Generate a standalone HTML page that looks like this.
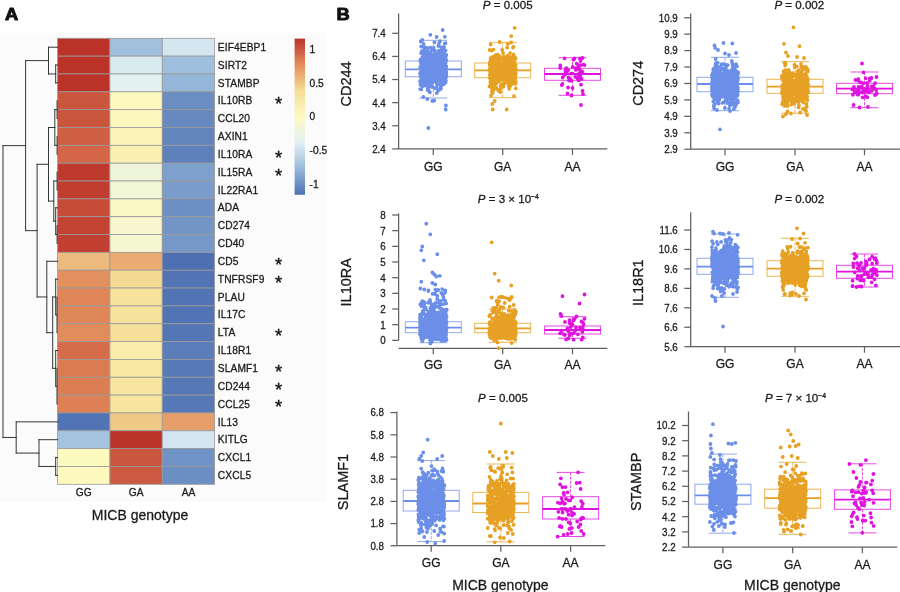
<!DOCTYPE html>
<html lang="en"><head><meta charset="utf-8"><title>MICB genotype figure</title>
<style>html,body{margin:0;padding:0;background:#fff}svg{display:block}text{font-family:"Liberation Sans", Arial, Helvetica, sans-serif;stroke:#1a1a1a;stroke-width:0.28px}</style>
</head><body>
<svg width="900" height="592" viewBox="0 0 900 592">
<rect width="900" height="592" fill="#ffffff"/>
<rect x="0" y="33" width="326" height="469" fill="#fbfbfb"/>
<g stroke="#9a9a9a" stroke-width="0.8">
<rect x="57.60" y="38.30" width="52.33" height="17.84" fill="#bb3229"/>
<rect x="109.93" y="38.30" width="52.33" height="17.84" fill="#a0c0dd"/>
<rect x="162.27" y="38.30" width="52.33" height="17.84" fill="#d4e6ef"/>
<rect x="57.60" y="56.14" width="52.33" height="17.84" fill="#bb3229"/>
<rect x="109.93" y="56.14" width="52.33" height="17.84" fill="#daeaf1"/>
<rect x="162.27" y="56.14" width="52.33" height="17.84" fill="#9ebfdd"/>
<rect x="57.60" y="73.98" width="52.33" height="17.84" fill="#bb3229"/>
<rect x="109.93" y="73.98" width="52.33" height="17.84" fill="#e3f1f1"/>
<rect x="162.27" y="73.98" width="52.33" height="17.84" fill="#94b7d9"/>
<rect x="57.60" y="91.82" width="52.33" height="17.84" fill="#ca563d"/>
<rect x="109.93" y="91.82" width="52.33" height="17.84" fill="#fdf9be"/>
<rect x="162.27" y="91.82" width="52.33" height="17.84" fill="#6a8dc2"/>
<rect x="57.60" y="109.66" width="52.33" height="17.84" fill="#ca563d"/>
<rect x="109.93" y="109.66" width="52.33" height="17.84" fill="#fcf8bd"/>
<rect x="162.27" y="109.66" width="52.33" height="17.84" fill="#6789c0"/>
<rect x="57.60" y="127.50" width="52.33" height="17.84" fill="#ce5f42"/>
<rect x="109.93" y="127.50" width="52.33" height="17.84" fill="#fcf4b7"/>
<rect x="162.27" y="127.50" width="52.33" height="17.84" fill="#6385be"/>
<rect x="57.60" y="145.34" width="52.33" height="17.84" fill="#d26647"/>
<rect x="109.93" y="145.34" width="52.33" height="17.84" fill="#faf0b1"/>
<rect x="162.27" y="145.34" width="52.33" height="17.84" fill="#5f81bb"/>
<rect x="57.60" y="163.18" width="52.33" height="17.84" fill="#be392d"/>
<rect x="109.93" y="163.18" width="52.33" height="17.84" fill="#eff5db"/>
<rect x="162.27" y="163.18" width="52.33" height="17.84" fill="#7da0cc"/>
<rect x="57.60" y="181.02" width="52.33" height="17.84" fill="#c03e30"/>
<rect x="109.93" y="181.02" width="52.33" height="17.84" fill="#f1f6d7"/>
<rect x="162.27" y="181.02" width="52.33" height="17.84" fill="#7a9cca"/>
<rect x="57.60" y="198.86" width="52.33" height="17.84" fill="#c64c38"/>
<rect x="109.93" y="198.86" width="52.33" height="17.84" fill="#faf9c5"/>
<rect x="162.27" y="198.86" width="52.33" height="17.84" fill="#6e91c4"/>
<rect x="57.60" y="216.70" width="52.33" height="17.84" fill="#c24332"/>
<rect x="109.93" y="216.70" width="52.33" height="17.84" fill="#f6f7ce"/>
<rect x="162.27" y="216.70" width="52.33" height="17.84" fill="#7496c7"/>
<rect x="57.60" y="234.54" width="52.33" height="17.84" fill="#c14031"/>
<rect x="109.93" y="234.54" width="52.33" height="17.84" fill="#f4f7d0"/>
<rect x="162.27" y="234.54" width="52.33" height="17.84" fill="#7698c8"/>
<rect x="57.60" y="252.38" width="52.33" height="17.84" fill="#edba7d"/>
<rect x="109.93" y="252.38" width="52.33" height="17.84" fill="#eaac72"/>
<rect x="162.27" y="252.38" width="52.33" height="17.84" fill="#4e70b2"/>
<rect x="57.60" y="270.22" width="52.33" height="17.84" fill="#e3905f"/>
<rect x="109.93" y="270.22" width="52.33" height="17.84" fill="#f5da93"/>
<rect x="162.27" y="270.22" width="52.33" height="17.84" fill="#5274b4"/>
<rect x="57.60" y="288.06" width="52.33" height="17.84" fill="#df8558"/>
<rect x="109.93" y="288.06" width="52.33" height="17.84" fill="#f7e29c"/>
<rect x="162.27" y="288.06" width="52.33" height="17.84" fill="#5274b4"/>
<rect x="57.60" y="305.90" width="52.33" height="17.84" fill="#e08759"/>
<rect x="109.93" y="305.90" width="52.33" height="17.84" fill="#f7e29d"/>
<rect x="162.27" y="305.90" width="52.33" height="17.84" fill="#5274b4"/>
<rect x="57.60" y="323.74" width="52.33" height="17.84" fill="#e28c5c"/>
<rect x="109.93" y="323.74" width="52.33" height="17.84" fill="#f6df98"/>
<rect x="162.27" y="323.74" width="52.33" height="17.84" fill="#5476b5"/>
<rect x="57.60" y="341.58" width="52.33" height="17.84" fill="#d56d4b"/>
<rect x="109.93" y="341.58" width="52.33" height="17.84" fill="#faedac"/>
<rect x="162.27" y="341.58" width="52.33" height="17.84" fill="#5b7db9"/>
<rect x="57.60" y="359.42" width="52.33" height="17.84" fill="#db7b53"/>
<rect x="109.93" y="359.42" width="52.33" height="17.84" fill="#f8e7a3"/>
<rect x="162.27" y="359.42" width="52.33" height="17.84" fill="#577ab7"/>
<rect x="57.60" y="377.26" width="52.33" height="17.84" fill="#dc7e54"/>
<rect x="109.93" y="377.26" width="52.33" height="17.84" fill="#f8e5a1"/>
<rect x="162.27" y="377.26" width="52.33" height="17.84" fill="#5678b6"/>
<rect x="57.60" y="395.10" width="52.33" height="17.84" fill="#dd8055"/>
<rect x="109.93" y="395.10" width="52.33" height="17.84" fill="#f7e49f"/>
<rect x="162.27" y="395.10" width="52.33" height="17.84" fill="#5678b6"/>
<rect x="57.60" y="412.94" width="52.33" height="17.84" fill="#5274b4"/>
<rect x="109.93" y="412.94" width="52.33" height="17.84" fill="#f1c987"/>
<rect x="162.27" y="412.94" width="52.33" height="17.84" fill="#e79f69"/>
<rect x="57.60" y="430.78" width="52.33" height="17.84" fill="#a4c3df"/>
<rect x="109.93" y="430.78" width="52.33" height="17.84" fill="#bb3229"/>
<rect x="162.27" y="430.78" width="52.33" height="17.84" fill="#d4e6ef"/>
<rect x="57.60" y="448.62" width="52.33" height="17.84" fill="#fdfac0"/>
<rect x="109.93" y="448.62" width="52.33" height="17.84" fill="#ca563d"/>
<rect x="162.27" y="448.62" width="52.33" height="17.84" fill="#7093c5"/>
<rect x="57.60" y="466.46" width="52.33" height="17.84" fill="#fdf9be"/>
<rect x="109.93" y="466.46" width="52.33" height="17.84" fill="#cc5a40"/>
<rect x="162.27" y="466.46" width="52.33" height="17.84" fill="#6c8fc3"/>
</g>
<g font-size="10.2" fill="#1a1a1a" letter-spacing="0.12">
<text x="217.8" y="50.87">EIF4EBP1</text>
<text x="217.8" y="68.71">SIRT2</text>
<text x="217.8" y="86.55">STAMBP</text>
<text x="217.8" y="104.39">IL10RB</text>
<text x="217.8" y="122.23">CCL20</text>
<text x="217.8" y="140.07">AXIN1</text>
<text x="217.8" y="157.91">IL10RA</text>
<text x="217.8" y="175.75">IL15RA</text>
<text x="217.8" y="193.59">IL22RA1</text>
<text x="217.8" y="211.43">ADA</text>
<text x="217.8" y="229.27">CD274</text>
<text x="217.8" y="247.11">CD40</text>
<text x="217.8" y="264.95">CD5</text>
<text x="217.8" y="282.79">TNFRSF9</text>
<text x="217.8" y="300.63">PLAU</text>
<text x="217.8" y="318.47">IL17C</text>
<text x="217.8" y="336.31">LTA</text>
<text x="217.8" y="354.15">IL18R1</text>
<text x="217.8" y="371.99">SLAMF1</text>
<text x="217.8" y="389.83">CD244</text>
<text x="217.8" y="407.67">CCL25</text>
<text x="217.8" y="425.51">IL13</text>
<text x="217.8" y="443.35">KITLG</text>
<text x="217.8" y="461.19">CXCL1</text>
<text x="217.8" y="479.03">CXCL5</text>
</g>
<g font-size="18.5" fill="#111" stroke="#111" stroke-width="0.35" text-anchor="middle">
<text x="278.6" y="110.14" style="stroke:#111;stroke-width:0.35px">*</text>
<text x="278.6" y="163.66" style="stroke:#111;stroke-width:0.35px">*</text>
<text x="278.6" y="181.50" style="stroke:#111;stroke-width:0.35px">*</text>
<text x="278.6" y="270.70" style="stroke:#111;stroke-width:0.35px">*</text>
<text x="278.6" y="288.54" style="stroke:#111;stroke-width:0.35px">*</text>
<text x="278.6" y="342.06" style="stroke:#111;stroke-width:0.35px">*</text>
<text x="278.6" y="377.74" style="stroke:#111;stroke-width:0.35px">*</text>
<text x="278.6" y="395.58" style="stroke:#111;stroke-width:0.35px">*</text>
<text x="278.6" y="413.42" style="stroke:#111;stroke-width:0.35px">*</text>
</g>
<g font-size="10.2" fill="#1a1a1a" text-anchor="middle">
<text x="83.77" y="495.8">GG</text>
<text x="136.10" y="495.8">GA</text>
<text x="188.43" y="495.8">AA</text>
</g>
<text x="140" y="519.5" font-size="14" fill="#1a1a1a" text-anchor="middle">MICB genotype</text>
<defs><linearGradient id="lg" x1="0" y1="0" x2="0" y2="1">
<stop offset="0.0000" stop-color="#bb3229"/>
<stop offset="0.1652" stop-color="#e28c5c"/>
<stop offset="0.3348" stop-color="#f6de96"/>
<stop offset="0.5000" stop-color="#fdfac0"/>
<stop offset="0.6652" stop-color="#e2f0f4"/>
<stop offset="0.8348" stop-color="#96b9da"/>
<stop offset="1.0000" stop-color="#4e70b2"/>
</linearGradient></defs>
<rect x="294.6" y="38.6" width="10.4" height="156.2" fill="url(#lg)"/>
<g font-size="10.2" fill="#1a1a1a">
<text x="309.6" y="52.85">1</text>
<text x="309.6" y="86.75">0.5</text>
<text x="309.6" y="120.35">0</text>
<text x="309.6" y="154.25">-0.5</text>
<text x="309.6" y="188.45">-1</text>
</g>
<path d="M48.50 47.22L57.60 47.22M55.70 65.06L57.60 65.06M55.70 82.90L57.60 82.90M55.70 65.06L55.70 82.90M48.50 73.98L55.70 73.98M48.50 47.22L48.50 73.98M25.60 60.60L48.50 60.60M57.10 100.74L57.10 118.58M57.10 136.42L57.10 154.26M54.80 109.66L57.10 109.66M54.80 145.34L57.10 145.34M54.80 109.66L54.80 145.34M48.50 127.50L54.80 127.50M57.10 172.10L57.10 189.94M53.80 181.02L57.10 181.02M57.10 225.62L57.10 243.46M55.70 234.54L57.10 234.54M55.70 207.78L57.60 207.78M55.70 207.78L55.70 234.54M53.80 221.16L55.70 221.16M53.80 181.02L53.80 221.16M48.50 201.09L53.80 201.09M48.50 127.50L48.50 201.09M37.10 164.29L48.50 164.29M57.00 296.98L57.00 332.66M55.70 314.82L57.00 314.82M55.70 279.14L57.60 279.14M55.70 279.14L55.70 314.82M52.70 296.98L55.70 296.98M57.00 368.34L57.00 404.02M55.70 386.18L57.00 386.18M55.70 350.50L57.60 350.50M55.70 350.50L55.70 386.18M52.70 368.34L55.70 368.34M52.70 296.98L52.70 368.34M46.80 332.66L52.70 332.66M46.80 261.30L57.60 261.30M46.80 261.30L46.80 332.66M37.10 296.98L46.80 296.98M37.10 164.29L37.10 296.98M25.60 230.64L37.10 230.64M25.60 60.60L25.60 230.64M3.00 145.62L25.60 145.62M55.70 457.54L57.60 457.54M55.70 475.38L57.60 475.38M55.70 457.54L55.70 475.38M39.00 466.46L55.70 466.46M39.00 439.70L57.60 439.70M39.00 439.70L39.00 466.46M16.20 453.08L39.00 453.08M16.20 421.86L57.60 421.86M16.20 421.86L16.20 453.08M3.00 437.47L16.20 437.47M3.00 145.62L3.00 437.47" stroke="#2b2b2b" stroke-width="0.95" fill="none" stroke-linecap="square"/>
<text transform="translate(5 20.3) scale(1.11 1)" font-size="16.5" font-weight="bold" fill="#111" style="stroke:#111;stroke-width:0.9px;stroke-linejoin:round">A</text>
<text transform="translate(336.6 20.4) scale(1.11 1)" font-size="16.5" font-weight="bold" fill="#111" style="stroke:#111;stroke-width:0.9px;stroke-linejoin:round">B</text>
<g stroke="#606060" stroke-width="1.25" fill="none">
<path d="M398.60 13.50V148.90"/>
<path d="M398.60 148.90H607.30"/>
<path d="M392.20 33.30H398.60"/>
<path d="M392.20 56.42H398.60"/>
<path d="M392.20 79.54H398.60"/>
<path d="M392.20 102.66H398.60"/>
<path d="M392.20 125.78H398.60"/>
<path d="M392.20 148.90H398.60"/>
<path d="M433.30 148.90V154.90"/>
<path d="M502.70 148.90V154.90"/>
<path d="M572.50 148.90V154.90"/>
</g>
<g font-size="10.8" fill="#1a1a1a" text-anchor="end">
<text transform="translate(385.70 37.15) scale(.905 1)">7.4</text>
<text transform="translate(385.70 60.27) scale(.905 1)">6.4</text>
<text transform="translate(385.70 83.39) scale(.905 1)">5.4</text>
<text transform="translate(385.70 106.51) scale(.905 1)">4.4</text>
<text transform="translate(385.70 129.63) scale(.905 1)">3.4</text>
<text transform="translate(385.70 152.75) scale(.905 1)">2.4</text>
</g>
<g font-size="12.5" fill="#1a1a1a" text-anchor="middle">
<text transform="translate(433.30 170.55) scale(.96 1)">GG</text>
<text transform="translate(502.70 170.55) scale(.96 1)">GA</text>
<text transform="translate(572.50 170.55) scale(.96 1)">AA</text>
</g>
<text transform="translate(350.90 84.00) rotate(-90) scale(.94 1)" font-size="15.4" fill="#1a1a1a" text-anchor="middle">CD244</text>
<text x="507.70" y="8.50" font-size="11.55" fill="#1a1a1a" text-anchor="middle"><tspan font-style="italic">P</tspan> = 0.005</text>
<g stroke="#8fa9ee" stroke-width="1" fill="none">
<rect x="405.30" y="61.00" width="56.00" height="15.70"/>
<path d="M419.30 40.30H447.30M419.30 98.00H447.30"/>
<path d="M433.30 40.30V61.00M433.30 76.70V98.00" stroke-dasharray="3 1.2"/>
</g>
<path d="M405.30 69.30H461.30" stroke="#6b8fe8" stroke-width="1.8"/>
<path stroke="#6b8fe8" stroke-width="3.8" stroke-linecap="round" fill="none" d="M422.0 60.5h.01M429.8 80.2h.01M431.5 66.4h.01M422.5 69.2h.01M426.0 66.8h.01M445.1 73.5h.01M421.3 89.4h.01M427.7 84.5h.01M441.6 62.7h.01M435.5 63.3h.01M421.8 77.4h.01M425.5 59.9h.01M435.6 76.5h.01M428.0 65.4h.01M435.3 71.5h.01M443.2 75.8h.01M423.2 75.4h.01M440.1 41.2h.01M437.7 66.4h.01M435.2 69.5h.01M435.8 74.8h.01M432.1 82.4h.01M437.6 79.1h.01M438.6 65.3h.01M427.6 86.4h.01M437.8 68.5h.01M423.2 63.2h.01M440.4 67.8h.01M443.1 69.1h.01M432.0 59.0h.01M442.9 82.0h.01M431.1 56.5h.01M424.1 49.9h.01M426.2 52.0h.01M427.0 55.6h.01M431.2 68.0h.01M438.3 45.9h.01M436.4 78.5h.01M440.7 87.9h.01M441.2 75.9h.01M436.8 65.4h.01M421.9 66.4h.01M421.5 64.4h.01M424.1 61.3h.01M443.2 67.8h.01M424.0 70.9h.01M423.3 63.6h.01M446.3 76.5h.01M422.8 64.9h.01M427.1 68.9h.01M445.2 70.4h.01M424.0 71.0h.01M445.9 80.4h.01M438.5 71.2h.01M440.5 65.1h.01M440.7 73.4h.01M446.1 66.1h.01M441.4 85.9h.01M433.8 69.7h.01M420.9 61.9h.01M438.4 67.8h.01M431.9 76.3h.01M429.7 92.2h.01M426.1 67.4h.01M443.9 65.2h.01M432.8 81.7h.01M437.5 70.5h.01M440.8 73.0h.01M440.9 75.0h.01M441.2 68.4h.01M445.1 76.7h.01M424.6 75.0h.01M441.4 56.2h.01M441.9 51.1h.01M434.6 74.0h.01M420.5 61.3h.01M444.7 75.9h.01M443.1 59.1h.01M427.8 71.0h.01M435.6 61.7h.01M444.1 64.5h.01M432.2 66.6h.01M444.3 77.2h.01M434.1 74.8h.01M424.9 79.2h.01M441.2 68.0h.01M434.8 52.9h.01M433.8 66.5h.01M434.9 70.2h.01M427.4 64.5h.01M440.2 81.1h.01M431.8 69.9h.01M438.4 80.3h.01M434.2 68.9h.01M443.2 54.3h.01M427.0 74.4h.01M423.7 85.8h.01M431.8 62.4h.01M437.8 69.1h.01M443.8 72.9h.01M423.9 66.1h.01M445.6 82.5h.01M433.0 59.3h.01M442.1 72.0h.01M429.1 58.0h.01M428.5 64.1h.01M431.7 80.9h.01M428.9 67.7h.01M446.1 72.7h.01M445.8 69.6h.01M440.7 69.0h.01M423.5 66.4h.01M426.9 53.1h.01M444.4 59.2h.01M421.6 70.5h.01M431.3 73.1h.01M441.3 55.7h.01M442.7 63.8h.01M429.1 61.9h.01M444.6 77.0h.01M426.4 60.6h.01M424.4 60.1h.01M428.2 66.6h.01M427.8 76.9h.01M420.6 73.0h.01M420.5 60.7h.01M432.6 75.0h.01M422.9 71.2h.01M442.1 79.1h.01M433.5 64.3h.01M442.1 77.7h.01M436.9 70.2h.01M423.5 67.3h.01M439.7 66.5h.01M442.3 67.0h.01M437.8 72.6h.01M432.2 68.9h.01M431.9 60.7h.01M434.5 42.3h.01M445.6 62.7h.01M430.2 69.0h.01M433.4 68.9h.01M427.1 68.3h.01M430.6 69.3h.01M426.2 60.6h.01M434.1 70.4h.01M443.3 77.3h.01M428.7 55.6h.01M437.1 78.0h.01M442.2 55.9h.01M441.5 79.8h.01M433.9 57.2h.01M441.9 77.8h.01M443.7 83.6h.01M420.9 71.6h.01M429.6 62.3h.01M436.7 62.5h.01M438.1 79.4h.01M439.9 50.8h.01M434.2 69.6h.01M426.8 83.1h.01M427.1 62.5h.01M445.9 73.5h.01M430.2 53.0h.01M436.4 62.2h.01M422.1 83.7h.01M428.1 68.9h.01M420.4 84.5h.01M438.4 67.5h.01M427.8 83.0h.01M423.2 79.4h.01M425.4 71.6h.01M432.2 70.9h.01M445.7 70.0h.01M445.1 68.5h.01M435.5 62.2h.01M423.6 44.0h.01M433.5 72.7h.01M443.8 71.2h.01M420.8 62.1h.01M428.1 58.0h.01M429.2 68.7h.01M439.9 69.0h.01M423.3 69.8h.01M427.8 73.9h.01M430.5 47.6h.01M431.4 76.7h.01M421.4 64.1h.01M444.8 65.0h.01M427.1 62.0h.01M445.3 72.6h.01M441.5 77.6h.01M434.6 88.1h.01M421.4 80.6h.01M437.1 84.0h.01M421.4 64.0h.01M429.2 76.6h.01M439.6 60.9h.01M428.0 70.2h.01M430.5 82.7h.01M444.0 65.6h.01M425.9 63.3h.01M423.8 79.4h.01M422.5 69.0h.01M426.9 62.9h.01M443.5 73.0h.01M433.9 77.4h.01M429.0 63.7h.01M423.4 64.6h.01M436.7 93.1h.01M426.7 70.9h.01M431.9 61.3h.01M420.7 80.2h.01M438.8 52.2h.01M420.1 81.4h.01M444.6 67.0h.01M426.7 84.5h.01M424.2 47.5h.01M439.2 78.4h.01M440.3 89.3h.01M440.8 66.5h.01M444.4 68.4h.01M426.7 70.9h.01M438.5 73.9h.01M435.5 57.9h.01M426.0 63.9h.01M432.3 77.1h.01M437.1 69.8h.01M426.6 76.0h.01M438.7 70.3h.01M437.9 57.3h.01M426.9 67.6h.01M421.0 75.2h.01M431.2 65.9h.01M439.6 74.6h.01M425.5 84.9h.01M426.2 75.8h.01M440.2 51.6h.01M425.0 57.7h.01M431.1 65.7h.01M430.5 74.2h.01M445.8 67.5h.01M430.5 65.8h.01M443.4 70.3h.01M428.8 90.7h.01M444.8 68.9h.01M430.1 82.7h.01M428.9 66.3h.01M429.4 60.9h.01M423.4 69.4h.01M441.8 71.6h.01M431.5 77.7h.01M444.4 59.4h.01M429.7 67.6h.01M441.5 78.6h.01M421.2 71.1h.01M426.9 47.8h.01M443.8 77.2h.01M436.4 65.7h.01M439.0 43.5h.01M440.0 69.2h.01M436.8 70.1h.01M432.6 76.0h.01M445.3 70.3h.01M433.1 69.2h.01M424.9 79.1h.01M440.5 70.5h.01M428.8 86.4h.01M422.2 57.6h.01M440.0 55.5h.01M434.7 66.8h.01M446.0 68.2h.01M422.3 76.5h.01M433.3 68.7h.01M431.1 75.7h.01M437.9 71.5h.01M423.3 77.1h.01M427.9 80.5h.01M425.4 79.8h.01M426.6 57.2h.01M428.7 59.2h.01M446.3 60.3h.01M437.3 71.3h.01M422.8 86.0h.01M444.2 61.0h.01M427.9 51.3h.01M435.5 59.0h.01M429.9 92.3h.01M440.6 76.1h.01M422.9 71.5h.01M429.8 74.0h.01M425.5 64.3h.01M425.5 57.1h.01M428.7 60.5h.01M425.5 72.5h.01M434.6 76.6h.01M434.6 61.0h.01M422.5 74.8h.01M427.6 65.7h.01M445.3 59.3h.01M431.1 60.4h.01M446.4 72.8h.01M425.5 63.9h.01M443.9 53.5h.01M443.4 64.8h.01M424.4 59.8h.01M444.1 55.3h.01M436.5 64.6h.01M427.6 63.5h.01M444.5 69.4h.01M445.6 50.6h.01M423.4 68.2h.01M421.5 79.8h.01M430.3 70.9h.01M424.3 81.8h.01M426.0 81.1h.01M424.9 58.2h.01M430.7 53.3h.01M426.6 72.8h.01M443.8 72.5h.01M421.1 53.2h.01M423.2 75.2h.01M428.2 81.6h.01M435.5 64.8h.01M431.7 63.2h.01M436.4 59.8h.01M440.7 67.7h.01M424.8 51.8h.01M431.5 65.1h.01M431.8 65.9h.01M422.3 82.0h.01M440.6 72.6h.01M430.1 79.6h.01M423.7 73.0h.01M441.6 84.3h.01M446.0 68.9h.01M424.5 47.1h.01M444.7 74.8h.01M424.3 59.0h.01M427.4 81.8h.01M444.4 76.1h.01M427.0 59.7h.01M424.9 70.4h.01M444.8 66.7h.01M440.8 73.7h.01M434.1 65.5h.01M434.8 81.2h.01M443.4 83.8h.01M430.5 54.7h.01M427.1 69.9h.01M440.3 77.0h.01M424.8 64.7h.01M426.8 85.6h.01M446.1 74.4h.01M420.1 73.4h.01M424.0 61.6h.01M443.7 79.4h.01M426.1 64.2h.01M429.5 70.0h.01M429.5 69.2h.01M425.5 57.4h.01M432.6 75.5h.01M424.0 62.2h.01M436.9 66.3h.01M427.1 71.2h.01M437.1 59.0h.01M431.8 77.1h.01M439.5 80.0h.01M434.1 66.7h.01M426.4 67.5h.01M434.6 69.0h.01M423.9 70.7h.01M437.0 59.7h.01M424.7 76.2h.01M443.6 68.3h.01M439.0 72.1h.01M432.4 59.7h.01M432.0 81.9h.01M421.1 63.4h.01M439.9 64.7h.01M427.1 77.5h.01M431.6 81.3h.01M437.0 76.5h.01M425.8 70.4h.01M426.3 76.4h.01M445.0 70.0h.01M428.8 78.1h.01M444.1 50.4h.01M445.9 74.1h.01M442.3 55.0h.01M439.2 75.5h.01M428.2 77.0h.01M444.1 66.3h.01M420.8 66.4h.01M423.8 60.7h.01M421.2 65.2h.01M439.6 78.8h.01M435.7 57.4h.01M443.6 61.4h.01M443.0 51.9h.01M425.5 73.4h.01M421.0 67.6h.01M441.9 74.3h.01M427.7 81.4h.01M425.5 55.1h.01M431.3 59.3h.01M439.0 68.9h.01M428.6 60.9h.01M436.4 87.3h.01M431.0 68.8h.01M438.7 67.9h.01M425.8 77.7h.01M424.6 83.7h.01M425.4 58.9h.01M433.1 70.2h.01M441.1 69.2h.01M442.1 59.8h.01M445.0 69.0h.01M433.3 65.8h.01M436.9 53.7h.01M440.9 65.5h.01M429.5 83.2h.01M422.4 52.1h.01M420.8 81.2h.01M433.3 67.5h.01M443.4 47.1h.01M440.0 56.9h.01M437.2 72.1h.01M442.4 66.5h.01M439.7 74.0h.01M435.4 52.8h.01M432.3 62.6h.01M428.1 69.8h.01M442.4 75.3h.01M428.7 65.0h.01M424.3 75.1h.01M439.3 58.8h.01M445.5 43.2h.01M441.1 47.1h.01M431.6 86.9h.01M425.6 66.1h.01M421.0 65.6h.01M433.3 65.2h.01M432.3 83.0h.01M439.7 60.9h.01M431.5 75.0h.01M426.1 69.4h.01M443.3 78.9h.01M438.0 74.9h.01M432.1 86.5h.01M431.2 66.0h.01M438.9 72.3h.01M432.1 69.3h.01M430.9 79.0h.01M437.4 74.6h.01M430.4 71.8h.01M434.4 66.5h.01M440.7 68.8h.01M435.3 73.5h.01M439.0 69.8h.01M433.9 80.4h.01M445.1 54.4h.01M440.2 65.2h.01M446.1 59.8h.01M430.7 61.5h.01M431.2 66.4h.01M427.1 66.2h.01M439.7 60.2h.01M441.3 75.7h.01M425.7 68.1h.01M436.8 66.2h.01M434.9 50.7h.01M437.0 59.9h.01M441.6 71.2h.01M423.4 65.7h.01M429.5 80.5h.01M426.8 70.3h.01M425.0 59.3h.01M426.6 67.8h.01M432.8 61.0h.01M429.7 59.4h.01M442.7 79.6h.01M440.8 58.7h.01M442.0 49.5h.01M445.2 70.7h.01M426.7 69.4h.01M440.6 64.6h.01M424.1 63.4h.01M443.6 70.7h.01M440.7 74.7h.01M442.2 82.1h.01M438.4 58.0h.01M443.4 69.8h.01M427.1 79.2h.01M421.6 61.6h.01M423.9 60.0h.01M442.9 56.4h.01M442.3 69.2h.01M442.3 55.2h.01M431.2 63.4h.01M436.9 81.0h.01M436.2 62.6h.01M446.0 76.8h.01M432.9 72.7h.01M436.6 83.6h.01M442.8 65.8h.01M440.4 56.8h.01M431.6 67.3h.01M427.8 51.0h.01M430.8 75.0h.01M445.8 70.8h.01M441.0 80.2h.01M435.6 65.7h.01M440.8 76.4h.01M434.5 65.6h.01M428.0 48.1h.01M436.2 60.7h.01M440.9 88.6h.01M436.6 79.1h.01M435.8 77.5h.01M432.2 72.5h.01M422.8 82.6h.01M444.2 51.9h.01M429.8 73.0h.01M426.9 72.0h.01M431.2 56.4h.01M444.8 55.9h.01M435.1 63.0h.01M435.3 55.5h.01M431.9 80.7h.01M444.9 58.8h.01M432.7 77.3h.01M425.7 57.4h.01M420.5 60.4h.01M445.6 67.2h.01M443.1 64.5h.01M426.5 52.9h.01M425.0 70.9h.01M442.7 66.8h.01M422.3 83.7h.01M444.7 71.9h.01M445.6 58.2h.01M437.3 70.9h.01M422.2 69.4h.01M442.8 68.5h.01M421.7 63.1h.01M438.0 59.4h.01M441.2 64.3h.01M431.1 60.4h.01M440.9 57.8h.01M427.8 71.9h.01M445.8 56.2h.01M436.1 73.2h.01M442.0 76.6h.01M443.5 72.8h.01M438.2 59.1h.01M427.6 82.6h.01M427.0 57.9h.01M443.5 53.0h.01M442.1 59.4h.01M427.3 77.4h.01M441.4 78.2h.01M422.3 76.6h.01M441.2 73.7h.01M426.3 69.3h.01M438.0 90.7h.01M439.9 67.2h.01M432.2 76.1h.01M426.2 63.1h.01M443.8 84.2h.01M435.7 79.7h.01M425.2 67.7h.01M435.0 66.3h.01M433.8 59.9h.01M430.0 59.5h.01M424.2 57.1h.01M429.2 81.3h.01M446.2 71.7h.01M432.9 69.6h.01M431.3 70.5h.01M440.4 85.3h.01M421.1 76.2h.01M424.9 67.5h.01M443.1 56.8h.01M445.1 65.1h.01M430.6 80.8h.01M445.4 63.8h.01M445.3 55.7h.01M430.5 74.5h.01M446.3 54.9h.01M421.1 46.6h.01M444.0 55.9h.01M421.3 85.3h.01M446.1 72.6h.01M423.9 54.9h.01M428.0 82.2h.01M440.1 74.5h.01M423.4 65.7h.01M424.6 62.2h.01M420.4 59.6h.01M425.3 80.2h.01M444.8 62.7h.01M443.6 72.2h.01M444.6 64.9h.01M436.7 70.7h.01M432.7 59.0h.01M423.9 83.8h.01M434.7 54.0h.01M443.1 63.6h.01M427.3 64.2h.01M428.9 72.1h.01M443.9 60.3h.01M445.9 68.8h.01M425.7 57.2h.01M427.7 59.9h.01M446.3 66.4h.01M444.5 77.7h.01M421.6 63.9h.01M427.8 88.3h.01M429.1 85.9h.01M420.2 67.4h.01M431.6 75.1h.01M425.9 70.3h.01M440.4 73.1h.01M425.3 73.7h.01M433.2 57.2h.01M425.5 61.9h.01M435.5 73.7h.01M421.8 51.1h.01M421.6 81.7h.01M428.9 77.3h.01M420.5 76.4h.01M432.7 77.4h.01M442.1 69.9h.01M424.4 62.7h.01M433.8 68.5h.01M433.7 68.7h.01M442.9 65.1h.01M438.9 50.7h.01M443.1 69.3h.01M433.2 72.6h.01M420.6 80.5h.01M426.0 71.5h.01M441.7 63.0h.01M422.6 64.6h.01M435.9 69.9h.01M433.9 70.9h.01M439.0 84.2h.01M423.3 56.7h.01M423.3 60.9h.01M423.7 69.3h.01M435.2 72.6h.01M424.4 73.3h.01M431.2 77.8h.01M434.0 72.8h.01M429.0 52.6h.01M428.9 62.8h.01M444.2 50.7h.01M442.5 71.3h.01M444.8 43.4h.01M431.2 66.5h.01M421.9 76.8h.01M433.4 59.7h.01M440.6 51.8h.01M436.8 88.0h.01M421.0 83.6h.01M427.1 82.0h.01M444.5 71.0h.01M426.7 80.7h.01M427.7 90.0h.01M437.2 59.0h.01M433.7 47.8h.01M432.4 54.9h.01M423.6 72.1h.01M430.8 65.0h.01M434.5 69.1h.01M436.2 73.3h.01M438.9 72.9h.01M434.6 63.7h.01M426.5 77.1h.01M433.6 67.6h.01M429.4 67.9h.01M426.4 70.0h.01M446.2 76.8h.01M440.5 68.8h.01M431.7 50.2h.01M430.3 60.8h.01M426.0 68.8h.01M439.6 73.7h.01M437.9 64.3h.01M442.5 76.6h.01M439.7 84.3h.01M432.6 71.0h.01M423.5 74.6h.01M420.2 89.1h.01M445.5 78.6h.01M431.1 74.9h.01M430.1 78.1h.01M432.2 59.2h.01M434.8 71.7h.01M428.6 59.4h.01M431.8 75.7h.01M428.1 59.4h.01M422.4 57.2h.01M428.7 74.9h.01M425.5 81.5h.01M444.1 47.1h.01M433.2 56.5h.01M440.5 72.8h.01M433.8 80.4h.01M430.4 69.4h.01M445.1 61.3h.01M434.0 74.1h.01M434.9 61.9h.01M443.3 75.9h.01M436.6 79.2h.01M429.2 70.1h.01M428.5 71.6h.01M441.9 74.5h.01M438.3 84.3h.01M442.7 30.0h.01M430.3 34.8h.01M436.6 37.0h.01M444.8 36.8h.01M428.3 128.0h.01M445.9 105.5h.01M445.7 109.5h.01M427.3 99.0h.01M434.3 100.5h.01M432.3 101.0h.01M423.3 97.0h.01M420.8 41.5h.01M422.3 40.0h.01"/>
<g stroke="#ecb655" stroke-width="1" fill="none">
<rect x="474.70" y="63.00" width="56.00" height="14.70"/>
<path d="M488.70 42.30H516.70M488.70 97.70H516.70"/>
<path d="M502.70 42.30V63.00M502.70 77.70V97.70" stroke-dasharray="3 1.2"/>
</g>
<path d="M474.70 70.30H530.70" stroke="#e6a023" stroke-width="1.8"/>
<path stroke="#e6a023" stroke-width="3.8" stroke-linecap="round" fill="none" d="M515.6 82.8h.01M497.2 75.0h.01M502.8 72.9h.01M505.4 65.0h.01M515.7 58.6h.01M510.3 79.5h.01M507.7 67.8h.01M505.0 64.4h.01M494.7 87.0h.01M506.6 63.5h.01M515.8 72.7h.01M493.6 74.3h.01M492.3 72.8h.01M511.2 65.0h.01M510.8 80.1h.01M498.0 54.7h.01M498.8 71.5h.01M513.4 69.9h.01M498.7 74.5h.01M513.0 68.0h.01M514.8 72.3h.01M490.7 65.3h.01M512.1 75.1h.01M497.5 56.8h.01M514.8 80.4h.01M499.8 63.8h.01M495.3 72.4h.01M510.4 62.9h.01M494.1 62.9h.01M497.2 60.9h.01M492.5 93.0h.01M491.2 77.4h.01M511.3 64.2h.01M497.0 70.1h.01M490.4 64.4h.01M508.1 73.2h.01M496.6 65.9h.01M511.6 77.2h.01M493.7 77.5h.01M514.8 68.8h.01M514.6 61.6h.01M493.0 71.7h.01M496.4 80.3h.01M496.0 77.8h.01M495.1 74.9h.01M503.8 78.2h.01M509.9 62.7h.01M497.7 63.8h.01M491.8 60.5h.01M507.0 65.6h.01M504.3 63.9h.01M491.2 62.7h.01M495.5 70.3h.01M500.1 68.8h.01M510.0 77.6h.01M496.8 73.5h.01M507.4 66.6h.01M506.9 76.0h.01M496.1 77.9h.01M494.3 78.1h.01M513.6 60.0h.01M490.6 70.9h.01M494.7 67.8h.01M497.7 68.4h.01M494.2 72.1h.01M496.2 83.5h.01M507.6 64.1h.01M510.0 53.1h.01M490.6 70.2h.01M496.0 72.5h.01M510.4 68.5h.01M491.8 57.3h.01M499.9 78.2h.01M491.9 73.9h.01M500.7 76.9h.01M511.4 75.7h.01M501.5 84.4h.01M503.0 67.2h.01M492.9 79.5h.01M510.8 84.1h.01M503.9 66.5h.01M496.1 77.8h.01M498.9 61.6h.01M493.1 67.9h.01M507.2 77.9h.01M501.2 69.7h.01M498.8 81.4h.01M504.4 66.5h.01M511.0 67.0h.01M507.1 70.7h.01M501.7 75.9h.01M497.1 72.5h.01M494.9 66.4h.01M508.0 69.1h.01M492.5 64.4h.01M493.9 61.8h.01M489.8 68.6h.01M508.4 70.3h.01M504.4 74.2h.01M494.5 60.6h.01M489.7 71.0h.01M514.2 78.3h.01M496.1 80.5h.01M509.9 68.9h.01M497.3 72.0h.01M514.0 58.9h.01M510.2 56.9h.01M494.4 70.7h.01M498.0 78.5h.01M511.4 62.0h.01M490.6 67.5h.01M508.1 82.1h.01M514.4 82.6h.01M497.4 65.0h.01M491.6 70.3h.01M515.1 75.5h.01M490.6 61.9h.01M489.6 65.0h.01M512.1 84.1h.01M507.0 77.0h.01M500.6 73.7h.01M511.3 57.8h.01M493.8 75.4h.01M498.7 59.3h.01M491.7 66.2h.01M513.5 46.8h.01M515.2 76.3h.01M491.1 82.6h.01M505.6 81.8h.01M502.2 50.0h.01M497.4 80.1h.01M494.5 68.7h.01M501.3 71.7h.01M504.8 65.6h.01M503.5 62.9h.01M494.3 73.9h.01M504.0 73.1h.01M492.0 65.8h.01M496.1 75.7h.01M504.6 64.2h.01M503.0 68.1h.01M491.4 78.6h.01M512.3 65.8h.01M492.5 73.7h.01M508.6 85.4h.01M494.0 65.9h.01M504.4 78.4h.01M491.0 80.7h.01M499.3 58.4h.01M497.4 65.1h.01M500.7 73.9h.01M504.4 83.8h.01M512.5 83.2h.01M509.7 70.1h.01M511.3 78.7h.01M514.5 59.9h.01M490.6 81.1h.01M510.7 79.7h.01M513.9 63.6h.01M501.3 70.5h.01M504.8 76.3h.01M510.6 65.9h.01M504.1 69.7h.01M493.3 66.9h.01M503.7 78.6h.01M489.9 78.3h.01M493.5 49.6h.01M490.4 81.9h.01M511.1 58.6h.01M493.7 78.5h.01M499.9 76.9h.01M498.2 73.1h.01M513.1 68.0h.01M499.0 75.7h.01M504.7 68.8h.01M504.8 69.7h.01M490.0 69.5h.01M493.3 67.5h.01M496.7 70.5h.01M504.5 63.2h.01M514.8 70.3h.01M509.9 81.9h.01M509.9 72.8h.01M496.9 76.1h.01M512.5 76.9h.01M509.7 73.6h.01M502.9 77.4h.01M500.2 77.2h.01M498.4 61.0h.01M499.2 59.9h.01M495.7 69.5h.01M512.5 69.6h.01M501.3 69.5h.01M491.3 72.1h.01M497.6 65.1h.01M498.5 90.9h.01M504.9 77.2h.01M515.6 65.1h.01M509.9 59.5h.01M502.3 68.0h.01M496.8 72.8h.01M496.6 64.9h.01M495.3 71.1h.01M512.3 66.5h.01M494.7 82.2h.01M491.6 82.5h.01M512.6 73.2h.01M503.7 66.5h.01M506.4 74.8h.01M509.3 72.2h.01M500.2 78.3h.01M500.4 72.0h.01M506.0 67.6h.01M496.3 58.0h.01M489.9 69.9h.01M491.0 95.4h.01M508.6 81.0h.01M493.3 65.9h.01M491.9 73.3h.01M505.0 80.5h.01M506.9 75.6h.01M496.3 77.7h.01M509.7 83.5h.01M515.3 76.1h.01M496.8 55.7h.01M489.7 74.9h.01M506.8 68.5h.01M495.5 88.4h.01M491.9 91.5h.01M502.7 68.2h.01M494.3 72.7h.01M494.2 73.8h.01M513.8 74.2h.01M495.9 54.8h.01M502.7 73.2h.01M501.6 79.5h.01M513.4 56.7h.01M506.5 70.0h.01M512.3 67.0h.01M513.8 61.7h.01M506.1 74.0h.01M501.0 70.2h.01M494.9 63.2h.01M515.7 75.1h.01M504.5 64.3h.01M496.6 58.3h.01M511.2 84.4h.01M513.0 65.2h.01M507.5 61.2h.01M512.8 81.9h.01M512.8 66.8h.01M494.3 66.9h.01M515.8 88.4h.01M515.2 65.9h.01M513.6 69.6h.01M494.0 69.9h.01M491.9 74.5h.01M512.8 57.7h.01M490.4 77.5h.01M490.5 66.7h.01M495.6 83.9h.01M515.7 68.9h.01M512.7 69.2h.01M500.8 65.4h.01M507.6 69.9h.01M492.5 69.5h.01M502.6 59.6h.01M515.0 74.1h.01M508.8 75.5h.01M491.3 67.2h.01M502.9 63.9h.01M489.8 62.2h.01M506.7 73.3h.01M515.4 83.8h.01M508.4 74.6h.01M515.2 66.4h.01M499.7 61.7h.01M489.6 50.0h.01M514.0 96.1h.01M495.9 63.5h.01M492.6 64.6h.01M490.8 74.6h.01M498.1 90.0h.01M515.2 78.0h.01M509.2 67.9h.01M515.8 82.6h.01M506.1 69.5h.01M499.9 80.8h.01M505.7 80.3h.01M503.8 76.0h.01M505.7 58.8h.01M508.5 61.6h.01M502.1 76.0h.01M503.5 57.2h.01M503.4 86.7h.01M511.2 70.7h.01M506.4 64.7h.01M490.6 84.9h.01M511.5 59.0h.01M496.1 74.1h.01M498.9 66.6h.01M491.8 80.3h.01M515.8 69.0h.01M510.6 80.3h.01M493.5 73.6h.01M495.8 77.8h.01M498.5 62.1h.01M504.6 64.2h.01M494.2 69.6h.01M495.9 71.6h.01M491.9 78.4h.01M500.7 74.2h.01M505.8 75.1h.01M499.2 60.8h.01M497.3 73.0h.01M498.8 60.4h.01M504.8 57.0h.01M508.3 79.1h.01M507.1 47.7h.01M499.5 56.5h.01M502.6 77.0h.01M505.1 70.4h.01M501.7 68.2h.01M513.0 79.3h.01M502.5 65.0h.01M509.0 76.5h.01M490.6 58.2h.01M509.8 85.2h.01M495.3 65.1h.01M491.8 68.6h.01M504.4 74.2h.01M502.2 64.3h.01M507.7 57.3h.01M511.1 42.5h.01M493.3 86.7h.01M515.6 69.3h.01M496.4 70.2h.01M504.2 69.7h.01M500.6 88.5h.01M510.7 64.2h.01M496.3 87.7h.01M499.4 59.6h.01M502.4 66.7h.01M494.8 81.3h.01M504.2 82.7h.01M500.3 65.9h.01M498.0 80.8h.01M508.3 68.1h.01M505.1 77.6h.01M512.7 61.2h.01M501.0 66.4h.01M491.4 87.8h.01M494.3 75.9h.01M502.7 85.7h.01M507.3 76.5h.01M493.3 66.1h.01M495.0 87.4h.01M514.6 57.1h.01M506.9 61.3h.01M493.6 58.8h.01M507.9 62.6h.01M495.6 66.4h.01M497.9 76.9h.01M498.1 81.8h.01M493.5 87.0h.01M490.4 79.4h.01M506.4 69.2h.01M501.8 66.4h.01M500.8 71.5h.01M492.7 83.3h.01M515.8 81.7h.01M498.7 77.8h.01M502.6 71.6h.01M512.3 79.2h.01M503.8 76.2h.01M513.1 65.7h.01M495.5 75.9h.01M515.0 82.5h.01M514.4 67.8h.01M501.4 78.2h.01M509.1 67.8h.01M491.3 68.5h.01M492.0 77.8h.01M501.7 73.2h.01M503.1 58.4h.01M504.8 67.4h.01M499.4 66.4h.01M514.4 73.2h.01M511.7 65.5h.01M492.0 75.5h.01M492.6 70.9h.01M501.9 65.9h.01M503.6 69.3h.01M500.2 74.4h.01M492.9 65.8h.01M513.0 62.9h.01M514.4 62.5h.01M507.7 67.3h.01M509.3 58.9h.01M499.9 70.1h.01M497.2 72.6h.01M495.7 80.8h.01M510.2 76.4h.01M505.3 76.7h.01M490.6 72.9h.01M498.5 76.4h.01M501.7 86.1h.01M500.4 92.1h.01M491.8 68.8h.01M493.5 68.9h.01M493.2 56.7h.01M515.3 68.8h.01M510.4 78.4h.01M513.5 54.5h.01M506.3 70.6h.01M510.3 57.9h.01M508.4 57.8h.01M507.3 57.9h.01M493.1 90.7h.01M509.2 88.8h.01M510.7 78.0h.01M510.2 86.1h.01M497.4 77.1h.01M492.6 92.1h.01M510.3 74.7h.01M494.7 66.8h.01M495.7 64.7h.01M508.3 58.7h.01M510.2 62.7h.01M511.3 79.3h.01M491.8 50.5h.01M505.2 74.6h.01M510.4 77.5h.01M492.4 68.7h.01M500.6 70.4h.01M495.1 78.3h.01M511.8 68.1h.01M496.7 71.3h.01M501.2 74.1h.01M507.5 71.9h.01M511.2 66.0h.01M499.1 67.2h.01M513.0 47.6h.01M502.7 77.6h.01M502.9 76.0h.01M493.8 76.8h.01M489.5 86.4h.01M510.9 60.9h.01M498.8 66.9h.01M503.1 53.2h.01M514.0 64.4h.01M506.0 72.1h.01M514.8 67.2h.01M499.4 63.5h.01M507.4 81.4h.01M515.3 79.1h.01M511.5 70.2h.01M509.3 79.7h.01M508.7 73.8h.01M493.1 78.3h.01M513.0 72.1h.01M490.7 60.1h.01M509.2 64.1h.01M497.2 73.3h.01M500.6 85.6h.01M507.4 80.2h.01M514.9 57.1h.01M493.8 73.0h.01M511.3 77.2h.01M503.1 73.2h.01M493.8 74.4h.01M490.9 74.1h.01M499.6 63.4h.01M497.7 76.1h.01M494.7 71.7h.01M496.4 66.3h.01M499.7 68.7h.01M513.5 71.0h.01M511.6 64.2h.01M493.5 71.7h.01M501.9 78.2h.01M496.8 77.7h.01M513.7 56.9h.01M496.4 73.4h.01M490.6 82.9h.01M514.3 78.2h.01M495.9 66.9h.01M507.4 55.8h.01M510.8 65.7h.01M515.0 65.7h.01M507.8 82.7h.01M509.1 87.6h.01M499.9 57.0h.01M512.5 73.8h.01M503.3 75.1h.01M498.4 74.3h.01M500.4 67.5h.01M504.8 78.5h.01M504.6 59.5h.01M511.6 61.3h.01M514.7 27.8h.01M511.2 36.2h.01M492.7 109.5h.01M506.7 109.5h.01M492.2 104.0h.01M494.7 101.0h.01M499.7 42.0h.01M507.7 44.0h.01M490.7 44.5h.01"/>
<g stroke="#e748e7" stroke-width="1" fill="none">
<rect x="544.50" y="68.30" width="56.00" height="12.00"/>
<path d="M558.50 57.70H586.50M558.50 95.30H586.50"/>
<path d="M572.50 57.70V68.30M572.50 80.30V95.30" stroke-dasharray="3 1.2"/>
</g>
<path d="M544.50 74.00H600.50" stroke="#e012e0" stroke-width="1.8"/>
<path stroke="#e012e0" stroke-width="3.8" stroke-linecap="round" fill="none" d="M576.8 63.6h.01M582.5 90.8h.01M580.5 74.1h.01M577.6 77.0h.01M575.3 76.9h.01M580.6 65.2h.01M565.3 70.0h.01M584.4 65.1h.01M569.0 80.6h.01M568.1 87.5h.01M575.7 68.1h.01M571.1 73.6h.01M580.2 76.7h.01M565.6 72.4h.01M568.5 77.4h.01M579.8 69.5h.01M581.0 71.9h.01M579.5 75.9h.01M572.6 73.6h.01M578.1 64.8h.01M570.0 78.3h.01M581.7 78.8h.01M580.1 77.0h.01M561.8 85.0h.01M577.1 68.8h.01M571.4 80.4h.01M567.1 71.3h.01M578.4 67.3h.01M577.6 78.8h.01M566.6 72.2h.01M578.7 80.4h.01M583.0 94.1h.01M565.1 74.5h.01M581.6 71.5h.01M568.9 78.2h.01M575.8 69.9h.01M564.4 74.8h.01M582.5 72.0h.01M562.7 77.5h.01M579.4 73.1h.01M579.9 58.4h.01M580.5 73.1h.01M572.7 66.9h.01M566.3 68.2h.01M583.6 64.6h.01M570.9 80.7h.01M581.0 84.7h.01M560.3 65.4h.01M560.2 68.0h.01M579.7 77.9h.01M573.4 59.7h.01M568.1 70.0h.01M581.0 105.0h.01M571.5 95.5h.01M567.5 93.5h.01M572.5 88.0h.01M562.5 84.0h.01M564.5 58.3h.01M574.5 58.5h.01M582.5 58.0h.01M580.5 61.0h.01"/>
<g stroke="#606060" stroke-width="1.25" fill="none">
<path d="M690.70 13.50V149.20"/>
<path d="M690.70 149.20H900.00"/>
<path d="M684.30 17.70H690.70"/>
<path d="M684.30 34.14H690.70"/>
<path d="M684.30 50.58H690.70"/>
<path d="M684.30 67.02H690.70"/>
<path d="M684.30 83.46H690.70"/>
<path d="M684.30 99.90H690.70"/>
<path d="M684.30 116.34H690.70"/>
<path d="M684.30 132.78H690.70"/>
<path d="M684.30 149.22H690.70"/>
<path d="M725.00 149.20V155.20"/>
<path d="M795.00 149.20V155.20"/>
<path d="M864.50 149.20V155.20"/>
</g>
<g font-size="10.8" fill="#1a1a1a" text-anchor="end">
<text transform="translate(677.80 21.55) scale(.905 1)">10.9</text>
<text transform="translate(677.80 37.99) scale(.905 1)">9.9</text>
<text transform="translate(677.80 54.43) scale(.905 1)">8.9</text>
<text transform="translate(677.80 70.87) scale(.905 1)">7.9</text>
<text transform="translate(677.80 87.31) scale(.905 1)">6.9</text>
<text transform="translate(677.80 103.75) scale(.905 1)">5.9</text>
<text transform="translate(677.80 120.19) scale(.905 1)">4.9</text>
<text transform="translate(677.80 136.63) scale(.905 1)">3.9</text>
<text transform="translate(677.80 153.07) scale(.905 1)">2.9</text>
</g>
<g font-size="12.5" fill="#1a1a1a" text-anchor="middle">
<text transform="translate(725.00 170.55) scale(.96 1)">GG</text>
<text transform="translate(795.00 170.55) scale(.96 1)">GA</text>
<text transform="translate(864.50 170.55) scale(.96 1)">AA</text>
</g>
<text transform="translate(642.70 83.30) rotate(-90) scale(.94 1)" font-size="15.4" fill="#1a1a1a" text-anchor="middle">CD274</text>
<text x="799.30" y="8.50" font-size="11.55" fill="#1a1a1a" text-anchor="middle"><tspan font-style="italic">P</tspan> = 0.002</text>
<g stroke="#8fa9ee" stroke-width="1" fill="none">
<rect x="697.00" y="77.30" width="56.00" height="14.40"/>
<path d="M711.00 57.30H739.00M711.00 110.70H739.00"/>
<path d="M725.00 57.30V77.30M725.00 91.70V110.70" stroke-dasharray="3 1.2"/>
</g>
<path d="M697.00 84.00H753.00" stroke="#6b8fe8" stroke-width="1.8"/>
<path stroke="#6b8fe8" stroke-width="3.8" stroke-linecap="round" fill="none" d="M728.7 92.3h.01M718.2 77.7h.01M727.4 87.3h.01M717.1 81.4h.01M730.5 73.8h.01M713.6 77.9h.01M722.4 94.2h.01M730.6 87.6h.01M724.3 76.4h.01M735.8 73.7h.01M737.9 90.5h.01M722.2 81.6h.01M731.4 90.1h.01M714.3 73.4h.01M713.1 84.9h.01M736.4 81.8h.01M728.7 74.9h.01M718.7 103.5h.01M714.5 70.0h.01M730.5 85.8h.01M725.3 82.3h.01M732.6 79.3h.01M734.3 84.6h.01M733.5 84.3h.01M732.9 93.4h.01M713.2 76.3h.01M712.0 86.5h.01M712.4 93.3h.01M715.0 88.0h.01M717.3 93.8h.01M726.2 66.4h.01M714.3 69.4h.01M714.5 94.9h.01M719.8 70.9h.01M737.6 91.8h.01M712.0 94.5h.01M727.6 74.3h.01M723.8 93.7h.01M736.0 74.7h.01M732.8 92.9h.01M712.6 91.9h.01M734.2 97.0h.01M736.7 80.2h.01M730.5 80.4h.01M720.4 81.6h.01M723.5 76.7h.01M731.9 96.6h.01M738.0 102.3h.01M722.7 85.1h.01M717.9 77.7h.01M732.1 91.5h.01M735.3 88.1h.01M733.6 88.4h.01M728.4 83.2h.01M716.1 62.9h.01M729.0 89.8h.01M735.9 93.1h.01M737.3 87.7h.01M735.7 82.4h.01M718.7 77.3h.01M723.4 90.0h.01M730.0 84.4h.01M718.6 84.1h.01M730.0 77.7h.01M728.8 82.7h.01M729.1 108.7h.01M713.5 86.8h.01M712.2 77.3h.01M724.8 81.4h.01M730.0 87.7h.01M714.4 83.4h.01M722.6 78.8h.01M714.3 98.6h.01M720.8 89.3h.01M717.8 101.7h.01M733.0 87.5h.01M716.8 84.2h.01M716.0 85.3h.01M716.6 96.1h.01M714.4 77.6h.01M726.8 94.3h.01M713.5 75.9h.01M737.2 81.4h.01M730.9 80.5h.01M721.5 82.5h.01M714.7 91.1h.01M721.9 82.1h.01M717.7 91.5h.01M721.4 82.4h.01M724.3 93.3h.01M733.9 97.5h.01M712.6 80.1h.01M730.6 77.1h.01M714.9 77.8h.01M723.4 81.2h.01M713.6 78.6h.01M726.4 64.8h.01M717.7 80.2h.01M737.2 101.9h.01M714.7 91.5h.01M716.3 91.0h.01M717.4 85.1h.01M724.0 82.2h.01M713.8 105.7h.01M729.3 81.7h.01M715.0 78.8h.01M712.1 90.0h.01M725.4 84.7h.01M726.0 70.5h.01M725.0 81.5h.01M733.0 87.1h.01M731.3 88.4h.01M716.6 98.0h.01M727.6 70.7h.01M712.7 89.8h.01M715.5 81.1h.01M736.6 83.9h.01M729.7 73.0h.01M724.4 78.2h.01M736.8 86.2h.01M717.5 72.4h.01M717.1 84.7h.01M737.2 90.6h.01M722.5 82.4h.01M721.7 83.1h.01M733.7 82.4h.01M723.8 79.0h.01M730.6 88.6h.01M737.2 83.7h.01M715.4 79.8h.01M713.3 101.5h.01M716.2 75.5h.01M735.3 93.4h.01M734.5 86.9h.01M722.6 86.7h.01M736.0 64.2h.01M719.4 77.1h.01M734.8 84.9h.01M733.1 68.0h.01M725.3 87.4h.01M727.3 83.5h.01M735.5 98.0h.01M735.5 85.3h.01M716.6 87.6h.01M721.5 84.3h.01M729.7 91.0h.01M724.3 83.4h.01M732.9 97.4h.01M730.5 71.6h.01M716.6 86.2h.01M723.2 85.6h.01M717.3 90.8h.01M717.9 66.6h.01M721.3 88.9h.01M717.7 84.5h.01M718.8 79.7h.01M722.9 78.4h.01M727.2 77.6h.01M730.4 92.0h.01M716.4 80.4h.01M716.0 71.5h.01M737.2 82.6h.01M728.6 91.0h.01M737.3 95.8h.01M718.6 83.3h.01M727.7 92.1h.01M717.0 93.1h.01M725.9 76.1h.01M711.9 84.5h.01M730.2 80.8h.01M730.6 83.2h.01M712.3 91.5h.01M715.7 63.7h.01M725.6 75.2h.01M718.6 75.7h.01M714.0 79.3h.01M730.2 74.2h.01M732.7 77.7h.01M716.8 90.1h.01M726.6 93.4h.01M722.0 76.7h.01M717.9 96.1h.01M727.3 85.4h.01M730.5 80.5h.01M714.3 85.8h.01M726.7 90.7h.01M714.6 80.1h.01M718.2 95.9h.01M730.9 74.9h.01M730.9 79.2h.01M730.0 81.0h.01M735.6 97.3h.01M718.7 79.4h.01M717.8 72.6h.01M737.1 91.1h.01M720.0 97.5h.01M727.9 83.5h.01M713.1 81.2h.01M735.0 96.9h.01M717.0 68.3h.01M721.4 73.9h.01M725.8 84.5h.01M722.0 86.9h.01M718.5 82.0h.01M724.4 85.5h.01M732.1 92.3h.01M736.5 65.9h.01M714.6 91.2h.01M712.8 79.6h.01M735.8 89.9h.01M719.7 72.7h.01M731.6 81.5h.01M722.2 87.8h.01M737.2 82.6h.01M715.4 80.6h.01M713.7 70.1h.01M716.3 68.5h.01M732.0 80.9h.01M718.2 81.7h.01M714.9 88.2h.01M735.7 83.0h.01M737.0 66.4h.01M730.7 86.6h.01M715.2 94.4h.01M733.3 80.2h.01M718.3 83.0h.01M715.7 59.0h.01M720.3 89.6h.01M716.8 83.7h.01M733.5 76.4h.01M732.0 85.2h.01M735.5 84.6h.01M733.4 92.7h.01M721.5 69.6h.01M714.7 79.1h.01M735.8 77.5h.01M731.7 72.5h.01M736.1 70.9h.01M731.7 99.5h.01M718.5 84.9h.01M715.3 97.4h.01M720.7 96.5h.01M734.2 94.4h.01M715.5 99.3h.01M729.0 84.5h.01M734.8 71.5h.01M732.5 92.4h.01M734.8 86.4h.01M714.5 80.6h.01M712.5 78.7h.01M713.6 84.5h.01M717.0 87.6h.01M737.0 71.7h.01M728.5 75.3h.01M731.2 104.2h.01M734.9 80.7h.01M733.7 94.0h.01M724.6 91.9h.01M717.3 75.0h.01M721.4 75.6h.01M735.9 85.7h.01M727.4 79.9h.01M714.2 82.2h.01M733.5 94.0h.01M731.5 88.2h.01M717.6 89.3h.01M721.8 94.2h.01M736.3 84.5h.01M731.1 81.6h.01M726.2 76.9h.01M737.1 86.6h.01M726.6 88.7h.01M726.4 92.6h.01M734.7 103.2h.01M712.4 78.9h.01M735.5 87.0h.01M736.4 95.0h.01M715.6 87.2h.01M727.7 87.3h.01M719.1 75.7h.01M714.2 74.6h.01M720.8 83.2h.01M718.5 84.1h.01M716.4 91.1h.01M727.3 89.3h.01M731.6 87.7h.01M733.9 85.9h.01M713.2 91.4h.01M713.6 87.8h.01M729.7 85.4h.01M738.1 72.5h.01M732.0 81.0h.01M722.6 82.4h.01M719.8 89.4h.01M716.9 83.3h.01M725.1 80.5h.01M737.5 75.1h.01M736.7 82.9h.01M715.6 80.4h.01M713.7 73.4h.01M721.1 93.5h.01M721.1 82.3h.01M734.6 88.3h.01M712.0 87.5h.01M728.4 85.2h.01M722.4 92.9h.01M729.3 80.8h.01M736.9 95.6h.01M732.7 73.1h.01M729.7 98.0h.01M722.4 74.1h.01M714.8 80.4h.01M720.3 84.7h.01M724.9 82.2h.01M725.8 77.9h.01M728.7 89.5h.01M727.9 79.9h.01M718.7 92.2h.01M735.9 78.0h.01M719.1 89.9h.01M730.0 81.9h.01M716.9 79.6h.01M717.8 82.4h.01M718.8 79.6h.01M736.8 87.9h.01M736.1 104.7h.01M716.9 76.1h.01M734.5 88.6h.01M731.7 69.9h.01M737.6 94.8h.01M712.4 80.0h.01M728.4 85.7h.01M727.9 81.2h.01M737.4 89.2h.01M722.1 75.2h.01M717.9 82.8h.01M716.4 99.0h.01M715.8 83.6h.01M725.8 83.8h.01M712.7 87.3h.01M723.7 81.2h.01M727.7 96.2h.01M734.5 68.1h.01M726.6 98.0h.01M730.0 80.3h.01M733.0 76.7h.01M732.9 85.0h.01M729.5 83.9h.01M737.1 85.3h.01M736.3 93.7h.01M718.9 87.8h.01M732.7 92.5h.01M730.0 96.7h.01M731.8 61.0h.01M734.4 80.2h.01M719.1 80.9h.01M731.8 103.2h.01M731.9 74.4h.01M723.1 94.6h.01M714.1 91.0h.01M714.8 90.2h.01M723.5 88.7h.01M728.9 84.6h.01M724.8 70.5h.01M719.1 87.1h.01M736.1 72.1h.01M726.9 94.1h.01M731.8 84.1h.01M736.9 78.5h.01M714.9 77.6h.01M713.2 92.9h.01M726.1 95.4h.01M721.7 93.3h.01M733.3 75.3h.01M734.3 80.5h.01M712.7 84.6h.01M731.0 71.0h.01M736.4 81.4h.01M715.0 74.0h.01M725.0 72.4h.01M724.3 74.1h.01M718.4 103.0h.01M728.0 87.8h.01M732.2 104.5h.01M723.5 102.5h.01M735.9 80.6h.01M717.9 90.6h.01M733.5 71.4h.01M729.9 89.0h.01M722.5 86.6h.01M724.8 77.9h.01M721.5 76.9h.01M716.1 85.0h.01M721.5 96.8h.01M727.2 89.2h.01M722.0 84.6h.01M717.2 84.9h.01M719.3 82.1h.01M729.9 105.5h.01M736.9 76.2h.01M729.5 102.4h.01M727.8 79.5h.01M737.5 77.9h.01M712.1 82.8h.01M714.9 87.1h.01M729.5 95.0h.01M729.7 97.3h.01M723.1 87.0h.01M720.1 84.0h.01M735.6 93.9h.01M733.6 84.6h.01M733.8 82.5h.01M736.4 79.0h.01M720.3 76.7h.01M722.5 91.9h.01M737.7 100.5h.01M731.5 77.5h.01M729.3 79.2h.01M738.0 91.3h.01M716.1 94.0h.01M726.4 93.8h.01M715.5 78.8h.01M715.7 80.2h.01M725.1 85.8h.01M726.6 89.4h.01M713.3 82.6h.01M718.1 83.6h.01M718.2 84.9h.01M724.4 68.5h.01M717.7 76.7h.01M733.8 98.0h.01M727.7 65.1h.01M713.6 83.6h.01M728.9 82.2h.01M719.9 80.9h.01M715.9 90.6h.01M720.4 81.6h.01M716.2 86.8h.01M715.0 75.5h.01M728.3 87.3h.01M725.2 80.1h.01M730.7 73.0h.01M716.2 93.5h.01M714.2 96.9h.01M711.9 89.7h.01M714.1 79.5h.01M738.0 87.8h.01M717.7 82.7h.01M730.0 71.6h.01M726.1 82.2h.01M736.1 87.0h.01M716.9 74.3h.01M724.9 84.2h.01M733.3 89.8h.01M715.5 65.2h.01M730.2 75.1h.01M737.6 94.5h.01M714.8 80.8h.01M713.2 69.4h.01M730.2 85.5h.01M730.6 76.4h.01M711.9 75.1h.01M731.0 82.8h.01M734.8 87.6h.01M714.8 88.2h.01M712.9 83.7h.01M734.9 83.4h.01M732.6 92.7h.01M727.3 103.1h.01M726.7 98.4h.01M725.5 68.0h.01M725.3 79.8h.01M717.7 91.9h.01M722.9 74.1h.01M716.7 84.2h.01M730.4 86.7h.01M725.5 100.2h.01M721.7 75.1h.01M722.4 79.5h.01M731.1 88.6h.01M723.7 75.3h.01M731.7 81.3h.01M717.3 92.5h.01M729.7 81.4h.01M730.1 97.7h.01M712.7 76.7h.01M725.7 87.4h.01M717.9 101.0h.01M714.7 80.9h.01M721.5 84.9h.01M724.7 74.4h.01M734.7 98.8h.01M722.9 74.1h.01M716.0 78.8h.01M736.1 83.1h.01M735.3 93.2h.01M716.9 69.8h.01M735.6 87.4h.01M722.3 81.0h.01M722.1 84.1h.01M712.1 82.3h.01M729.7 83.5h.01M716.8 92.6h.01M719.6 78.7h.01M734.4 73.8h.01M727.0 85.3h.01M712.8 73.0h.01M725.3 77.0h.01M717.4 75.1h.01M735.6 77.1h.01M737.8 80.0h.01M727.3 80.1h.01M712.8 79.1h.01M732.3 86.8h.01M737.9 77.9h.01M728.3 79.6h.01M734.0 88.7h.01M714.6 97.1h.01M731.7 74.3h.01M724.0 80.4h.01M711.9 83.8h.01M723.2 77.3h.01M719.4 89.0h.01M716.3 86.7h.01M734.5 93.2h.01M735.0 83.7h.01M726.7 78.1h.01M714.0 74.1h.01M729.1 87.2h.01M720.4 87.5h.01M722.8 79.7h.01M721.3 91.2h.01M729.4 77.5h.01M722.5 73.5h.01M733.8 81.7h.01M731.2 75.1h.01M729.8 80.0h.01M724.9 108.0h.01M728.8 82.3h.01M718.6 89.6h.01M716.3 92.7h.01M720.1 94.0h.01M728.1 91.3h.01M719.9 76.8h.01M732.4 96.7h.01M717.7 87.8h.01M731.7 78.8h.01M723.6 74.5h.01M714.6 90.1h.01M712.7 96.5h.01M718.9 99.2h.01M716.5 86.7h.01M735.3 85.7h.01M733.7 83.8h.01M717.2 102.7h.01M720.7 87.9h.01M713.7 82.4h.01M715.0 87.0h.01M736.1 82.2h.01M734.8 91.5h.01M719.2 99.9h.01M733.2 90.3h.01M736.2 84.6h.01M728.0 88.2h.01M724.0 93.2h.01M723.8 95.7h.01M731.5 77.5h.01M718.3 86.1h.01M717.5 89.4h.01M721.5 88.2h.01M731.7 86.2h.01M734.9 84.0h.01M731.1 82.1h.01M722.5 92.6h.01M724.3 96.2h.01M732.6 101.7h.01M733.2 82.7h.01M719.1 76.3h.01M727.1 93.3h.01M723.3 83.1h.01M733.7 82.1h.01M727.7 91.0h.01M719.5 95.7h.01M732.6 95.8h.01M729.6 88.1h.01M716.8 93.4h.01M715.7 75.5h.01M734.7 78.8h.01M727.0 80.9h.01M724.3 79.7h.01M733.9 94.6h.01M736.4 80.3h.01M726.8 70.1h.01M717.5 87.9h.01M717.8 89.4h.01M728.9 98.5h.01M728.8 81.0h.01M715.8 84.4h.01M733.9 84.5h.01M713.1 88.4h.01M714.1 78.5h.01M718.4 80.8h.01M732.6 76.2h.01M714.8 86.2h.01M714.7 76.5h.01M732.4 84.4h.01M731.8 84.7h.01M736.4 81.8h.01M736.8 82.8h.01M723.4 87.4h.01M724.4 82.2h.01M722.5 68.4h.01M726.6 95.8h.01M727.0 77.3h.01M713.9 68.4h.01M735.0 78.1h.01M728.5 97.4h.01M724.2 85.1h.01M731.0 79.9h.01M728.8 71.5h.01M723.5 85.1h.01M727.6 82.5h.01M719.4 75.4h.01M719.9 94.3h.01M731.1 85.7h.01M736.5 80.1h.01M716.5 82.7h.01M725.0 76.1h.01M719.7 76.7h.01M721.9 92.1h.01M720.3 81.0h.01M733.8 109.0h.01M714.7 83.8h.01M723.7 77.3h.01M731.9 87.0h.01M715.8 75.4h.01M735.5 104.2h.01M726.6 75.1h.01M736.0 75.2h.01M727.3 82.1h.01M714.7 104.1h.01M730.7 76.7h.01M724.3 80.9h.01M715.8 80.9h.01M716.9 80.8h.01M715.4 86.0h.01M718.2 90.3h.01M713.0 87.6h.01M722.6 102.9h.01M734.6 97.3h.01M727.3 72.2h.01M719.1 89.8h.01M719.2 80.5h.01M719.7 93.5h.01M733.0 81.8h.01M717.8 81.2h.01M730.8 74.1h.01M722.7 83.5h.01M735.4 88.0h.01M733.3 90.9h.01M717.2 86.6h.01M726.5 94.5h.01M734.6 71.8h.01M716.9 83.3h.01M730.6 72.5h.01M724.4 81.9h.01M729.9 87.8h.01M722.1 76.3h.01M721.7 64.2h.01M722.4 84.8h.01M725.4 97.9h.01M732.3 63.5h.01M724.1 91.8h.01M730.7 84.9h.01M733.8 99.8h.01M724.3 85.9h.01M721.5 69.4h.01M729.5 94.2h.01M715.9 70.5h.01M714.5 86.1h.01M730.7 76.7h.01M734.2 79.7h.01M718.9 77.9h.01M721.8 75.1h.01M734.5 83.3h.01M717.8 62.8h.01M712.4 83.9h.01M725.1 81.2h.01M719.4 73.3h.01M735.2 104.1h.01M734.2 65.9h.01M730.2 80.3h.01M733.3 101.0h.01M722.3 77.6h.01M730.5 82.4h.01M727.6 86.5h.01M733.2 97.3h.01M721.6 94.1h.01M720.6 67.0h.01M729.3 96.6h.01M732.3 89.8h.01M720.2 70.3h.01M728.2 80.6h.01M735.4 84.2h.01M715.4 71.3h.01M738.1 73.7h.01M732.7 66.4h.01M716.4 95.9h.01M723.7 64.2h.01M737.0 75.5h.01M734.2 83.0h.01M719.8 90.1h.01M722.2 80.8h.01M727.8 92.5h.01M717.1 84.3h.01M713.3 80.3h.01M733.9 83.7h.01M727.3 101.9h.01M712.1 87.9h.01M713.5 83.1h.01M714.5 45.5h.01M723.5 43.0h.01M732.3 43.5h.01M715.0 47.8h.01M718.0 50.0h.01M725.0 53.5h.01M729.0 55.0h.01M736.0 53.0h.01M720.0 129.3h.01M714.0 108.0h.01M717.0 110.0h.01M730.0 111.0h.01M735.0 107.0h.01"/>
<g stroke="#ecb655" stroke-width="1" fill="none">
<rect x="767.00" y="79.30" width="56.00" height="14.00"/>
<path d="M781.00 61.70H809.00M781.00 113.30H809.00"/>
<path d="M795.00 61.70V79.30M795.00 93.30V113.30" stroke-dasharray="3 1.2"/>
</g>
<path d="M767.00 86.70H823.00" stroke="#e6a023" stroke-width="1.8"/>
<path stroke="#e6a023" stroke-width="3.8" stroke-linecap="round" fill="none" d="M791.7 98.1h.01M801.1 83.2h.01M797.6 88.9h.01M807.8 71.5h.01M783.0 96.4h.01M806.1 90.1h.01M805.4 92.4h.01M789.6 78.7h.01M798.1 90.4h.01M796.8 66.3h.01M796.7 91.7h.01M796.4 95.7h.01M807.4 88.4h.01M795.9 98.3h.01M806.8 88.3h.01M783.4 78.6h.01M782.6 101.9h.01M791.9 88.6h.01M800.4 80.2h.01M797.3 92.5h.01M802.4 91.2h.01M792.0 86.9h.01M803.0 75.6h.01M806.5 71.9h.01M788.9 81.0h.01M804.0 81.6h.01M796.3 84.6h.01M785.9 93.5h.01M789.8 83.5h.01M803.0 90.4h.01M785.6 88.7h.01M806.6 89.2h.01M787.8 91.9h.01M784.4 75.1h.01M802.2 98.1h.01M790.5 98.5h.01M806.1 107.4h.01M804.2 81.0h.01M789.1 98.1h.01M804.5 81.9h.01M788.2 87.9h.01M802.3 88.6h.01M789.9 90.4h.01M794.1 83.6h.01M786.0 100.6h.01M786.1 75.6h.01M801.7 71.3h.01M788.3 84.8h.01M804.9 89.7h.01M790.8 84.5h.01M802.6 86.0h.01M800.3 88.9h.01M792.0 75.6h.01M787.5 83.7h.01M789.3 71.9h.01M791.8 92.8h.01M806.6 93.9h.01M788.6 69.9h.01M784.5 79.2h.01M793.2 87.3h.01M794.5 91.5h.01M791.7 76.3h.01M798.6 70.2h.01M789.9 97.4h.01M789.4 92.3h.01M805.7 66.8h.01M794.4 90.3h.01M798.7 98.6h.01M792.7 100.9h.01M803.4 102.5h.01M803.7 83.9h.01M792.7 86.5h.01M802.9 76.3h.01M787.6 106.0h.01M792.7 73.2h.01M798.5 102.0h.01M784.6 72.6h.01M793.6 74.6h.01M792.7 88.0h.01M806.6 81.8h.01M796.1 89.2h.01M794.8 86.7h.01M807.7 78.7h.01M786.0 87.4h.01M802.5 83.7h.01M793.5 87.9h.01M795.9 101.0h.01M800.0 74.2h.01M806.1 81.2h.01M796.4 87.7h.01M787.7 89.6h.01M801.2 84.3h.01M789.2 86.9h.01M786.6 86.1h.01M793.8 91.9h.01M797.5 95.3h.01M792.2 98.9h.01M799.5 94.8h.01M798.7 107.4h.01M804.1 83.3h.01M793.5 80.9h.01M789.8 89.4h.01M800.4 72.3h.01M801.9 85.3h.01M803.3 94.2h.01M782.1 104.2h.01M782.6 103.4h.01M790.1 97.5h.01M802.5 76.5h.01M782.8 87.0h.01M787.6 96.2h.01M799.4 79.6h.01M798.6 86.7h.01M787.2 85.2h.01M797.6 98.9h.01M790.9 89.0h.01M791.0 79.2h.01M801.1 91.2h.01M801.6 84.0h.01M795.4 80.9h.01M805.1 82.7h.01M800.2 89.6h.01M788.5 100.1h.01M790.5 88.0h.01M787.0 86.3h.01M803.9 85.1h.01M782.2 85.5h.01M784.9 87.5h.01M785.0 80.4h.01M793.6 86.7h.01M795.7 74.6h.01M806.0 87.9h.01M796.6 94.1h.01M805.2 84.3h.01M784.4 90.6h.01M800.3 88.3h.01M795.9 85.1h.01M799.4 92.4h.01M798.3 78.0h.01M800.6 80.8h.01M789.0 86.0h.01M786.4 80.0h.01M784.3 94.8h.01M787.5 89.4h.01M794.2 90.0h.01M807.1 91.0h.01M807.3 78.8h.01M806.6 89.9h.01M804.2 75.7h.01M784.4 86.7h.01M784.5 97.8h.01M799.9 87.9h.01M801.6 78.8h.01M803.0 78.4h.01M803.2 83.0h.01M794.7 84.7h.01M804.5 86.1h.01M806.8 106.5h.01M784.0 96.8h.01M782.2 88.3h.01M793.4 97.8h.01M782.6 89.3h.01M788.9 92.8h.01M801.3 67.2h.01M785.7 64.0h.01M785.3 92.2h.01M806.8 76.2h.01M808.1 83.9h.01M807.0 85.2h.01M800.2 87.0h.01M794.8 84.0h.01M785.3 70.2h.01M792.9 87.8h.01M798.9 86.0h.01M805.3 95.8h.01M787.5 111.3h.01M790.5 84.5h.01M782.7 79.9h.01M794.6 92.7h.01M801.8 91.0h.01M801.0 72.6h.01M802.3 75.0h.01M790.9 82.5h.01M784.9 94.3h.01M784.6 62.7h.01M802.4 87.0h.01M796.6 98.6h.01M797.3 93.9h.01M801.8 75.9h.01M792.9 92.7h.01M796.6 79.7h.01M791.6 79.2h.01M784.2 92.2h.01M793.7 85.1h.01M791.5 94.8h.01M806.6 68.0h.01M794.1 84.9h.01M803.9 68.5h.01M788.5 79.7h.01M792.0 89.4h.01M802.9 76.8h.01M797.5 89.2h.01M800.7 89.9h.01M801.1 84.7h.01M803.2 84.1h.01M806.4 103.8h.01M784.4 89.6h.01M806.3 92.2h.01M785.0 89.7h.01M790.4 80.1h.01M803.3 76.6h.01M806.7 85.2h.01M790.4 93.9h.01M798.3 93.2h.01M790.8 92.1h.01M786.3 78.3h.01M798.1 78.4h.01M797.3 93.0h.01M802.5 86.0h.01M805.8 86.0h.01M786.9 76.8h.01M792.2 84.8h.01M792.5 93.9h.01M805.6 74.0h.01M806.1 77.1h.01M799.8 75.6h.01M789.0 85.1h.01M800.2 80.2h.01M795.7 81.0h.01M799.8 83.0h.01M781.9 93.4h.01M788.7 89.5h.01M803.5 85.3h.01M789.5 89.6h.01M790.9 80.5h.01M805.2 89.8h.01M784.8 99.1h.01M795.7 83.0h.01M797.3 92.2h.01M801.7 85.4h.01M788.6 79.3h.01M791.2 95.6h.01M789.6 94.7h.01M807.6 81.4h.01M799.8 100.8h.01M807.8 86.1h.01M798.0 82.8h.01M806.4 82.9h.01M786.1 77.6h.01M786.5 92.1h.01M784.7 94.9h.01M794.4 86.1h.01M801.0 96.6h.01M803.7 89.1h.01M790.2 86.2h.01M785.2 73.8h.01M804.3 77.1h.01M802.8 96.4h.01M785.9 77.9h.01M786.1 88.6h.01M785.2 82.2h.01M792.5 75.6h.01M784.1 90.0h.01M806.1 69.9h.01M795.9 93.4h.01M788.5 90.4h.01M804.9 84.7h.01M784.5 77.1h.01M802.8 92.3h.01M785.6 92.0h.01M800.1 91.6h.01M803.8 83.8h.01M803.2 82.3h.01M801.5 81.9h.01M791.1 95.6h.01M801.9 100.2h.01M791.4 96.0h.01M789.9 74.3h.01M787.0 75.7h.01M795.8 101.2h.01M796.0 90.4h.01M806.1 83.0h.01M785.5 85.3h.01M800.1 96.1h.01M783.2 98.2h.01M785.8 85.4h.01M802.1 100.9h.01M801.5 67.2h.01M794.4 83.3h.01M799.8 71.1h.01M801.1 82.7h.01M805.1 84.1h.01M793.7 94.2h.01M807.2 90.1h.01M805.5 76.0h.01M785.7 102.7h.01M800.6 85.5h.01M798.9 105.1h.01M785.1 65.5h.01M788.7 79.3h.01M783.9 83.2h.01M793.5 92.2h.01M797.7 76.7h.01M801.0 63.9h.01M783.8 89.9h.01M793.0 84.0h.01M803.8 90.2h.01M782.4 87.7h.01M783.3 80.3h.01M796.6 90.5h.01M789.7 98.4h.01M794.2 91.6h.01M789.3 73.2h.01M786.7 74.2h.01M805.0 89.1h.01M786.4 90.5h.01M801.3 76.9h.01M791.1 87.4h.01M797.6 86.0h.01M805.8 82.0h.01M789.9 79.7h.01M803.6 74.7h.01M796.1 84.1h.01M784.5 105.9h.01M808.2 84.5h.01M782.5 92.8h.01M788.8 88.4h.01M806.5 93.6h.01M805.0 95.0h.01M792.8 85.9h.01M788.5 88.1h.01M800.5 80.8h.01M784.3 89.7h.01M791.0 98.1h.01M783.9 80.5h.01M802.8 89.5h.01M806.3 95.4h.01M807.7 88.3h.01M799.5 96.5h.01M804.2 95.5h.01M804.5 80.3h.01M785.7 75.0h.01M793.4 89.2h.01M793.1 76.2h.01M784.2 80.2h.01M803.1 91.0h.01M805.1 91.4h.01M797.6 71.3h.01M782.3 86.2h.01M807.7 85.7h.01M783.8 74.5h.01M793.4 91.3h.01M790.4 90.4h.01M792.4 81.3h.01M790.4 87.5h.01M798.4 88.2h.01M806.0 82.8h.01M791.6 86.4h.01M798.0 73.0h.01M799.9 95.9h.01M793.0 88.3h.01M805.5 75.4h.01M796.5 89.1h.01M801.3 84.5h.01M800.0 73.9h.01M793.3 101.8h.01M804.7 99.0h.01M783.5 71.7h.01M794.4 64.8h.01M799.5 99.6h.01M783.7 71.2h.01M795.7 84.7h.01M787.1 87.5h.01M791.2 104.6h.01M796.1 97.5h.01M788.4 86.5h.01M805.1 85.9h.01M797.9 93.5h.01M784.7 88.3h.01M792.9 94.4h.01M807.9 79.6h.01M800.3 98.4h.01M782.7 79.3h.01M790.1 92.1h.01M806.1 75.2h.01M791.0 94.1h.01M807.6 85.7h.01M792.8 87.0h.01M801.0 85.9h.01M785.0 90.3h.01M784.3 70.9h.01M788.0 91.4h.01M785.0 95.4h.01M792.8 86.4h.01M807.9 90.2h.01M806.3 97.0h.01M787.8 98.6h.01M790.8 79.1h.01M785.2 94.9h.01M794.9 90.0h.01M790.7 100.6h.01M801.5 84.7h.01M804.2 92.1h.01M796.9 91.3h.01M784.4 83.3h.01M785.1 85.2h.01M798.1 83.6h.01M800.9 72.1h.01M796.7 91.0h.01M788.9 82.2h.01M806.4 78.1h.01M788.8 76.9h.01M796.1 93.2h.01M805.8 83.9h.01M802.5 93.8h.01M781.8 77.4h.01M784.8 87.8h.01M799.2 82.1h.01M782.0 76.0h.01M791.9 85.4h.01M788.2 79.5h.01M792.7 86.6h.01M803.9 85.9h.01M794.8 88.1h.01M793.9 84.6h.01M803.4 67.0h.01M796.6 93.7h.01M790.2 79.1h.01M798.2 92.1h.01M783.6 75.2h.01M805.7 77.1h.01M802.1 71.0h.01M804.5 83.2h.01M803.8 91.2h.01M797.0 80.1h.01M788.0 89.2h.01M786.7 73.4h.01M789.1 77.0h.01M804.3 93.2h.01M787.3 94.3h.01M785.7 89.7h.01M791.0 80.7h.01M787.6 88.7h.01M795.8 89.6h.01M797.7 76.8h.01M802.2 80.1h.01M790.8 77.1h.01M792.2 92.1h.01M807.9 69.6h.01M796.0 90.6h.01M807.4 100.2h.01M787.5 102.6h.01M802.4 92.2h.01M800.5 84.2h.01M800.9 73.8h.01M808.2 92.4h.01M794.9 87.8h.01M793.6 98.9h.01M795.9 76.4h.01M784.6 85.0h.01M793.5 81.6h.01M795.0 84.3h.01M782.3 90.1h.01M807.4 89.5h.01M801.4 81.9h.01M802.8 80.2h.01M791.5 82.5h.01M792.0 82.1h.01M807.2 96.7h.01M797.5 90.7h.01M807.1 87.8h.01M797.2 88.6h.01M798.8 86.4h.01M806.0 77.8h.01M787.7 83.6h.01M794.7 67.4h.01M802.8 90.9h.01M792.7 82.5h.01M784.9 90.1h.01M791.2 100.9h.01M794.4 103.8h.01M785.8 83.3h.01M804.9 81.4h.01M804.6 88.2h.01M784.6 76.4h.01M806.1 85.4h.01M804.5 98.0h.01M797.5 87.3h.01M788.1 82.9h.01M795.3 82.7h.01M785.5 95.7h.01M796.0 89.0h.01M806.2 75.8h.01M783.6 103.5h.01M801.4 79.9h.01M785.5 88.7h.01M793.7 103.6h.01M793.8 82.8h.01M789.2 87.9h.01M782.1 91.8h.01M793.5 27.3h.01M784.0 43.8h.01M799.5 46.2h.01M786.0 52.5h.01M788.0 56.0h.01M797.0 57.0h.01M804.0 58.0h.01M783.0 116.5h.01M786.0 114.0h.01M791.0 113.5h.01M800.0 112.5h.01M807.0 115.0h.01M806.0 111.0h.01M803.0 109.0h.01"/>
<g stroke="#e748e7" stroke-width="1" fill="none">
<rect x="836.50" y="83.30" width="56.00" height="10.40"/>
<path d="M850.50 72.00H878.50M850.50 107.70H878.50"/>
<path d="M864.50 72.00V83.30M864.50 93.70V107.70" stroke-dasharray="3 1.2"/>
</g>
<path d="M836.50 88.70H892.50" stroke="#e012e0" stroke-width="1.8"/>
<path stroke="#e012e0" stroke-width="3.8" stroke-linecap="round" fill="none" d="M862.6 97.3h.01M857.6 94.5h.01M854.2 89.0h.01M861.7 86.6h.01M852.9 94.8h.01M865.5 96.5h.01M860.2 82.3h.01M869.3 92.0h.01M858.6 87.0h.01M876.2 90.0h.01M871.8 90.8h.01M863.8 91.1h.01M857.4 91.2h.01M867.3 86.7h.01M852.2 89.3h.01M858.6 89.4h.01M871.8 86.5h.01M866.1 90.9h.01M867.3 97.2h.01M864.9 89.0h.01M854.0 87.0h.01M858.3 79.1h.01M876.1 94.3h.01M858.0 90.4h.01M862.9 92.4h.01M876.7 93.4h.01M860.0 92.1h.01M869.8 80.6h.01M867.0 82.9h.01M863.7 89.0h.01M864.8 89.9h.01M857.6 93.4h.01M858.3 94.5h.01M874.6 88.7h.01M867.8 88.7h.01M873.4 86.1h.01M869.1 92.2h.01M861.1 82.5h.01M854.6 92.2h.01M858.4 80.6h.01M875.1 83.1h.01M875.0 95.0h.01M863.6 83.3h.01M864.2 89.3h.01M867.6 86.0h.01M863.9 92.0h.01M852.8 88.9h.01M866.9 91.4h.01M863.3 90.4h.01M867.0 88.7h.01M865.6 78.3h.01M869.7 78.4h.01M862.0 63.5h.01M863.5 72.3h.01M859.5 107.5h.01M868.0 107.0h.01M853.5 105.0h.01M871.5 78.0h.01M876.5 77.0h.01M855.5 80.0h.01"/>
<g stroke="#606060" stroke-width="1.25" fill="none">
<path d="M398.60 213.30V340.40"/>
<path d="M398.60 348.30H607.30"/>
<path d="M392.20 215.00H398.60"/>
<path d="M392.20 230.67H398.60"/>
<path d="M392.20 246.34H398.60"/>
<path d="M392.20 262.01H398.60"/>
<path d="M392.20 277.68H398.60"/>
<path d="M392.20 293.35H398.60"/>
<path d="M392.20 309.02H398.60"/>
<path d="M392.20 324.69H398.60"/>
<path d="M392.20 340.36H398.60"/>
<path d="M433.30 348.30V354.30"/>
<path d="M502.70 348.30V354.30"/>
<path d="M572.50 348.30V354.30"/>
</g>
<g font-size="10.8" fill="#1a1a1a" text-anchor="end">
<text transform="translate(385.70 218.85) scale(.905 1)">8</text>
<text transform="translate(385.70 234.52) scale(.905 1)">7</text>
<text transform="translate(385.70 250.19) scale(.905 1)">6</text>
<text transform="translate(385.70 265.86) scale(.905 1)">5</text>
<text transform="translate(385.70 281.53) scale(.905 1)">4</text>
<text transform="translate(385.70 297.20) scale(.905 1)">3</text>
<text transform="translate(385.70 312.87) scale(.905 1)">2</text>
<text transform="translate(385.70 328.54) scale(.905 1)">1</text>
<text transform="translate(385.70 344.21) scale(.905 1)">0</text>
</g>
<g font-size="12.5" fill="#1a1a1a" text-anchor="middle">
<text transform="translate(433.30 369.35) scale(.96 1)">GG</text>
<text transform="translate(502.70 369.35) scale(.96 1)">GA</text>
<text transform="translate(572.50 369.35) scale(.96 1)">AA</text>
</g>
<text transform="translate(350.90 282.30) rotate(-90) scale(.94 1)" font-size="15.4" fill="#1a1a1a" text-anchor="middle">IL10RA</text>
<text x="508.30" y="203.00" font-size="11.55" fill="#1a1a1a" text-anchor="middle"><tspan font-style="italic">P</tspan> = 3 × 10<tspan dy="-3.8" font-size="6.8">−4</tspan></text>
<g stroke="#8fa9ee" stroke-width="1" fill="none">
<rect x="405.30" y="321.70" width="56.00" height="11.00"/>
<path d="M419.30 303.50H447.30M419.30 342.70H447.30"/>
<path d="M433.30 303.50V321.70M433.30 332.70V342.70" stroke-dasharray="3 1.2"/>
</g>
<path d="M405.30 327.70H461.30" stroke="#6b8fe8" stroke-width="1.8"/>
<path stroke="#6b8fe8" stroke-width="3.8" stroke-linecap="round" fill="none" d="M437.2 299.2h.01M432.3 327.2h.01M423.8 326.2h.01M420.1 316.9h.01M445.5 311.2h.01M422.7 338.6h.01M428.8 332.4h.01M421.1 318.9h.01M444.1 335.4h.01M443.2 328.2h.01M433.1 338.9h.01M424.5 306.9h.01M444.1 311.2h.01M437.6 333.5h.01M427.3 332.1h.01M426.0 334.2h.01M437.5 319.2h.01M445.9 319.1h.01M428.1 326.1h.01M443.2 314.5h.01M438.8 328.0h.01M437.7 334.8h.01M438.5 332.4h.01M442.7 320.3h.01M438.9 335.4h.01M434.7 334.0h.01M421.0 316.5h.01M442.8 331.3h.01M437.3 327.4h.01M427.1 337.2h.01M440.2 323.0h.01M430.9 325.0h.01M443.4 329.3h.01M434.5 333.3h.01M429.5 325.7h.01M433.2 333.6h.01M437.9 326.9h.01M444.1 331.5h.01M433.7 319.0h.01M421.9 318.3h.01M440.3 338.2h.01M444.9 330.5h.01M442.8 295.0h.01M431.3 333.6h.01M443.2 335.3h.01M420.1 321.1h.01M437.5 328.1h.01M444.0 324.1h.01M446.0 331.3h.01M421.5 320.4h.01M424.1 337.2h.01M442.0 331.3h.01M439.1 325.7h.01M441.5 337.8h.01M424.7 336.2h.01M442.9 329.9h.01M446.5 327.9h.01M428.7 324.4h.01M442.8 330.8h.01M431.7 336.1h.01M427.3 336.9h.01M423.7 335.0h.01M441.3 318.0h.01M445.0 330.1h.01M421.1 305.6h.01M426.9 331.3h.01M431.6 334.4h.01M433.9 332.7h.01M425.0 326.8h.01M429.3 316.1h.01M438.0 328.8h.01M427.9 332.7h.01M434.2 332.5h.01M430.9 327.4h.01M432.1 331.1h.01M437.4 337.0h.01M422.9 330.4h.01M424.8 323.1h.01M444.2 332.9h.01M424.8 325.8h.01M435.4 314.3h.01M438.0 324.6h.01M437.5 333.9h.01M429.7 330.6h.01M437.0 317.5h.01M443.1 304.2h.01M433.6 331.2h.01M423.3 326.7h.01M445.5 333.3h.01M445.2 292.2h.01M423.4 327.2h.01M436.4 290.8h.01M431.3 334.5h.01M427.3 317.2h.01M435.3 303.5h.01M435.4 322.6h.01M425.5 326.8h.01M428.6 334.9h.01M433.9 314.2h.01M424.9 326.3h.01M426.1 329.0h.01M422.1 329.6h.01M422.9 332.4h.01M430.4 337.2h.01M433.4 334.7h.01M435.4 289.7h.01M424.9 330.1h.01M430.0 299.8h.01M425.3 335.6h.01M424.3 302.1h.01M420.5 329.4h.01M436.3 317.0h.01M433.9 306.1h.01M421.0 336.9h.01M425.7 323.5h.01M435.5 330.0h.01M424.6 322.1h.01M439.0 334.0h.01M438.2 319.2h.01M442.0 334.1h.01M426.9 329.4h.01M441.9 318.2h.01M441.4 336.6h.01M441.2 333.4h.01M443.3 334.6h.01M432.4 326.3h.01M422.3 301.2h.01M423.5 323.3h.01M430.9 330.4h.01M445.3 335.7h.01M432.3 335.2h.01M422.9 333.8h.01M440.3 337.3h.01M422.5 334.1h.01M443.5 313.4h.01M440.0 324.5h.01M442.9 325.9h.01M433.7 322.9h.01M428.0 331.2h.01M431.1 321.9h.01M438.8 324.0h.01M433.1 331.8h.01M445.6 327.9h.01M425.4 326.3h.01M433.8 310.3h.01M433.6 318.7h.01M444.1 322.5h.01M435.9 332.1h.01M437.3 315.3h.01M428.2 312.9h.01M444.3 330.9h.01M424.9 332.2h.01M421.6 334.9h.01M432.4 331.9h.01M439.8 318.9h.01M436.5 328.7h.01M434.1 331.7h.01M442.4 331.2h.01M442.7 321.8h.01M445.4 316.4h.01M440.3 326.7h.01M420.1 314.7h.01M422.2 319.3h.01M439.7 333.4h.01M442.5 338.1h.01M443.9 310.6h.01M424.5 335.5h.01M425.2 329.0h.01M440.5 333.6h.01M422.2 338.0h.01M436.8 322.2h.01M430.8 324.0h.01M423.7 332.2h.01M420.3 328.7h.01M439.1 335.2h.01M432.7 329.9h.01M433.6 328.6h.01M426.9 326.0h.01M443.9 324.7h.01M439.6 332.5h.01M420.1 326.7h.01M422.9 311.0h.01M437.9 335.0h.01M436.6 327.7h.01M443.6 299.5h.01M443.0 328.9h.01M442.3 325.7h.01M438.3 324.3h.01M441.4 336.6h.01M437.9 337.2h.01M433.5 332.6h.01M442.5 324.9h.01M438.4 319.8h.01M437.8 335.5h.01M445.9 313.9h.01M422.0 322.9h.01M420.8 324.9h.01M443.2 325.4h.01M429.9 324.4h.01M434.5 336.5h.01M420.0 330.3h.01M442.0 327.3h.01M438.1 323.1h.01M428.4 319.1h.01M442.2 331.0h.01M438.4 327.3h.01M428.6 329.2h.01M423.5 331.0h.01M420.3 325.1h.01M423.5 314.0h.01M440.0 324.5h.01M434.4 327.2h.01M430.3 308.0h.01M445.5 319.3h.01M428.4 329.0h.01M438.4 338.1h.01M439.3 305.2h.01M422.8 337.3h.01M440.7 337.6h.01M432.7 329.8h.01M430.5 326.6h.01M435.7 334.3h.01M427.3 322.0h.01M442.7 325.2h.01M429.6 323.7h.01M446.1 303.5h.01M421.7 317.9h.01M420.3 325.6h.01M438.2 326.0h.01M428.8 324.3h.01M422.7 323.0h.01M421.0 324.7h.01M437.3 324.2h.01M422.1 328.6h.01M440.1 319.8h.01M437.2 323.3h.01M437.9 314.9h.01M425.6 324.5h.01M438.4 317.8h.01M443.6 330.4h.01M435.7 328.0h.01M434.2 336.3h.01M425.6 327.3h.01M443.2 311.4h.01M433.5 330.2h.01M432.2 335.9h.01M443.5 336.2h.01M438.1 337.0h.01M428.3 320.9h.01M427.8 331.0h.01M429.8 301.9h.01M424.2 336.7h.01M430.0 340.1h.01M428.5 312.1h.01M431.0 310.6h.01M439.4 330.7h.01M440.4 300.9h.01M420.1 321.9h.01M424.7 323.6h.01M437.4 331.5h.01M438.3 331.6h.01M442.4 328.4h.01M427.8 331.3h.01M423.8 326.1h.01M434.6 307.5h.01M431.2 318.5h.01M435.8 322.1h.01M440.0 331.6h.01M421.0 323.5h.01M424.9 331.1h.01M441.1 311.1h.01M424.2 327.2h.01M441.5 319.7h.01M434.5 304.7h.01M421.0 326.9h.01M433.5 307.8h.01M427.4 328.6h.01M438.7 319.5h.01M420.9 314.5h.01M440.4 332.6h.01M425.2 333.0h.01M438.5 307.2h.01M443.9 293.5h.01M437.3 331.3h.01M433.7 311.0h.01M420.8 328.8h.01M428.9 334.6h.01M428.3 331.0h.01M432.1 332.1h.01M433.7 325.9h.01M430.3 331.7h.01M436.2 306.4h.01M422.9 333.1h.01M443.8 334.6h.01M435.2 336.2h.01M446.6 328.8h.01M425.0 336.1h.01M439.4 307.8h.01M432.9 332.0h.01M444.3 329.1h.01M420.3 304.3h.01M421.9 335.2h.01M443.1 333.9h.01M441.2 313.4h.01M445.1 300.7h.01M423.8 329.7h.01M438.9 324.1h.01M445.4 313.0h.01M419.9 334.1h.01M423.4 329.2h.01M427.9 327.1h.01M420.7 335.3h.01M430.7 310.8h.01M429.9 315.0h.01M424.7 324.8h.01M445.6 312.0h.01M434.4 328.0h.01M438.8 332.6h.01M431.6 333.1h.01M435.0 334.3h.01M446.3 316.3h.01M440.1 332.6h.01M430.1 324.0h.01M436.4 330.4h.01M424.6 320.6h.01M420.5 331.6h.01M445.4 325.4h.01M442.4 310.3h.01M442.8 315.9h.01M437.3 299.2h.01M422.1 328.1h.01M438.3 335.8h.01M445.9 319.8h.01M445.6 324.7h.01M431.1 333.3h.01M421.9 331.4h.01M444.0 327.7h.01M435.0 332.4h.01M439.0 302.1h.01M435.0 332.3h.01M421.0 329.5h.01M431.2 333.4h.01M446.5 339.9h.01M445.5 332.5h.01M425.2 335.6h.01M440.3 327.3h.01M438.5 312.3h.01M432.2 331.9h.01M446.2 321.2h.01M431.6 330.2h.01M426.0 309.3h.01M444.7 322.5h.01M435.5 302.9h.01M420.2 334.1h.01M428.9 331.0h.01M442.6 317.0h.01M433.1 323.7h.01M423.1 337.1h.01M433.1 327.3h.01M444.8 336.6h.01M422.7 332.8h.01M424.4 329.9h.01M425.1 326.3h.01M423.6 338.3h.01M428.9 326.0h.01M426.3 326.4h.01M422.6 329.3h.01M446.0 337.4h.01M432.8 327.4h.01M426.4 326.0h.01M423.4 331.3h.01M444.7 327.9h.01M445.7 329.7h.01M426.7 320.6h.01M435.8 320.1h.01M434.1 336.9h.01M445.3 329.5h.01M423.6 313.0h.01M442.4 330.0h.01M435.4 339.2h.01M441.4 340.6h.01M444.6 329.1h.01M445.3 309.8h.01M435.9 337.2h.01M439.8 326.5h.01M434.9 331.2h.01M443.4 327.0h.01M441.8 337.1h.01M431.5 333.4h.01M443.6 331.9h.01M425.7 328.5h.01M440.7 304.5h.01M439.2 330.8h.01M442.5 330.0h.01M431.5 304.2h.01M434.1 327.3h.01M421.5 333.6h.01M438.5 336.6h.01M420.4 333.9h.01M434.8 326.4h.01M434.0 332.9h.01M445.7 325.3h.01M437.5 325.6h.01M442.4 335.2h.01M438.2 339.4h.01M441.9 324.0h.01M441.1 330.1h.01M430.4 302.2h.01M421.5 337.1h.01M439.1 335.7h.01M439.6 330.8h.01M444.1 332.7h.01M432.9 331.7h.01M427.6 324.9h.01M424.0 333.0h.01M439.5 312.6h.01M430.2 329.3h.01M446.2 331.2h.01M420.7 335.0h.01M437.3 326.0h.01M427.2 320.4h.01M433.8 336.8h.01M422.1 330.5h.01M440.2 334.1h.01M442.7 318.4h.01M420.0 323.5h.01M432.1 324.6h.01M426.1 333.9h.01M421.4 334.0h.01M427.5 325.9h.01M429.9 328.2h.01M424.5 321.8h.01M438.0 332.5h.01M420.6 325.6h.01M423.5 319.6h.01M439.4 332.8h.01M423.4 333.9h.01M443.6 338.7h.01M444.1 323.2h.01M421.7 334.8h.01M439.6 329.4h.01M420.0 327.2h.01M436.5 337.5h.01M441.7 330.8h.01M425.8 316.9h.01M431.8 314.5h.01M446.2 329.3h.01M430.6 336.4h.01M445.9 334.6h.01M442.1 330.4h.01M420.1 334.4h.01M419.9 334.1h.01M444.9 317.8h.01M440.9 316.2h.01M433.0 335.1h.01M440.3 301.1h.01M441.4 334.9h.01M432.9 334.6h.01M428.9 332.1h.01M438.0 328.2h.01M445.1 333.3h.01M429.3 328.1h.01M420.8 334.0h.01M421.6 338.9h.01M446.6 316.8h.01M440.1 332.9h.01M442.8 330.7h.01M425.7 314.9h.01M429.7 334.9h.01M446.2 334.4h.01M444.2 340.7h.01M430.1 316.4h.01M439.7 335.7h.01M429.8 328.7h.01M437.1 327.8h.01M420.0 318.5h.01M437.2 317.4h.01M430.2 318.5h.01M439.4 315.7h.01M431.2 324.7h.01M430.9 330.9h.01M446.4 326.5h.01M437.1 327.1h.01M443.3 328.6h.01M425.8 332.0h.01M437.1 324.3h.01M424.9 334.6h.01M435.3 316.4h.01M428.6 320.6h.01M429.6 325.9h.01M430.0 331.7h.01M434.7 293.6h.01M434.6 336.8h.01M445.9 327.0h.01M444.2 334.3h.01M420.2 315.8h.01M435.3 334.2h.01M442.5 326.3h.01M420.9 328.8h.01M434.1 320.3h.01M427.6 322.2h.01M429.4 332.2h.01M421.1 331.0h.01M423.5 337.1h.01M421.7 306.2h.01M424.2 309.5h.01M422.3 329.8h.01M444.3 331.9h.01M435.6 330.3h.01M433.2 336.0h.01M428.0 333.9h.01M445.7 333.5h.01M430.7 330.4h.01M441.1 324.0h.01M427.5 321.5h.01M423.0 337.5h.01M437.2 332.2h.01M426.1 331.5h.01M443.8 328.6h.01M430.5 313.2h.01M432.2 332.0h.01M430.5 323.9h.01M428.0 317.4h.01M438.4 330.3h.01M439.2 337.1h.01M426.6 329.6h.01M445.0 330.3h.01M429.6 331.7h.01M440.6 312.1h.01M438.3 324.0h.01M430.9 336.0h.01M428.5 290.4h.01M432.0 335.8h.01M441.8 323.5h.01M434.5 325.8h.01M441.7 329.3h.01M442.8 331.5h.01M439.7 337.1h.01M421.4 339.1h.01M436.9 329.2h.01M423.6 327.0h.01M432.1 319.7h.01M434.1 329.1h.01M421.4 327.1h.01M424.4 320.0h.01M439.6 331.8h.01M421.8 322.2h.01M437.3 323.9h.01M443.8 329.6h.01M444.2 313.7h.01M431.6 306.0h.01M430.1 337.4h.01M425.4 327.5h.01M428.2 302.7h.01M438.4 332.2h.01M429.7 330.7h.01M431.2 327.8h.01M421.2 319.2h.01M441.0 325.2h.01M442.3 333.4h.01M434.9 336.0h.01M439.4 332.5h.01M438.3 329.2h.01M422.5 328.7h.01M422.7 311.9h.01M446.6 323.1h.01M424.8 330.7h.01M443.0 333.9h.01M420.5 321.3h.01M437.2 335.5h.01M436.7 324.7h.01M445.3 326.6h.01M424.4 330.4h.01M445.0 333.0h.01M433.4 327.4h.01M443.8 319.3h.01M445.3 332.0h.01M434.5 313.0h.01M437.3 320.0h.01M429.2 312.4h.01M442.4 333.4h.01M434.3 330.1h.01M444.1 330.8h.01M437.6 322.7h.01M438.3 319.1h.01M446.7 309.9h.01M441.4 340.6h.01M445.0 336.3h.01M429.9 329.8h.01M424.4 331.7h.01M432.6 331.4h.01M425.6 307.7h.01M436.8 323.8h.01M436.7 332.0h.01M424.9 336.1h.01M436.5 336.5h.01M443.5 325.9h.01M433.7 313.3h.01M422.8 328.4h.01M427.7 323.1h.01M422.1 330.1h.01M425.2 321.4h.01M428.4 328.5h.01M433.5 336.8h.01M435.1 294.2h.01M437.9 322.2h.01M421.4 303.0h.01M435.9 333.0h.01M429.8 319.4h.01M438.5 332.2h.01M444.4 321.2h.01M436.4 322.1h.01M438.4 325.8h.01M442.4 334.3h.01M428.4 311.9h.01M431.0 330.4h.01M438.7 313.1h.01M445.3 337.2h.01M441.5 324.5h.01M428.3 325.6h.01M446.0 310.9h.01M429.8 311.7h.01M441.5 334.6h.01M425.7 334.9h.01M424.5 332.0h.01M435.2 328.0h.01M441.3 334.1h.01M422.2 336.6h.01M424.2 328.4h.01M435.9 325.6h.01M443.3 332.5h.01M445.8 315.2h.01M440.3 334.7h.01M433.9 327.5h.01M443.8 326.1h.01M430.8 334.6h.01M439.1 331.6h.01M443.4 334.8h.01M445.1 326.1h.01M430.7 317.7h.01M431.4 327.4h.01M420.2 330.4h.01M440.0 327.6h.01M431.1 326.3h.01M429.4 331.0h.01M431.4 332.9h.01M421.4 330.2h.01M426.1 331.0h.01M429.7 332.4h.01M421.7 314.6h.01M434.7 324.7h.01M436.7 334.6h.01M421.5 321.8h.01M435.9 317.3h.01M428.6 329.5h.01M444.4 333.6h.01M438.4 321.4h.01M441.0 317.7h.01M428.7 311.8h.01M424.9 331.6h.01M439.0 326.4h.01M421.7 318.4h.01M439.1 326.6h.01M420.7 334.3h.01M432.2 322.5h.01M434.2 311.2h.01M430.6 327.3h.01M443.2 330.5h.01M427.2 317.0h.01M427.7 331.9h.01M436.7 317.6h.01M427.4 321.2h.01M444.1 331.4h.01M436.6 313.0h.01M431.8 326.5h.01M432.8 311.5h.01M441.8 317.1h.01M437.0 333.0h.01M438.3 306.8h.01M442.8 317.5h.01M429.2 326.4h.01M429.1 334.5h.01M446.7 309.5h.01M429.7 330.1h.01M438.1 322.2h.01M427.1 319.9h.01M445.4 319.3h.01M434.7 334.1h.01M442.0 308.8h.01M423.7 336.2h.01M437.3 322.4h.01M434.0 328.9h.01M440.6 330.1h.01M438.6 336.6h.01M444.2 333.8h.01M433.3 333.3h.01M442.2 289.1h.01M441.4 335.0h.01M426.6 315.1h.01M436.2 333.9h.01M423.0 319.5h.01M432.5 293.8h.01M422.7 329.5h.01M432.6 317.5h.01M437.2 332.9h.01M422.4 341.1h.01M427.7 328.1h.01M441.5 326.9h.01M441.7 326.9h.01M435.6 327.7h.01M436.1 320.2h.01M434.2 334.8h.01M432.5 330.9h.01M442.3 319.2h.01M430.8 328.8h.01M433.4 328.4h.01M428.8 333.7h.01M424.4 303.5h.01M439.3 335.4h.01M424.8 331.9h.01M426.3 223.7h.01M430.3 234.3h.01M422.3 246.5h.01M421.3 250.3h.01M437.3 254.2h.01M423.8 260.3h.01M432.3 272.5h.01M434.3 274.5h.01M436.3 276.5h.01M439.8 275.8h.01M421.3 281.7h.01M432.3 283.0h.01M435.3 284.5h.01M420.3 288.5h.01M424.3 289.5h.01M438.3 290.0h.01M445.3 290.5h.01M441.3 293.0h.01M428.3 291.0h.01M437.3 296.0h.01M443.3 297.0h.01M430.3 343.5h.01M431.8 341.8h.01"/>
<g stroke="#ecb655" stroke-width="1" fill="none">
<rect x="474.70" y="323.30" width="56.00" height="9.40"/>
<path d="M488.70 309.00H516.70M488.70 342.30H516.70"/>
<path d="M502.70 309.00V323.30M502.70 332.70V342.30" stroke-dasharray="3 1.2"/>
</g>
<path d="M474.70 328.30H530.70" stroke="#e6a023" stroke-width="1.8"/>
<path stroke="#e6a023" stroke-width="3.8" stroke-linecap="round" fill="none" d="M508.1 331.7h.01M514.7 332.6h.01M508.5 333.3h.01M498.2 312.5h.01M492.6 325.9h.01M501.1 333.1h.01M509.1 321.7h.01M490.6 331.0h.01M508.5 331.3h.01M511.2 338.6h.01M502.9 337.1h.01M508.2 328.6h.01M503.0 335.0h.01M499.4 336.0h.01M509.7 306.7h.01M501.0 296.6h.01M502.4 321.2h.01M496.0 333.0h.01M496.9 323.0h.01M508.7 327.1h.01M501.9 327.8h.01M514.5 324.9h.01M490.0 324.8h.01M504.0 334.6h.01M500.1 332.0h.01M509.4 319.3h.01M503.7 329.2h.01M492.2 318.7h.01M511.1 331.9h.01M512.8 332.7h.01M515.6 328.7h.01M506.7 329.1h.01M500.6 330.5h.01M508.8 325.4h.01M499.8 336.6h.01M498.0 322.4h.01M503.4 307.4h.01M491.1 335.4h.01M490.4 315.3h.01M515.2 322.9h.01M498.5 324.5h.01M501.7 334.5h.01M509.4 337.8h.01M502.5 336.3h.01M514.4 334.6h.01M504.3 315.1h.01M514.2 317.1h.01M496.1 324.8h.01M505.3 331.4h.01M511.8 328.8h.01M497.5 333.1h.01M494.1 336.8h.01M506.3 322.4h.01M508.8 333.5h.01M493.2 331.7h.01M495.6 336.1h.01M515.3 331.3h.01M507.2 338.4h.01M505.8 322.9h.01M509.7 332.4h.01M515.2 331.8h.01M514.1 321.3h.01M494.4 320.1h.01M493.2 326.2h.01M489.8 324.7h.01M508.3 334.3h.01M495.0 326.9h.01M499.1 301.3h.01M499.2 328.2h.01M500.3 332.1h.01M511.2 316.9h.01M490.7 324.0h.01M503.9 317.1h.01M495.2 332.1h.01M493.0 334.4h.01M510.7 329.1h.01M501.5 330.1h.01M508.0 326.5h.01M499.2 331.7h.01M509.7 328.0h.01M512.7 331.4h.01M493.5 324.3h.01M490.1 337.1h.01M511.6 314.7h.01M491.8 332.8h.01M496.9 325.9h.01M514.0 312.9h.01M511.6 321.4h.01M489.9 329.2h.01M495.0 335.3h.01M493.9 326.5h.01M500.6 328.7h.01M497.2 318.6h.01M504.3 313.8h.01M508.7 327.9h.01M505.0 322.2h.01M504.9 325.0h.01M503.8 329.1h.01M500.4 324.4h.01M505.2 320.0h.01M505.6 338.3h.01M512.7 329.1h.01M511.5 317.2h.01M493.6 334.6h.01M510.6 335.5h.01M514.6 321.0h.01M500.7 329.3h.01M495.6 336.9h.01M494.4 309.6h.01M492.9 323.7h.01M495.3 336.6h.01M493.3 326.3h.01M505.4 336.4h.01M490.5 324.2h.01M499.9 334.0h.01M496.9 333.6h.01M496.9 333.8h.01M497.4 323.8h.01M507.9 321.3h.01M505.3 330.1h.01M506.9 330.5h.01M511.2 326.3h.01M495.3 327.0h.01M497.6 334.6h.01M513.6 325.5h.01M515.3 314.3h.01M498.7 335.2h.01M496.7 300.6h.01M495.0 330.5h.01M504.7 333.1h.01M501.3 320.9h.01M512.7 324.2h.01M510.8 325.7h.01M489.3 333.7h.01M515.0 311.0h.01M514.4 321.9h.01M513.7 332.9h.01M497.0 325.7h.01M496.4 323.8h.01M497.7 322.6h.01M499.2 321.3h.01M504.1 327.6h.01M490.0 315.0h.01M503.8 334.7h.01M515.4 321.9h.01M515.3 324.2h.01M500.4 331.6h.01M495.4 328.7h.01M515.9 333.9h.01M499.7 328.8h.01M503.2 326.7h.01M498.1 337.9h.01M515.4 339.6h.01M506.7 334.0h.01M507.4 332.7h.01M498.7 332.7h.01M504.1 327.4h.01M497.3 324.2h.01M515.4 331.4h.01M500.0 335.2h.01M503.3 337.3h.01M494.3 333.8h.01M496.9 327.1h.01M504.7 318.5h.01M501.4 313.3h.01M510.6 334.3h.01M504.0 330.9h.01M499.2 326.6h.01M515.7 327.9h.01M514.2 323.0h.01M500.9 318.7h.01M515.4 335.8h.01M495.1 329.1h.01M505.9 321.5h.01M496.5 326.3h.01M500.0 320.3h.01M495.1 326.0h.01M502.8 330.8h.01M497.0 328.6h.01M509.0 333.3h.01M498.4 333.3h.01M514.2 334.5h.01M507.1 335.5h.01M507.1 334.3h.01M497.5 342.4h.01M511.1 337.9h.01M494.1 333.7h.01M500.9 332.6h.01M504.7 326.8h.01M508.3 315.0h.01M490.3 325.4h.01M500.3 335.1h.01M490.5 335.9h.01M514.1 316.6h.01M496.3 332.5h.01M509.8 317.3h.01M496.7 330.3h.01M500.0 334.6h.01M489.9 323.1h.01M508.2 319.9h.01M499.9 321.7h.01M514.0 330.1h.01M490.1 333.3h.01M508.6 338.9h.01M507.1 318.0h.01M504.9 320.7h.01M491.1 331.6h.01M497.3 321.3h.01M493.2 336.1h.01M513.5 332.7h.01M499.6 326.2h.01M498.7 333.5h.01M502.4 297.0h.01M500.8 338.0h.01M496.9 312.1h.01M493.7 331.6h.01M492.2 327.6h.01M509.3 326.5h.01M503.2 333.1h.01M498.5 323.4h.01M495.8 331.5h.01M510.3 323.7h.01M494.5 311.4h.01M510.9 336.3h.01M505.1 325.4h.01M509.2 321.9h.01M504.6 333.7h.01M491.6 333.9h.01M501.0 332.5h.01M507.8 330.4h.01M490.4 324.4h.01M510.1 319.4h.01M505.0 329.8h.01M498.4 312.0h.01M511.0 331.0h.01M509.2 333.1h.01M505.5 319.3h.01M515.7 330.2h.01M505.1 333.0h.01M497.5 333.5h.01M515.2 327.3h.01M499.9 333.5h.01M514.6 333.8h.01M496.8 330.6h.01M500.8 307.4h.01M502.6 330.0h.01M509.2 324.0h.01M505.3 330.8h.01M505.0 325.8h.01M498.8 317.0h.01M498.4 318.2h.01M494.4 331.7h.01M510.8 322.4h.01M495.7 324.7h.01M499.8 327.5h.01M494.9 330.9h.01M492.1 332.2h.01M515.8 331.9h.01M515.3 331.7h.01M500.0 332.0h.01M502.0 326.9h.01M502.1 331.3h.01M498.5 321.0h.01M500.1 336.3h.01M495.0 330.1h.01M493.0 337.4h.01M499.1 297.3h.01M498.1 336.2h.01M502.3 332.0h.01M492.4 333.7h.01M493.8 332.9h.01M503.4 336.2h.01M500.6 335.6h.01M489.5 322.8h.01M499.6 336.5h.01M495.8 331.8h.01M496.8 328.0h.01M492.8 334.8h.01M515.8 331.8h.01M496.3 307.5h.01M492.2 310.9h.01M508.2 331.3h.01M512.6 325.2h.01M515.4 334.5h.01M508.2 328.8h.01M497.7 331.9h.01M496.6 326.2h.01M499.5 318.3h.01M507.5 337.4h.01M514.3 309.8h.01M511.6 326.2h.01M499.4 330.1h.01M514.7 333.4h.01M515.6 328.2h.01M489.4 331.3h.01M502.7 328.5h.01M506.4 330.7h.01M495.9 328.7h.01M489.8 329.8h.01M496.7 329.1h.01M513.1 328.4h.01M507.2 327.5h.01M499.3 325.7h.01M490.4 331.7h.01M490.8 326.5h.01M497.0 325.5h.01M497.0 336.3h.01M504.8 333.7h.01M489.3 316.2h.01M504.2 324.1h.01M496.4 323.5h.01M511.9 336.9h.01M504.0 318.2h.01M502.9 330.4h.01M509.3 326.2h.01M496.4 329.9h.01M497.6 332.3h.01M491.9 329.2h.01M500.0 326.4h.01M514.3 330.0h.01M500.9 318.0h.01M491.7 335.9h.01M510.5 336.2h.01M492.7 332.5h.01M490.4 332.8h.01M504.4 329.2h.01M514.8 328.0h.01M505.6 336.7h.01M491.0 338.1h.01M505.3 330.8h.01M495.5 333.7h.01M508.6 326.2h.01M509.0 332.7h.01M495.4 317.2h.01M513.8 328.3h.01M493.6 327.9h.01M497.1 311.7h.01M495.9 327.7h.01M493.1 332.9h.01M495.8 322.1h.01M499.2 333.9h.01M514.8 326.8h.01M502.2 322.4h.01M493.0 312.5h.01M502.7 326.6h.01M507.8 332.5h.01M496.6 301.4h.01M513.4 324.4h.01M494.2 334.9h.01M504.2 335.9h.01M513.5 316.1h.01M505.4 315.5h.01M501.7 324.0h.01M499.3 327.7h.01M502.4 323.4h.01M500.4 307.7h.01M493.0 326.2h.01M515.2 322.3h.01M500.6 331.4h.01M498.5 328.3h.01M496.7 324.9h.01M512.5 330.9h.01M492.0 331.5h.01M502.7 333.9h.01M502.8 321.1h.01M511.8 317.6h.01M506.2 331.9h.01M489.6 324.2h.01M496.8 332.5h.01M493.2 308.0h.01M501.3 336.3h.01M511.2 333.9h.01M508.2 330.4h.01M494.2 320.6h.01M509.0 335.2h.01M501.4 329.1h.01M505.9 319.0h.01M514.7 330.3h.01M510.9 311.1h.01M508.4 323.5h.01M510.0 338.1h.01M506.9 329.6h.01M496.7 318.9h.01M506.3 333.0h.01M513.3 330.8h.01M505.7 336.2h.01M509.3 338.0h.01M489.9 330.3h.01M499.7 334.7h.01M511.8 324.7h.01M494.7 329.5h.01M496.0 322.2h.01M494.5 322.8h.01M512.9 331.0h.01M499.4 318.3h.01M515.8 322.3h.01M512.7 324.4h.01M508.8 310.7h.01M508.5 335.2h.01M494.1 340.2h.01M501.2 315.9h.01M499.8 326.0h.01M495.8 339.8h.01M514.0 323.2h.01M513.1 328.8h.01M511.8 318.8h.01M494.5 335.1h.01M514.7 338.7h.01M495.7 320.7h.01M509.8 326.9h.01M515.4 324.7h.01M496.7 318.1h.01M507.4 329.2h.01M498.1 324.7h.01M514.5 329.8h.01M509.2 338.7h.01M499.5 309.8h.01M507.1 319.4h.01M506.7 329.5h.01M490.6 322.1h.01M496.5 318.9h.01M510.7 321.5h.01M505.5 332.2h.01M514.0 313.6h.01M491.6 332.6h.01M497.8 324.3h.01M490.2 327.9h.01M497.5 328.4h.01M511.0 298.0h.01M514.9 329.5h.01M515.6 330.1h.01M513.2 331.1h.01M490.0 336.1h.01M489.7 322.2h.01M504.9 327.0h.01M501.4 314.7h.01M515.3 329.1h.01M510.6 324.3h.01M498.3 330.7h.01M508.7 332.9h.01M508.7 328.2h.01M493.9 327.6h.01M507.4 322.3h.01M495.6 334.3h.01M498.7 329.3h.01M510.6 333.2h.01M507.6 324.7h.01M500.0 323.9h.01M506.8 324.7h.01M512.4 325.4h.01M511.8 336.3h.01M493.6 335.3h.01M492.3 327.6h.01M504.4 331.4h.01M513.3 327.0h.01M505.1 327.1h.01M495.2 327.1h.01M490.0 328.2h.01M512.4 326.0h.01M512.3 327.0h.01M508.1 331.2h.01M493.3 333.8h.01M513.6 314.5h.01M503.4 322.3h.01M502.7 327.3h.01M500.5 328.0h.01M503.7 328.1h.01M498.6 327.0h.01M516.0 311.7h.01M501.4 328.8h.01M504.0 324.2h.01M498.8 337.4h.01M495.8 324.4h.01M501.5 337.3h.01M513.2 332.9h.01M509.2 332.6h.01M502.2 297.2h.01M500.7 334.4h.01M497.5 324.0h.01M498.7 326.0h.01M492.4 333.3h.01M508.2 329.2h.01M502.7 332.3h.01M505.1 323.4h.01M490.8 332.1h.01M496.1 328.2h.01M508.0 333.1h.01M496.6 314.0h.01M498.1 327.7h.01M504.7 297.6h.01M513.7 330.8h.01M494.8 325.0h.01M503.6 328.1h.01M508.5 328.1h.01M503.1 327.1h.01M499.2 332.3h.01M508.8 325.8h.01M506.4 336.1h.01M513.8 332.6h.01M496.3 334.7h.01M491.7 242.3h.01M494.7 273.7h.01M498.7 280.7h.01M511.2 285.5h.01M491.7 297.5h.01M507.7 298.5h.01M511.7 297.0h.01M509.7 300.0h.01M504.7 303.0h.01M497.7 304.5h.01M500.7 307.0h.01M513.7 305.0h.01M498.7 348.2h.01M511.7 343.0h.01"/>
<g stroke="#e748e7" stroke-width="1" fill="none">
<rect x="544.50" y="326.00" width="56.00" height="8.00"/>
<path d="M558.50 316.70H586.50M558.50 338.30H586.50"/>
<path d="M572.50 316.70V326.00M572.50 334.00V338.30" stroke-dasharray="3 1.2"/>
</g>
<path d="M544.50 330.00H600.50" stroke="#e012e0" stroke-width="1.8"/>
<path stroke="#e012e0" stroke-width="3.8" stroke-linecap="round" fill="none" d="M570.1 333.6h.01M575.0 331.0h.01M567.5 330.1h.01M570.1 333.7h.01M581.6 329.7h.01M569.8 335.3h.01M576.0 327.5h.01M577.9 334.3h.01M584.5 318.8h.01M582.3 331.9h.01M570.8 327.0h.01M564.9 335.0h.01M567.4 328.3h.01M571.5 333.6h.01M572.7 324.7h.01M582.9 322.6h.01M581.7 339.7h.01M561.2 332.0h.01M568.2 338.4h.01M573.5 320.4h.01M573.9 333.1h.01M582.8 337.4h.01M568.5 331.3h.01M561.5 330.7h.01M560.1 333.3h.01M571.2 324.1h.01M582.8 327.7h.01M573.6 339.7h.01M569.6 320.1h.01M580.0 327.4h.01M563.9 334.4h.01M566.1 339.5h.01M565.0 321.9h.01M583.5 324.3h.01M562.5 296.2h.01M584.5 294.5h.01M579.5 303.5h.01M560.5 314.0h.01M561.5 316.0h.01M576.5 316.5h.01M574.5 319.0h.01M569.5 323.0h.01M581.5 321.5h.01M571.5 323.5h.01"/>
<g stroke="#606060" stroke-width="1.25" fill="none">
<path d="M690.70 212.30V346.70"/>
<path d="M690.70 346.70H900.00"/>
<path d="M684.30 230.00H690.70"/>
<path d="M684.30 249.45H690.70"/>
<path d="M684.30 268.90H690.70"/>
<path d="M684.30 288.35H690.70"/>
<path d="M684.30 307.80H690.70"/>
<path d="M684.30 327.25H690.70"/>
<path d="M684.30 346.70H690.70"/>
<path d="M725.00 346.70V352.70"/>
<path d="M795.00 346.70V352.70"/>
<path d="M864.50 346.70V352.70"/>
</g>
<g font-size="10.8" fill="#1a1a1a" text-anchor="end">
<text transform="translate(677.80 233.85) scale(.905 1)">11.6</text>
<text transform="translate(677.80 253.30) scale(.905 1)">10.6</text>
<text transform="translate(677.80 272.75) scale(.905 1)">9.6</text>
<text transform="translate(677.80 292.20) scale(.905 1)">8.6</text>
<text transform="translate(677.80 311.65) scale(.905 1)">7.6</text>
<text transform="translate(677.80 331.10) scale(.905 1)">6.6</text>
<text transform="translate(677.80 350.55) scale(.905 1)">5.6</text>
</g>
<g font-size="12.5" fill="#1a1a1a" text-anchor="middle">
<text transform="translate(725.00 368.35) scale(.96 1)">GG</text>
<text transform="translate(795.00 368.35) scale(.96 1)">GA</text>
<text transform="translate(864.50 368.35) scale(.96 1)">AA</text>
</g>
<text transform="translate(642.70 282.70) rotate(-90) scale(.94 1)" font-size="15.4" fill="#1a1a1a" text-anchor="middle">IL18R1</text>
<text x="799.30" y="203.00" font-size="11.55" fill="#1a1a1a" text-anchor="middle"><tspan font-style="italic">P</tspan> = 0.002</text>
<g stroke="#8fa9ee" stroke-width="1" fill="none">
<rect x="697.00" y="258.30" width="56.00" height="16.00"/>
<path d="M711.00 234.00H739.00M711.00 297.30H739.00"/>
<path d="M725.00 234.00V258.30M725.00 274.30V297.30" stroke-dasharray="3 1.2"/>
</g>
<path d="M697.00 266.70H753.00" stroke="#6b8fe8" stroke-width="1.8"/>
<path stroke="#6b8fe8" stroke-width="3.8" stroke-linecap="round" fill="none" d="M717.3 266.3h.01M722.8 260.9h.01M718.8 262.7h.01M716.3 260.1h.01M729.6 265.8h.01M724.5 266.1h.01M722.4 272.8h.01M720.3 260.8h.01M717.3 263.5h.01M714.5 261.9h.01M730.1 270.2h.01M731.4 254.8h.01M712.9 272.9h.01M721.5 268.8h.01M735.3 261.0h.01M734.2 263.4h.01M735.2 266.8h.01M727.6 259.2h.01M737.1 276.4h.01M736.3 268.8h.01M712.4 267.2h.01M726.1 269.6h.01M737.4 273.4h.01M716.5 264.7h.01M721.1 241.9h.01M733.5 266.0h.01M717.9 273.9h.01M736.5 272.1h.01M725.2 271.0h.01M726.9 271.2h.01M730.0 270.3h.01M723.4 276.3h.01M737.8 273.9h.01M729.7 246.6h.01M724.1 270.9h.01M733.0 260.5h.01M715.5 271.2h.01M732.3 266.9h.01M728.0 254.5h.01M718.9 260.1h.01M721.9 264.6h.01M726.3 283.9h.01M734.6 263.8h.01M715.9 280.6h.01M722.0 261.2h.01M736.0 270.3h.01M715.6 272.3h.01M727.0 258.6h.01M735.5 270.3h.01M727.7 273.4h.01M712.2 261.3h.01M737.0 282.0h.01M732.5 269.1h.01M722.9 265.9h.01M729.8 270.2h.01M724.2 273.7h.01M729.9 258.3h.01M732.4 284.4h.01M717.3 266.7h.01M720.8 251.0h.01M736.3 268.9h.01M731.8 274.5h.01M712.1 265.0h.01M720.6 263.2h.01M734.3 259.5h.01M721.6 257.9h.01M736.9 255.7h.01M736.4 269.8h.01M715.9 248.2h.01M717.2 259.6h.01M737.9 265.7h.01M730.4 250.2h.01M737.7 268.4h.01M713.6 270.2h.01M723.3 263.2h.01M714.2 261.3h.01M711.9 247.1h.01M713.7 261.3h.01M737.4 271.0h.01M729.4 274.0h.01M737.4 271.0h.01M733.9 251.5h.01M734.3 262.1h.01M717.0 252.1h.01M737.9 269.9h.01M723.1 254.8h.01M736.8 259.7h.01M726.5 254.6h.01M720.6 282.3h.01M736.0 245.5h.01M732.6 270.7h.01M715.3 262.7h.01M729.2 259.7h.01M723.1 274.2h.01M718.8 274.6h.01M718.6 261.2h.01M723.4 271.1h.01M716.8 251.5h.01M722.5 252.8h.01M724.8 266.9h.01M735.5 257.0h.01M719.4 271.7h.01M715.4 262.2h.01M712.1 241.2h.01M715.8 265.0h.01M724.3 266.3h.01M721.0 258.0h.01M727.6 263.6h.01M712.2 250.6h.01M728.6 263.4h.01M729.3 273.3h.01M733.3 248.1h.01M713.1 288.2h.01M721.2 268.5h.01M724.9 268.4h.01M712.8 260.6h.01M715.0 268.6h.01M725.2 276.5h.01M718.3 268.2h.01M730.5 277.2h.01M736.9 273.7h.01M716.2 262.1h.01M718.3 284.8h.01M723.9 269.8h.01M735.0 274.6h.01M720.1 277.2h.01M716.0 272.5h.01M719.7 279.9h.01M737.2 271.5h.01M731.5 257.8h.01M714.9 277.2h.01M714.4 267.8h.01M736.5 271.4h.01M728.1 268.0h.01M712.7 261.4h.01M724.9 259.1h.01M717.2 266.3h.01M729.9 271.9h.01M721.4 265.2h.01M732.8 261.5h.01M717.3 257.4h.01M737.5 252.1h.01M723.9 269.8h.01M732.6 258.9h.01M734.0 269.0h.01M716.7 276.0h.01M732.8 279.6h.01M731.4 239.6h.01M713.8 255.1h.01M734.3 261.8h.01M726.5 267.4h.01M735.7 273.2h.01M721.7 255.6h.01M721.9 264.3h.01M725.7 269.6h.01M724.5 274.5h.01M720.9 254.3h.01M724.3 264.0h.01M728.5 275.9h.01M713.1 253.0h.01M717.9 276.2h.01M730.7 258.5h.01M728.4 259.3h.01M711.9 265.3h.01M736.7 275.8h.01M724.1 293.1h.01M720.3 263.6h.01M727.8 256.3h.01M717.2 267.4h.01M715.2 272.1h.01M718.7 278.7h.01M732.0 272.6h.01M735.8 258.3h.01M729.5 277.1h.01M730.0 276.6h.01M714.6 257.6h.01M717.6 271.0h.01M720.6 291.4h.01M738.0 258.5h.01M714.5 270.6h.01M725.7 257.4h.01M729.6 258.8h.01M718.6 260.0h.01M712.6 279.6h.01M725.9 241.4h.01M737.9 270.8h.01M730.3 265.0h.01M722.0 267.8h.01M719.2 267.9h.01M713.8 254.5h.01M725.8 272.7h.01M719.8 265.7h.01M715.3 273.4h.01M717.4 276.1h.01M719.3 288.0h.01M713.6 278.7h.01M715.5 267.6h.01M721.0 264.0h.01M733.2 268.7h.01M726.2 257.7h.01M729.2 245.8h.01M728.7 276.4h.01M735.5 274.2h.01M728.6 274.4h.01M717.6 265.7h.01M714.2 265.4h.01M730.2 265.5h.01M721.9 271.3h.01M718.1 284.5h.01M718.6 259.4h.01M732.6 267.8h.01M724.2 271.7h.01M727.4 274.0h.01M724.4 288.8h.01M712.6 255.8h.01M723.4 265.1h.01M718.9 266.5h.01M727.3 270.7h.01M713.2 264.1h.01M726.8 255.9h.01M728.0 264.3h.01M736.5 271.2h.01M728.1 278.1h.01M730.5 266.7h.01M726.5 255.2h.01M721.9 277.8h.01M729.1 259.4h.01M719.5 257.2h.01M735.0 270.1h.01M728.6 259.1h.01M722.4 276.1h.01M728.4 258.4h.01M729.2 275.4h.01M715.2 276.6h.01M724.7 280.3h.01M738.1 262.0h.01M713.5 254.5h.01M738.2 267.7h.01M719.5 273.4h.01M715.4 265.5h.01M731.2 273.8h.01M735.3 244.6h.01M734.7 248.7h.01M723.3 276.9h.01M727.0 265.6h.01M735.1 261.2h.01M733.1 261.6h.01M721.3 278.0h.01M718.0 261.1h.01M733.5 263.9h.01M725.1 258.0h.01M717.3 274.6h.01M716.3 278.9h.01M715.8 268.3h.01M715.3 262.4h.01M722.2 256.7h.01M713.8 268.4h.01M716.4 260.3h.01M731.4 259.9h.01M724.0 278.7h.01M720.1 256.9h.01M714.2 266.7h.01M731.2 248.1h.01M729.0 252.6h.01M717.2 263.4h.01M733.4 268.3h.01M713.8 266.4h.01M734.1 281.7h.01M715.6 255.4h.01M730.4 266.7h.01M721.8 263.8h.01M719.7 255.4h.01M735.7 272.4h.01M720.6 280.3h.01M726.3 265.6h.01M737.9 247.5h.01M734.5 273.0h.01M725.0 260.1h.01M731.2 269.7h.01M713.3 268.1h.01M720.5 258.0h.01M732.2 276.5h.01M725.5 273.3h.01M726.9 248.8h.01M715.7 271.6h.01M715.2 274.6h.01M734.7 269.3h.01M716.9 241.9h.01M724.6 283.3h.01M736.7 260.7h.01M736.9 271.8h.01M723.1 263.0h.01M738.0 266.7h.01M737.5 264.9h.01M730.1 264.0h.01M723.0 269.6h.01M722.3 255.5h.01M726.1 259.4h.01M725.4 239.8h.01M714.5 265.6h.01M715.0 250.7h.01M713.5 285.8h.01M716.9 268.5h.01M734.9 272.1h.01M730.7 242.7h.01M736.6 260.9h.01M730.3 256.6h.01M718.4 274.6h.01M714.7 273.9h.01M716.2 267.6h.01M715.9 269.7h.01M713.2 279.8h.01M725.9 284.1h.01M738.0 272.8h.01M733.2 269.8h.01M724.2 250.0h.01M735.0 266.4h.01M731.6 286.3h.01M716.2 268.0h.01M713.6 267.6h.01M717.6 262.1h.01M721.5 268.3h.01M715.8 281.2h.01M731.2 259.1h.01M731.4 269.4h.01M726.3 258.7h.01M715.8 270.7h.01M714.2 273.0h.01M731.6 249.9h.01M723.1 283.0h.01M724.3 250.3h.01M720.3 253.3h.01M727.5 278.0h.01M728.9 245.7h.01M728.7 268.0h.01M717.0 276.4h.01M719.6 269.1h.01M728.0 267.7h.01M718.5 265.1h.01M730.6 271.1h.01M713.3 261.3h.01M738.1 287.4h.01M726.8 276.7h.01M737.3 288.9h.01M717.1 261.2h.01M736.1 282.0h.01M714.0 274.7h.01M733.4 274.8h.01M724.1 275.2h.01M724.7 247.4h.01M729.7 257.8h.01M719.1 258.5h.01M729.0 260.6h.01M725.1 281.0h.01M718.9 259.4h.01M731.5 273.4h.01M732.0 253.9h.01M728.3 266.8h.01M736.9 271.6h.01M718.3 272.3h.01M734.5 254.2h.01M712.3 253.6h.01M717.1 265.4h.01M716.1 267.6h.01M716.2 270.7h.01M731.3 283.1h.01M732.1 255.7h.01M719.5 288.5h.01M725.7 260.2h.01M734.3 269.9h.01M714.4 268.2h.01M730.8 270.4h.01M716.1 276.0h.01M716.7 252.3h.01M718.3 269.3h.01M715.5 263.9h.01M737.3 270.6h.01M713.3 266.7h.01M712.3 260.9h.01M715.8 268.0h.01M722.5 265.8h.01M714.6 259.8h.01M715.6 283.0h.01M737.9 271.0h.01M723.7 261.7h.01M714.9 278.7h.01M729.8 266.8h.01M713.5 279.9h.01M726.2 278.3h.01M721.9 268.0h.01M721.8 273.6h.01M715.5 255.2h.01M712.2 266.2h.01M736.7 274.5h.01M727.4 276.1h.01M717.3 258.0h.01M722.7 249.9h.01M718.8 276.4h.01M715.8 274.8h.01M727.1 253.0h.01M726.4 265.9h.01M722.5 263.3h.01M735.9 253.2h.01M724.8 266.6h.01M717.0 263.0h.01M736.5 262.1h.01M719.8 262.6h.01M726.2 254.2h.01M728.1 278.9h.01M723.7 282.8h.01M717.7 257.9h.01M728.4 272.3h.01M724.1 268.8h.01M712.8 277.8h.01M737.5 260.0h.01M737.6 273.8h.01M722.8 254.4h.01M729.4 270.7h.01M721.1 260.7h.01M724.6 280.4h.01M715.2 282.7h.01M735.3 246.5h.01M724.1 262.3h.01M715.4 272.8h.01M733.0 272.0h.01M729.5 269.0h.01M728.9 247.0h.01M728.8 276.6h.01M717.7 265.0h.01M729.4 271.3h.01M712.8 266.9h.01M715.3 261.2h.01M728.2 251.6h.01M716.8 284.8h.01M727.8 267.2h.01M718.1 274.3h.01M734.9 272.0h.01M718.5 279.7h.01M733.6 286.7h.01M733.4 278.0h.01M722.2 266.6h.01M727.6 278.1h.01M723.8 270.1h.01M728.0 269.4h.01M713.2 256.5h.01M734.1 258.2h.01M717.0 269.0h.01M715.5 259.8h.01M716.0 275.0h.01M714.9 268.6h.01M734.2 251.7h.01M733.9 265.3h.01M718.2 270.1h.01M731.1 271.8h.01M713.5 276.4h.01M735.5 256.5h.01M713.1 243.6h.01M736.1 273.1h.01M732.3 285.6h.01M730.9 271.3h.01M730.1 257.8h.01M723.8 248.4h.01M727.3 268.3h.01M718.6 273.5h.01M736.0 267.0h.01M715.7 267.4h.01M727.2 251.8h.01M720.6 279.5h.01M716.3 258.9h.01M736.4 262.3h.01M731.1 264.3h.01M712.5 258.7h.01M721.8 269.7h.01M729.2 271.8h.01M720.5 275.5h.01M713.1 259.0h.01M723.2 255.5h.01M719.6 256.3h.01M731.3 268.2h.01M727.8 239.8h.01M717.9 283.7h.01M716.0 263.1h.01M725.0 259.9h.01M732.0 267.1h.01M718.8 269.4h.01M718.5 263.1h.01M732.8 262.4h.01M734.1 282.6h.01M713.3 256.4h.01M715.4 263.4h.01M713.1 262.7h.01M725.2 261.9h.01M712.2 272.3h.01M735.3 269.0h.01M714.5 267.3h.01M717.4 278.6h.01M730.4 259.8h.01M727.0 267.7h.01M720.9 264.2h.01M730.3 271.0h.01M726.8 268.6h.01M713.3 280.3h.01M719.7 264.4h.01M730.0 261.5h.01M718.5 266.3h.01M733.2 275.1h.01M721.7 268.0h.01M713.9 266.7h.01M726.3 245.6h.01M727.9 271.9h.01M736.8 283.5h.01M719.0 270.5h.01M733.2 259.0h.01M725.4 270.3h.01M729.0 286.8h.01M724.5 283.1h.01M722.5 291.0h.01M722.7 270.7h.01M716.0 274.8h.01M735.1 259.4h.01M723.5 257.4h.01M725.4 267.0h.01M711.9 256.9h.01M716.9 263.8h.01M726.5 245.7h.01M720.8 271.6h.01M732.8 259.5h.01M724.8 264.9h.01M720.4 259.8h.01M720.5 262.0h.01M734.8 254.8h.01M713.3 259.3h.01M723.4 262.2h.01M735.6 267.2h.01M723.6 275.9h.01M718.1 261.3h.01M721.7 288.0h.01M718.2 259.0h.01M733.6 265.4h.01M719.8 273.8h.01M716.9 282.2h.01M732.8 279.3h.01M724.7 267.9h.01M719.7 279.0h.01M717.7 264.5h.01M716.7 268.2h.01M725.3 267.7h.01M733.1 269.7h.01M731.5 268.8h.01M729.9 276.5h.01M730.7 275.8h.01M727.6 275.5h.01M720.4 281.1h.01M730.2 277.0h.01M715.9 253.1h.01M729.2 265.1h.01M716.9 264.5h.01M736.8 250.8h.01M714.1 261.7h.01M730.7 284.6h.01M721.4 254.1h.01M734.5 258.5h.01M716.8 269.1h.01M734.9 275.8h.01M731.2 268.9h.01M720.8 254.4h.01M714.2 253.7h.01M730.3 264.2h.01M730.6 258.1h.01M718.6 253.4h.01M724.0 258.6h.01M723.3 254.2h.01M727.6 256.4h.01M736.6 262.5h.01M717.3 279.0h.01M721.5 268.6h.01M731.9 259.6h.01M732.3 259.0h.01M718.2 280.1h.01M725.5 265.3h.01M715.5 267.6h.01M717.1 260.9h.01M716.4 268.1h.01M735.5 262.2h.01M726.9 242.5h.01M729.0 258.9h.01M737.1 265.2h.01M715.5 252.0h.01M724.3 245.8h.01M736.9 260.9h.01M713.0 254.1h.01M713.4 260.0h.01M717.8 257.8h.01M730.8 260.2h.01M715.6 252.5h.01M716.5 278.5h.01M713.8 278.5h.01M734.1 269.9h.01M731.0 247.0h.01M728.1 277.4h.01M729.8 257.3h.01M714.2 262.4h.01M723.1 267.7h.01M726.0 258.5h.01M716.7 264.0h.01M719.7 267.8h.01M735.8 286.7h.01M714.0 269.1h.01M730.3 261.2h.01M731.0 257.1h.01M730.8 264.5h.01M731.4 269.5h.01M734.1 256.5h.01M715.7 268.5h.01M722.2 277.2h.01M733.2 270.9h.01M721.9 295.9h.01M736.1 273.3h.01M716.4 272.4h.01M727.5 254.7h.01M735.0 258.5h.01M737.7 264.0h.01M727.3 281.7h.01M733.3 267.1h.01M731.6 269.6h.01M728.7 272.6h.01M726.5 285.2h.01M726.4 272.0h.01M722.0 268.7h.01M735.3 263.7h.01M730.4 264.0h.01M718.2 267.4h.01M719.1 275.1h.01M730.2 267.7h.01M736.8 261.5h.01M735.6 265.4h.01M731.2 250.1h.01M712.8 257.9h.01M726.1 266.4h.01M722.6 268.9h.01M716.8 256.2h.01M735.1 267.8h.01M724.3 264.6h.01M727.1 261.7h.01M725.2 257.2h.01M720.5 255.7h.01M719.6 267.9h.01M727.0 270.9h.01M717.1 264.3h.01M733.1 276.6h.01M719.8 270.8h.01M731.7 260.8h.01M717.6 269.7h.01M737.4 277.3h.01M712.3 264.3h.01M725.6 252.7h.01M716.1 283.6h.01M730.6 263.3h.01M717.7 266.4h.01M711.9 259.9h.01M730.2 270.0h.01M736.5 247.8h.01M726.2 275.0h.01M721.2 276.4h.01M720.1 256.1h.01M712.0 260.1h.01M712.4 281.7h.01M720.2 278.7h.01M718.7 287.6h.01M717.8 274.7h.01M721.6 267.1h.01M723.8 269.0h.01M715.8 261.9h.01M716.5 272.6h.01M723.6 269.7h.01M712.1 263.9h.01M732.8 261.6h.01M719.9 271.5h.01M722.7 273.7h.01M717.7 269.1h.01M723.6 268.1h.01M738.1 272.8h.01M735.1 279.3h.01M728.0 262.0h.01M714.2 269.8h.01M722.5 252.4h.01M728.5 263.5h.01M716.3 269.3h.01M712.9 276.2h.01M728.2 261.6h.01M725.4 253.6h.01M731.0 268.1h.01M722.0 262.9h.01M733.3 258.8h.01M714.7 277.7h.01M733.1 262.5h.01M722.1 264.4h.01M712.7 263.8h.01M737.6 234.8h.01M736.1 255.3h.01M729.5 238.0h.01M721.7 267.1h.01M737.3 267.2h.01M727.8 258.0h.01M735.9 261.3h.01M720.1 267.7h.01M732.1 266.5h.01M717.8 288.5h.01M721.9 259.6h.01M731.6 259.1h.01M717.8 244.4h.01M732.3 254.6h.01M713.9 275.1h.01M723.9 247.9h.01M733.7 282.7h.01M728.7 253.7h.01M718.9 278.1h.01M728.7 285.7h.01M734.4 268.3h.01M733.4 264.4h.01M713.0 231.7h.01M714.0 233.5h.01M720.0 233.5h.01M723.0 234.0h.01M729.0 233.0h.01M712.0 296.0h.01M715.0 298.0h.01M715.5 301.0h.01M723.0 326.5h.01M733.0 294.0h.01M737.0 292.0h.01"/>
<g stroke="#ecb655" stroke-width="1" fill="none">
<rect x="767.00" y="260.70" width="56.00" height="15.60"/>
<path d="M781.00 238.30H809.00M781.00 296.30H809.00"/>
<path d="M795.00 238.30V260.70M795.00 276.30V296.30" stroke-dasharray="3 1.2"/>
</g>
<path d="M767.00 268.70H823.00" stroke="#e6a023" stroke-width="1.8"/>
<path stroke="#e6a023" stroke-width="3.8" stroke-linecap="round" fill="none" d="M802.4 257.4h.01M800.7 262.2h.01M804.2 277.2h.01M792.1 277.3h.01M789.8 276.4h.01M803.2 268.4h.01M788.3 275.9h.01M787.7 248.7h.01M783.3 283.5h.01M782.6 278.8h.01M806.2 289.9h.01M788.1 273.7h.01M804.7 271.1h.01M789.8 261.1h.01M804.7 257.3h.01M794.2 261.9h.01M801.5 275.9h.01M802.7 285.9h.01M787.8 266.8h.01M805.3 276.7h.01M788.7 259.6h.01M796.8 270.5h.01M801.3 261.9h.01M800.2 261.6h.01M800.7 253.4h.01M790.9 262.3h.01M784.1 268.7h.01M795.2 263.4h.01M804.2 275.5h.01M805.2 265.9h.01M801.3 271.7h.01M784.2 273.4h.01M802.1 265.1h.01M787.5 264.9h.01M799.0 270.2h.01M783.4 271.6h.01M782.7 262.1h.01M793.9 259.4h.01M794.6 276.5h.01M807.7 259.3h.01M788.0 280.4h.01M789.3 258.9h.01M782.5 264.6h.01M791.8 294.6h.01M787.3 272.8h.01M802.9 259.7h.01M788.0 268.8h.01M793.6 262.3h.01M793.6 270.3h.01M806.1 269.5h.01M793.5 273.6h.01M794.0 265.2h.01M792.7 263.3h.01M798.1 278.0h.01M797.7 275.3h.01M806.3 265.5h.01M794.7 281.3h.01M794.9 266.1h.01M807.3 270.2h.01M797.9 265.2h.01M784.6 279.0h.01M782.6 251.1h.01M800.6 267.0h.01M801.9 267.1h.01M796.0 272.0h.01M791.4 269.5h.01M783.8 278.3h.01M788.4 280.0h.01M789.8 271.5h.01M803.7 249.1h.01M785.7 261.0h.01M804.2 257.2h.01M795.1 270.7h.01M788.8 271.5h.01M794.1 276.5h.01M805.0 242.8h.01M804.6 269.9h.01M787.1 253.3h.01M795.0 269.0h.01M798.8 262.5h.01M793.6 268.6h.01M803.6 264.3h.01M803.1 267.6h.01M785.6 260.2h.01M788.2 271.1h.01M797.4 276.1h.01M788.8 267.6h.01M786.0 268.2h.01M793.7 261.7h.01M798.0 282.3h.01M804.4 263.9h.01M805.8 268.5h.01M792.6 270.2h.01M805.6 289.0h.01M789.2 259.9h.01M791.4 257.9h.01M792.0 265.6h.01M805.5 283.4h.01M801.1 276.9h.01M803.1 261.4h.01M783.3 290.1h.01M790.4 270.6h.01M788.5 263.7h.01M782.2 262.3h.01M792.8 277.3h.01M797.6 268.6h.01M793.2 277.0h.01M801.0 284.2h.01M782.4 276.3h.01M786.1 254.7h.01M790.9 280.5h.01M791.4 266.6h.01M798.5 262.7h.01M807.3 277.4h.01M793.1 283.1h.01M796.2 257.8h.01M803.4 283.4h.01M800.2 276.6h.01M794.7 275.5h.01M804.3 269.7h.01M807.2 274.2h.01M805.5 268.9h.01M786.2 263.6h.01M783.1 271.2h.01M799.6 280.8h.01M802.1 258.4h.01M789.9 263.2h.01M800.1 274.6h.01M804.4 254.5h.01M795.0 268.3h.01M793.1 260.2h.01M784.8 264.0h.01M782.6 276.2h.01M806.8 260.8h.01M795.5 262.4h.01M792.4 292.3h.01M795.2 284.8h.01M782.2 255.9h.01M801.7 286.4h.01M785.9 281.1h.01M787.1 259.7h.01M802.6 270.8h.01M799.1 278.0h.01M808.1 266.7h.01M792.4 254.4h.01M804.2 269.6h.01M801.0 251.7h.01M802.4 267.4h.01M791.9 277.4h.01M804.6 271.1h.01M798.6 274.5h.01M800.5 271.1h.01M792.1 257.8h.01M803.9 279.4h.01M800.8 265.0h.01M785.2 259.1h.01M786.3 263.1h.01M787.3 247.0h.01M797.7 243.5h.01M791.6 281.3h.01M793.2 254.6h.01M790.0 278.5h.01M806.4 280.4h.01M795.9 277.8h.01M786.7 264.7h.01M792.8 272.9h.01M791.9 272.6h.01M805.9 275.0h.01M801.3 280.8h.01M781.8 262.9h.01M782.7 287.2h.01M793.2 283.0h.01M804.1 261.3h.01M796.5 260.7h.01M801.9 263.0h.01M790.7 261.5h.01M788.7 268.1h.01M785.9 266.6h.01M798.7 273.6h.01M797.9 257.6h.01M795.9 280.7h.01M794.0 264.4h.01M803.8 269.0h.01M791.4 264.7h.01M802.4 270.5h.01M787.7 263.4h.01M788.3 265.3h.01M797.4 267.2h.01M801.0 277.3h.01M790.1 255.9h.01M792.6 266.5h.01M783.0 280.9h.01M800.3 277.5h.01M807.9 268.9h.01M802.1 265.5h.01M801.5 246.9h.01M798.9 258.2h.01M789.8 264.0h.01M796.0 266.3h.01M789.5 268.0h.01M804.6 285.1h.01M788.3 277.9h.01M808.0 247.7h.01M784.1 278.1h.01M804.6 248.2h.01M802.1 264.1h.01M795.0 263.3h.01M782.7 286.3h.01M804.3 275.5h.01M793.2 270.2h.01M802.2 251.0h.01M782.2 273.7h.01M796.4 258.3h.01M802.3 264.9h.01M800.0 265.0h.01M795.4 257.4h.01M789.3 268.8h.01M789.2 269.4h.01M797.6 266.1h.01M801.5 254.4h.01M783.2 278.0h.01M792.7 272.4h.01M806.2 263.8h.01M797.7 265.0h.01M790.8 275.0h.01M792.6 256.6h.01M790.3 261.6h.01M785.9 259.2h.01M791.3 259.3h.01M804.1 270.4h.01M790.5 275.0h.01M805.7 277.0h.01M798.9 277.5h.01M782.0 273.0h.01M794.2 269.9h.01M787.1 275.9h.01M782.4 270.0h.01M793.5 261.2h.01M800.0 264.9h.01M801.7 274.6h.01M801.0 279.0h.01M788.3 252.1h.01M782.1 260.2h.01M786.7 276.4h.01M805.2 261.6h.01M797.3 252.9h.01M798.9 264.5h.01M788.9 273.0h.01M787.6 257.1h.01M786.4 277.9h.01M789.9 264.4h.01M794.8 259.6h.01M786.5 276.4h.01M789.9 265.3h.01M797.7 270.0h.01M785.9 257.0h.01M807.2 263.0h.01M802.1 276.3h.01M798.4 271.9h.01M793.4 267.2h.01M786.7 277.8h.01M784.9 258.7h.01M782.3 267.3h.01M797.1 270.3h.01M796.2 256.9h.01M800.9 269.7h.01M791.2 282.0h.01M801.2 273.7h.01M801.6 277.5h.01M789.6 265.0h.01M783.4 273.4h.01M787.1 261.3h.01M783.5 278.1h.01M792.1 268.3h.01M805.0 286.6h.01M800.0 271.7h.01M798.9 263.0h.01M792.1 263.4h.01M785.7 256.0h.01M798.1 281.3h.01M790.8 257.5h.01M808.2 268.9h.01M799.2 263.4h.01M782.6 261.6h.01M800.1 269.2h.01M794.3 273.2h.01M785.2 264.7h.01M785.3 258.6h.01M784.3 265.9h.01M803.0 274.0h.01M792.8 261.4h.01M794.5 273.8h.01M783.6 266.8h.01M792.8 271.9h.01M795.0 280.9h.01M795.5 276.2h.01M797.2 252.1h.01M796.2 277.1h.01M786.6 268.8h.01M795.5 277.0h.01M786.3 274.0h.01M793.3 266.9h.01M787.1 268.6h.01M789.2 257.8h.01M795.3 276.6h.01M803.1 254.3h.01M782.2 274.2h.01M803.4 276.2h.01M796.1 261.3h.01M795.7 277.2h.01M791.7 259.0h.01M785.4 266.6h.01M804.9 282.7h.01M795.8 275.2h.01M807.5 262.0h.01M784.6 294.2h.01M797.7 273.4h.01M787.3 262.8h.01M792.2 270.3h.01M803.1 272.3h.01M802.9 264.2h.01M787.5 271.6h.01M787.9 275.7h.01M798.2 274.3h.01M800.4 259.9h.01M794.5 268.5h.01M799.6 271.5h.01M797.9 272.7h.01M793.7 276.5h.01M790.5 276.9h.01M801.4 256.1h.01M803.4 255.0h.01M800.1 277.4h.01M787.9 283.0h.01M803.5 262.6h.01M804.4 275.0h.01M806.7 271.3h.01M805.0 286.0h.01M786.7 264.9h.01M796.2 270.7h.01M785.8 270.4h.01M803.1 271.8h.01M806.5 267.2h.01M787.1 266.5h.01M800.8 257.3h.01M802.8 267.1h.01M801.3 251.6h.01M802.8 280.7h.01M804.2 261.8h.01M800.3 258.7h.01M806.1 254.0h.01M794.0 263.3h.01M787.4 266.4h.01M796.8 276.6h.01M795.7 268.8h.01M795.8 293.8h.01M790.6 264.1h.01M793.5 275.6h.01M797.2 282.3h.01M790.2 293.2h.01M793.9 277.7h.01M807.7 263.3h.01M790.9 264.8h.01M806.8 258.0h.01M799.3 259.6h.01M795.8 273.3h.01M781.9 254.4h.01M789.2 271.0h.01M786.0 270.1h.01M798.8 265.9h.01M796.5 280.4h.01M799.4 247.1h.01M792.3 263.8h.01M799.7 264.9h.01M798.6 276.3h.01M791.3 277.0h.01M794.9 263.8h.01M796.5 275.4h.01M792.5 272.5h.01M804.4 274.1h.01M802.4 265.3h.01M786.2 274.9h.01M791.0 280.2h.01M788.7 281.7h.01M789.8 274.7h.01M802.0 276.0h.01M797.3 276.4h.01M800.9 266.8h.01M797.2 278.9h.01M806.3 265.7h.01M801.5 253.5h.01M785.0 267.5h.01M782.3 281.1h.01M803.3 281.2h.01M799.5 281.4h.01M784.2 257.7h.01M800.3 256.4h.01M791.9 276.7h.01M807.7 257.4h.01M807.0 255.2h.01M796.1 266.7h.01M800.8 274.9h.01M783.2 286.5h.01M796.7 279.8h.01M801.9 271.6h.01M806.3 251.4h.01M791.7 264.1h.01M782.7 263.1h.01M794.5 261.8h.01M806.0 258.8h.01M792.8 276.2h.01M793.0 269.5h.01M804.3 277.1h.01M800.5 264.0h.01M805.1 268.1h.01M802.7 272.7h.01M805.5 259.5h.01M781.8 276.1h.01M782.4 280.7h.01M798.3 272.7h.01M783.4 266.9h.01M802.0 269.3h.01M787.8 264.3h.01M789.0 275.0h.01M798.3 275.5h.01M784.0 268.0h.01M788.1 265.3h.01M799.6 285.3h.01M784.7 256.9h.01M806.2 265.2h.01M782.6 263.0h.01M804.0 267.2h.01M790.8 269.9h.01M789.8 277.3h.01M785.3 264.1h.01M799.0 274.9h.01M797.5 251.1h.01M807.6 276.2h.01M805.5 264.2h.01M804.9 272.0h.01M788.9 276.7h.01M798.4 281.3h.01M796.1 269.1h.01M784.3 284.6h.01M802.7 279.9h.01M793.2 261.0h.01M804.0 293.3h.01M791.0 278.3h.01M800.4 265.6h.01M804.5 274.7h.01M790.8 259.7h.01M803.8 267.7h.01M796.5 264.0h.01M785.1 270.2h.01M783.9 267.4h.01M792.1 280.6h.01M805.5 284.1h.01M791.7 265.1h.01M805.9 271.1h.01M795.0 275.4h.01M789.2 264.1h.01M792.6 253.0h.01M799.4 264.4h.01M790.4 266.3h.01M805.2 268.7h.01M796.2 261.5h.01M786.3 255.8h.01M781.8 272.4h.01M793.1 269.1h.01M802.2 275.3h.01M799.0 274.2h.01M785.8 271.7h.01M790.5 246.7h.01M784.6 272.1h.01M800.8 274.8h.01M793.2 273.9h.01M784.9 276.2h.01M801.3 271.0h.01M796.8 262.3h.01M796.7 258.6h.01M786.1 272.5h.01M803.5 276.9h.01M786.6 260.3h.01M782.8 263.5h.01M795.3 273.8h.01M797.1 262.7h.01M798.7 266.2h.01M790.7 282.8h.01M782.8 277.5h.01M793.1 259.6h.01M784.7 253.6h.01M788.1 279.0h.01M793.9 274.5h.01M806.7 263.8h.01M786.1 257.2h.01M802.3 279.9h.01M802.7 284.3h.01M797.8 270.5h.01M791.5 269.0h.01M806.3 278.0h.01M797.0 228.3h.01M803.5 233.5h.01M792.0 239.0h.01M800.0 238.5h.01M806.0 299.5h.01M785.0 294.0h.01M790.0 295.5h.01M799.0 296.0h.01"/>
<g stroke="#e748e7" stroke-width="1" fill="none">
<rect x="836.50" y="265.30" width="56.00" height="13.00"/>
<path d="M850.50 254.00H878.50M850.50 287.00H878.50"/>
<path d="M864.50 254.00V265.30M864.50 278.30V287.00" stroke-dasharray="3 1.2"/>
</g>
<path d="M836.50 271.70H892.50" stroke="#e012e0" stroke-width="1.8"/>
<path stroke="#e012e0" stroke-width="3.8" stroke-linecap="round" fill="none" d="M869.4 259.1h.01M858.9 265.1h.01M857.6 268.2h.01M872.2 263.5h.01M853.4 267.0h.01M857.1 263.1h.01M863.7 280.7h.01M873.1 268.6h.01M871.7 282.3h.01M875.9 272.2h.01M876.9 275.2h.01M868.1 274.8h.01M854.7 272.3h.01M876.8 263.2h.01M857.3 278.6h.01M859.2 270.0h.01M866.8 264.4h.01M864.4 268.2h.01M866.6 262.4h.01M859.6 286.3h.01M871.1 270.0h.01M868.1 275.8h.01M866.3 262.4h.01M876.8 261.7h.01M871.6 277.2h.01M860.7 276.2h.01M867.9 273.4h.01M876.2 269.8h.01M875.3 258.1h.01M861.6 276.0h.01M872.3 274.8h.01M852.6 280.7h.01M853.3 263.5h.01M862.2 280.2h.01M860.1 280.3h.01M864.5 274.2h.01M873.1 274.0h.01M862.9 269.2h.01M868.6 277.3h.01M865.9 261.3h.01M861.0 262.9h.01M859.5 266.1h.01M873.6 270.1h.01M862.7 268.1h.01M875.3 269.4h.01M865.7 272.2h.01M857.6 276.0h.01M875.9 285.3h.01M872.1 256.6h.01M874.6 279.3h.01M866.1 265.4h.01M854.6 258.4h.01M854.5 254.0h.01M856.5 256.5h.01M869.5 259.5h.01M874.5 259.0h.01M876.5 260.5h.01M852.5 286.0h.01M856.5 287.0h.01M861.5 286.5h.01"/>
<g stroke="#606060" stroke-width="1.25" fill="none">
<path d="M396.90 411.50V545.70"/>
<path d="M396.90 545.70H605.30"/>
<path d="M390.50 412.60H396.90"/>
<path d="M390.50 434.80H396.90"/>
<path d="M390.50 457.00H396.90"/>
<path d="M390.50 479.20H396.90"/>
<path d="M390.50 501.40H396.90"/>
<path d="M390.50 523.60H396.90"/>
<path d="M390.50 545.80H396.90"/>
<path d="M431.20 545.70V551.70"/>
<path d="M500.80 545.70V551.70"/>
<path d="M570.60 545.70V551.70"/>
</g>
<g font-size="10.8" fill="#1a1a1a" text-anchor="end">
<text transform="translate(384.00 416.45) scale(.905 1)">6.8</text>
<text transform="translate(384.00 438.65) scale(.905 1)">5.8</text>
<text transform="translate(384.00 460.85) scale(.905 1)">4.8</text>
<text transform="translate(384.00 483.05) scale(.905 1)">3.8</text>
<text transform="translate(384.00 505.25) scale(.905 1)">2.8</text>
<text transform="translate(384.00 527.45) scale(.905 1)">1.8</text>
<text transform="translate(384.00 549.65) scale(.905 1)">0.8</text>
</g>
<g font-size="12.5" fill="#1a1a1a" text-anchor="middle">
<text transform="translate(431.20 567.35) scale(.96 1)">GG</text>
<text transform="translate(500.80 567.35) scale(.96 1)">GA</text>
<text transform="translate(570.60 567.35) scale(.96 1)">AA</text>
</g>
<text transform="translate(348.20 482.00) rotate(-90) scale(.94 1)" font-size="15.4" fill="#1a1a1a" text-anchor="middle">SLAMF1</text>
<text x="503.00" y="402.00" font-size="11.55" fill="#1a1a1a" text-anchor="middle"><tspan font-style="italic">P</tspan> = 0.005</text>
<text x="500.40" y="589.80" font-size="14" fill="#1a1a1a" text-anchor="middle">MICB genotype</text>
<g stroke="#8fa9ee" stroke-width="1" fill="none">
<rect x="403.20" y="490.30" width="56.00" height="20.70"/>
<path d="M417.20 460.60H445.20M417.20 541.50H445.20"/>
<path d="M431.20 460.60V490.30M431.20 511.00V541.50" stroke-dasharray="3 1.2"/>
</g>
<path d="M403.20 501.00H459.20" stroke="#6b8fe8" stroke-width="1.8"/>
<path stroke="#6b8fe8" stroke-width="3.8" stroke-linecap="round" fill="none" d="M418.2 504.2h.01M434.5 501.6h.01M439.6 519.9h.01M430.8 507.7h.01M428.5 507.0h.01M420.1 489.5h.01M430.0 502.6h.01M421.1 510.0h.01M429.8 507.9h.01M428.2 513.7h.01M424.2 505.2h.01M430.4 508.1h.01M419.5 486.9h.01M434.2 469.1h.01M423.1 481.8h.01M425.5 489.1h.01M440.1 498.4h.01M419.9 511.7h.01M437.2 501.0h.01M420.6 516.9h.01M436.3 517.5h.01M429.3 511.4h.01M434.0 491.1h.01M428.3 509.2h.01M436.6 486.4h.01M422.5 497.9h.01M429.5 503.7h.01M435.1 470.2h.01M443.0 498.7h.01M439.2 483.0h.01M428.5 512.4h.01M442.9 503.4h.01M443.0 510.5h.01M428.5 503.9h.01M437.7 512.5h.01M442.2 508.5h.01M439.6 511.5h.01M420.8 502.8h.01M418.3 480.0h.01M435.7 496.3h.01M441.3 513.0h.01M429.1 504.9h.01M440.3 489.7h.01M425.7 510.3h.01M438.1 484.5h.01M423.5 493.6h.01M442.1 501.4h.01M421.3 486.2h.01M424.1 506.5h.01M442.3 517.4h.01M435.8 518.1h.01M431.1 517.1h.01M443.4 518.4h.01M432.4 496.6h.01M431.2 483.1h.01M437.9 485.5h.01M420.7 509.3h.01M425.3 478.2h.01M424.1 503.3h.01M440.2 495.8h.01M418.7 507.7h.01M427.8 494.3h.01M430.5 499.2h.01M425.7 521.1h.01M422.1 518.3h.01M419.4 501.4h.01M422.1 524.3h.01M422.3 509.2h.01M432.2 524.0h.01M437.1 480.7h.01M424.1 489.0h.01M436.8 512.8h.01M430.2 483.2h.01M433.8 481.6h.01M426.1 496.8h.01M423.1 491.4h.01M431.0 495.8h.01M435.5 507.6h.01M441.4 532.1h.01M434.7 508.1h.01M422.4 496.6h.01M420.7 496.7h.01M439.5 506.3h.01M432.1 500.7h.01M422.0 502.0h.01M433.6 519.7h.01M420.8 508.4h.01M418.3 502.3h.01M438.5 506.8h.01M431.5 484.0h.01M430.8 492.8h.01M440.4 489.7h.01M420.6 496.2h.01M427.3 492.7h.01M444.0 513.9h.01M421.0 493.5h.01M436.8 509.4h.01M444.3 485.7h.01M430.1 480.2h.01M430.1 515.3h.01M433.1 495.3h.01M438.6 497.1h.01M430.5 487.7h.01M427.2 499.5h.01M436.8 501.7h.01M420.5 499.5h.01M419.2 485.3h.01M441.5 471.1h.01M435.6 518.8h.01M435.1 505.6h.01M424.0 489.2h.01M433.8 491.8h.01M426.3 494.6h.01M429.4 507.1h.01M418.7 522.1h.01M420.8 512.1h.01M425.9 480.6h.01M443.6 501.5h.01M421.5 493.2h.01M419.2 529.6h.01M436.8 512.7h.01M418.8 488.9h.01M420.2 484.0h.01M432.5 475.2h.01M434.7 502.0h.01M442.9 516.6h.01M443.1 471.0h.01M419.2 486.4h.01M443.8 512.8h.01M419.4 501.7h.01M439.7 484.7h.01M427.3 494.2h.01M426.5 490.6h.01M434.2 491.3h.01M441.9 488.9h.01M440.5 512.5h.01M429.0 496.5h.01M420.2 514.7h.01M438.9 506.1h.01M432.3 496.3h.01M428.8 481.9h.01M419.8 497.4h.01M418.7 498.7h.01M433.6 497.0h.01M436.6 512.1h.01M434.7 520.7h.01M427.7 492.8h.01M429.5 496.0h.01M443.6 489.3h.01M426.4 492.8h.01M436.4 491.1h.01M421.2 468.6h.01M444.1 503.2h.01M423.3 501.1h.01M436.3 502.3h.01M438.9 500.4h.01M427.2 505.9h.01M432.1 510.7h.01M437.0 501.0h.01M433.7 507.8h.01M438.4 512.5h.01M438.6 500.8h.01M433.1 512.8h.01M427.1 507.5h.01M438.6 487.0h.01M438.6 497.4h.01M426.7 506.8h.01M419.0 491.3h.01M443.3 488.8h.01M430.3 495.3h.01M436.4 517.5h.01M424.1 503.4h.01M438.8 490.0h.01M441.6 486.1h.01M433.1 500.5h.01M426.7 479.2h.01M429.8 495.1h.01M423.8 511.5h.01M438.8 499.1h.01M432.1 508.6h.01M426.8 505.6h.01M443.5 485.5h.01M427.0 503.8h.01M433.2 480.3h.01M426.0 491.8h.01M430.4 488.4h.01M431.9 492.8h.01M426.0 517.2h.01M430.6 483.3h.01M440.5 502.2h.01M431.5 495.9h.01M426.0 502.5h.01M435.9 501.7h.01M422.3 486.2h.01M426.2 497.4h.01M441.6 489.6h.01M430.3 497.6h.01M436.4 490.7h.01M425.6 504.8h.01M436.2 508.1h.01M438.7 475.4h.01M421.3 514.1h.01M431.0 513.7h.01M418.6 508.7h.01M441.5 504.9h.01M434.2 475.6h.01M444.3 507.5h.01M443.4 495.6h.01M424.9 506.2h.01M443.1 513.3h.01M436.2 493.1h.01M439.9 503.4h.01M425.1 520.3h.01M440.8 489.0h.01M441.3 490.6h.01M439.4 481.7h.01M427.4 504.5h.01M438.8 499.6h.01M440.8 477.3h.01M437.1 510.4h.01M437.5 494.4h.01M427.5 499.7h.01M431.3 483.3h.01M423.2 499.9h.01M431.9 518.7h.01M428.5 496.2h.01M426.1 491.4h.01M443.0 526.4h.01M443.5 511.6h.01M435.2 507.4h.01M442.8 505.1h.01M444.4 518.7h.01M440.6 507.7h.01M427.3 524.8h.01M429.5 509.7h.01M434.8 490.0h.01M424.9 480.1h.01M439.7 510.4h.01M439.0 483.9h.01M440.8 503.5h.01M432.1 497.8h.01M419.6 506.1h.01M440.7 514.6h.01M439.3 499.0h.01M437.3 507.9h.01M440.0 495.1h.01M436.1 482.2h.01M423.3 491.5h.01M432.6 506.1h.01M431.7 497.6h.01M429.9 489.4h.01M419.2 491.3h.01M426.0 508.8h.01M427.2 512.5h.01M442.9 505.1h.01M426.2 504.6h.01M435.2 495.9h.01M424.5 499.1h.01M420.7 524.7h.01M423.1 478.9h.01M435.4 512.0h.01M421.8 514.8h.01M435.9 507.1h.01M428.3 472.7h.01M438.4 499.2h.01M440.5 494.1h.01M433.5 492.8h.01M427.6 497.6h.01M433.6 497.8h.01M422.1 531.7h.01M428.5 502.3h.01M430.9 494.5h.01M438.9 489.9h.01M433.8 518.2h.01M439.9 487.6h.01M442.0 510.4h.01M433.4 512.4h.01M430.3 492.1h.01M423.8 501.9h.01M431.8 480.9h.01M444.4 501.6h.01M433.3 508.0h.01M442.8 488.5h.01M431.3 513.0h.01M420.7 503.7h.01M419.7 484.1h.01M431.5 475.7h.01M426.2 500.3h.01M425.4 492.8h.01M431.1 487.0h.01M435.9 487.8h.01M424.2 487.5h.01M427.6 521.5h.01M423.9 501.3h.01M434.4 504.5h.01M429.3 520.4h.01M435.2 502.3h.01M439.8 517.6h.01M423.4 494.1h.01M424.4 513.7h.01M426.0 506.5h.01M443.2 519.6h.01M439.3 486.0h.01M421.3 503.3h.01M420.0 485.0h.01M440.8 489.0h.01M426.1 490.5h.01M418.9 477.7h.01M423.8 473.3h.01M434.1 505.8h.01M432.4 505.1h.01M419.1 491.0h.01M428.1 500.9h.01M421.1 522.4h.01M422.7 486.3h.01M431.3 509.1h.01M431.9 514.9h.01M422.3 486.5h.01M431.6 505.6h.01M436.9 485.9h.01M435.0 497.1h.01M432.1 497.5h.01M428.8 522.9h.01M438.2 488.1h.01M429.4 501.7h.01M431.8 497.5h.01M421.3 503.6h.01M428.0 482.7h.01M442.7 500.6h.01M426.4 508.6h.01M442.0 500.0h.01M439.0 506.0h.01M424.0 502.8h.01M424.2 475.4h.01M441.0 499.1h.01M443.2 509.7h.01M437.5 497.6h.01M429.0 526.6h.01M424.0 477.7h.01M437.3 471.6h.01M426.0 491.7h.01M424.6 505.7h.01M439.4 490.6h.01M439.1 491.8h.01M418.7 517.7h.01M433.4 502.3h.01M436.1 525.4h.01M439.8 512.4h.01M437.7 473.8h.01M433.2 500.7h.01M422.8 484.0h.01M442.0 479.1h.01M430.0 485.4h.01M443.7 502.8h.01M421.0 495.7h.01M432.8 509.5h.01M431.7 484.3h.01M433.5 518.6h.01M420.8 512.9h.01M432.3 497.8h.01M422.8 500.5h.01M432.8 492.4h.01M433.0 474.3h.01M444.0 495.8h.01M437.1 501.2h.01M423.9 504.5h.01M423.1 498.2h.01M437.0 492.4h.01M442.4 485.4h.01M443.1 513.8h.01M432.6 514.6h.01M420.4 492.0h.01M438.5 495.3h.01M426.4 514.2h.01M424.1 515.6h.01M441.3 494.9h.01M442.5 468.5h.01M424.0 496.3h.01M423.9 514.1h.01M441.8 501.4h.01M422.8 514.0h.01M420.0 488.6h.01M421.2 500.1h.01M439.0 499.5h.01M432.2 470.6h.01M420.3 478.1h.01M424.3 491.7h.01M442.6 499.1h.01M435.2 491.8h.01M431.5 475.4h.01M437.2 512.1h.01M420.0 506.0h.01M443.4 501.7h.01M426.3 478.9h.01M438.6 518.6h.01M426.8 501.5h.01M431.8 496.7h.01M421.6 491.6h.01M435.6 494.2h.01M430.1 479.8h.01M435.3 484.3h.01M423.6 504.5h.01M442.9 492.6h.01M425.7 483.2h.01M418.4 514.3h.01M425.5 476.7h.01M438.0 504.9h.01M436.1 493.7h.01M421.5 478.4h.01M435.2 492.0h.01M436.3 512.8h.01M419.4 517.9h.01M432.4 497.7h.01M427.2 494.5h.01M435.3 493.8h.01M436.0 511.0h.01M438.3 508.2h.01M441.4 498.3h.01M440.1 486.6h.01M427.2 506.9h.01M441.3 495.9h.01M432.0 490.0h.01M418.8 507.1h.01M435.1 487.5h.01M437.2 508.2h.01M423.1 498.6h.01M435.0 501.1h.01M426.3 494.9h.01M429.3 487.7h.01M433.3 499.2h.01M439.5 508.4h.01M418.3 509.9h.01M425.3 478.8h.01M431.2 509.6h.01M437.1 500.0h.01M422.7 491.6h.01M437.2 506.8h.01M429.3 510.9h.01M431.0 510.5h.01M438.1 490.2h.01M438.9 509.8h.01M419.2 487.3h.01M418.2 496.3h.01M440.9 502.8h.01M436.1 492.9h.01M423.7 504.3h.01M428.3 504.7h.01M436.8 497.5h.01M443.5 501.1h.01M440.7 489.5h.01M443.2 471.8h.01M422.9 516.0h.01M431.3 494.1h.01M443.6 511.7h.01M422.7 496.4h.01M428.6 486.2h.01M424.1 502.8h.01M442.8 515.9h.01M424.4 508.7h.01M442.6 497.4h.01M420.6 491.1h.01M418.3 502.3h.01M430.9 481.2h.01M427.3 512.0h.01M429.9 508.4h.01M419.1 484.4h.01M424.7 499.3h.01M427.7 494.3h.01M424.2 508.8h.01M437.2 510.2h.01M426.1 505.9h.01M439.3 498.1h.01M422.0 512.8h.01M441.6 502.7h.01M441.1 517.0h.01M427.5 497.4h.01M424.7 516.2h.01M424.1 495.9h.01M436.2 496.9h.01M431.8 497.1h.01M426.7 475.0h.01M421.6 503.0h.01M436.5 488.6h.01M436.8 492.5h.01M425.4 497.0h.01M429.8 504.8h.01M420.2 492.5h.01M421.4 510.5h.01M422.8 493.5h.01M440.4 482.7h.01M439.2 495.2h.01M423.3 508.7h.01M437.7 503.9h.01M434.6 500.6h.01M442.9 493.1h.01M431.2 503.2h.01M439.0 490.6h.01M428.4 489.1h.01M427.2 513.3h.01M444.0 526.6h.01M438.4 494.6h.01M442.3 505.1h.01M426.1 514.1h.01M433.1 510.3h.01M418.3 492.1h.01M422.4 514.8h.01M419.2 488.1h.01M431.2 509.2h.01M436.1 498.9h.01M423.2 487.1h.01M442.6 502.3h.01M436.4 501.0h.01M427.2 503.8h.01M433.6 495.2h.01M431.8 515.8h.01M418.3 520.1h.01M441.9 493.4h.01M442.6 495.1h.01M425.4 485.7h.01M423.1 476.1h.01M424.5 474.7h.01M439.8 503.4h.01M431.1 491.1h.01M419.0 497.7h.01M425.6 501.9h.01M420.4 489.6h.01M428.5 502.4h.01M423.8 502.9h.01M432.2 507.2h.01M436.0 503.0h.01M422.9 483.8h.01M438.6 495.9h.01M437.4 508.5h.01M423.8 484.3h.01M433.4 483.4h.01M433.8 509.8h.01M442.5 482.1h.01M433.2 494.8h.01M431.6 502.8h.01M419.1 482.8h.01M434.3 505.9h.01M425.4 512.2h.01M433.5 518.9h.01M434.7 518.9h.01M434.2 517.0h.01M443.4 509.2h.01M429.5 500.4h.01M426.1 505.4h.01M430.7 511.5h.01M442.6 500.4h.01M442.1 499.1h.01M427.9 507.0h.01M420.8 495.7h.01M431.6 508.2h.01M440.1 501.4h.01M433.6 500.1h.01M444.3 504.4h.01M436.3 485.5h.01M425.3 495.6h.01M425.2 491.2h.01M424.7 486.6h.01M426.3 489.9h.01M442.6 481.1h.01M426.0 492.2h.01M426.4 527.5h.01M436.4 505.8h.01M430.1 494.5h.01M434.3 505.8h.01M429.9 493.0h.01M419.3 488.2h.01M442.7 514.6h.01M441.7 498.4h.01M436.7 511.4h.01M441.3 496.2h.01M436.7 507.6h.01M430.7 503.6h.01M433.7 505.5h.01M430.9 508.6h.01M428.3 489.9h.01M436.7 516.1h.01M435.0 492.3h.01M422.6 531.1h.01M418.6 484.3h.01M442.9 500.3h.01M421.7 510.2h.01M419.3 505.6h.01M427.2 520.1h.01M428.2 514.3h.01M429.2 494.3h.01M427.0 532.0h.01M439.5 508.1h.01M429.7 525.4h.01M430.7 523.2h.01M443.1 493.7h.01M422.6 501.2h.01M443.4 520.3h.01M442.2 505.9h.01M442.5 504.5h.01M422.6 472.2h.01M429.3 478.1h.01M420.9 517.5h.01M436.7 490.8h.01M418.8 493.2h.01M438.8 511.8h.01M426.0 498.2h.01M430.2 490.0h.01M442.6 513.9h.01M421.6 494.6h.01M435.4 485.7h.01M443.7 500.7h.01M434.8 501.6h.01M444.2 533.5h.01M435.1 505.5h.01M431.0 509.1h.01M426.6 505.0h.01M430.2 525.5h.01M432.5 485.9h.01M441.2 497.8h.01M438.0 501.5h.01M432.2 495.3h.01M435.9 505.7h.01M444.4 485.1h.01M437.2 493.1h.01M426.6 510.1h.01M436.5 501.4h.01M439.1 492.2h.01M437.1 494.1h.01M439.1 495.5h.01M443.5 509.0h.01M428.3 487.1h.01M436.9 488.4h.01M420.1 504.3h.01M440.4 516.1h.01M430.8 508.8h.01M441.8 501.3h.01M432.6 512.2h.01M425.6 510.3h.01M443.4 497.8h.01M423.5 491.5h.01M428.4 503.2h.01M435.4 503.3h.01M439.2 502.8h.01M434.1 499.9h.01M442.6 512.3h.01M434.9 489.5h.01M436.3 504.9h.01M442.5 496.2h.01M432.2 494.0h.01M435.2 498.6h.01M438.4 497.2h.01M418.7 516.1h.01M444.0 515.0h.01M427.5 511.9h.01M421.5 485.3h.01M440.2 501.8h.01M423.6 488.7h.01M421.6 511.4h.01M425.2 524.5h.01M435.5 512.7h.01M429.6 502.3h.01M436.8 510.8h.01M420.4 489.6h.01M428.6 514.8h.01M436.4 503.0h.01M419.9 497.0h.01M421.7 486.0h.01M432.7 496.1h.01M431.4 485.0h.01M420.9 505.5h.01M431.4 500.4h.01M440.9 500.4h.01M439.7 505.2h.01M433.7 495.0h.01M434.4 496.7h.01M426.9 489.0h.01M438.1 479.7h.01M428.0 528.6h.01M424.4 518.3h.01M431.5 466.1h.01M423.2 514.7h.01M440.5 531.5h.01M421.8 516.2h.01M421.6 514.2h.01M443.7 505.2h.01M440.5 500.0h.01M435.9 512.4h.01M422.8 493.5h.01M436.9 498.4h.01M440.1 528.7h.01M441.4 496.6h.01M431.9 522.5h.01M419.8 511.0h.01M439.2 509.4h.01M436.1 494.6h.01M429.8 480.3h.01M420.7 502.9h.01M438.9 499.1h.01M436.3 490.0h.01M425.2 498.5h.01M432.1 520.3h.01M427.7 439.7h.01M423.2 452.5h.01M421.2 456.0h.01M419.2 459.0h.01M442.2 456.0h.01M437.2 459.0h.01M422.2 461.0h.01M427.2 542.0h.01M435.2 543.5h.01M444.2 541.0h.01M419.2 533.0h.01M424.2 537.0h.01M421.2 528.0h.01M434.2 531.0h.01M438.2 535.0h.01"/>
<g stroke="#ecb655" stroke-width="1" fill="none">
<rect x="472.80" y="492.40" width="56.00" height="20.10"/>
<path d="M486.80 464.00H514.80M486.80 541.80H514.80"/>
<path d="M500.80 464.00V492.40M500.80 512.50V541.80" stroke-dasharray="3 1.2"/>
</g>
<path d="M472.80 503.50H528.80" stroke="#e6a023" stroke-width="1.8"/>
<path stroke="#e6a023" stroke-width="3.8" stroke-linecap="round" fill="none" d="M512.0 517.5h.01M490.6 517.7h.01M494.5 516.5h.01M501.2 493.7h.01M513.5 508.2h.01M497.9 518.2h.01M495.7 486.0h.01M493.3 508.6h.01M512.4 505.6h.01M507.1 474.3h.01M501.9 506.2h.01M509.0 505.2h.01M490.2 506.8h.01M489.7 515.6h.01M508.9 500.0h.01M497.0 516.0h.01M513.4 509.4h.01M505.8 501.2h.01M491.2 522.7h.01M502.6 500.6h.01M500.8 503.0h.01M507.3 525.6h.01M490.1 485.8h.01M500.0 537.5h.01M496.5 519.2h.01M501.0 495.3h.01M506.7 498.3h.01M489.0 507.5h.01M498.2 511.7h.01M510.2 514.8h.01M498.0 490.4h.01M498.2 468.2h.01M487.7 506.4h.01M495.7 524.6h.01M499.8 501.7h.01M488.4 499.3h.01M491.4 496.0h.01M502.4 493.2h.01M495.9 485.8h.01M497.1 522.4h.01M494.2 518.2h.01M489.0 518.1h.01M495.1 499.7h.01M500.7 507.6h.01M497.1 513.6h.01M507.1 486.1h.01M490.8 510.4h.01M511.5 489.5h.01M503.4 517.1h.01M497.3 505.2h.01M493.4 485.5h.01M501.2 512.9h.01M509.5 501.1h.01M501.2 497.5h.01M503.3 510.1h.01M497.9 504.8h.01M499.6 487.8h.01M506.0 512.9h.01M508.7 501.3h.01M508.0 495.9h.01M496.2 509.0h.01M502.7 507.7h.01M511.1 529.9h.01M503.8 506.9h.01M490.3 515.4h.01M492.4 515.8h.01M511.6 495.2h.01M502.7 493.7h.01M500.6 497.8h.01M492.6 497.8h.01M492.4 493.9h.01M492.5 520.7h.01M495.0 517.1h.01M501.3 491.8h.01M505.5 514.3h.01M494.5 471.5h.01M508.6 497.4h.01M513.1 496.0h.01M500.6 494.3h.01M508.4 488.3h.01M513.8 487.6h.01M494.3 500.5h.01M487.9 511.6h.01M504.7 514.8h.01M495.2 471.8h.01M506.5 486.3h.01M507.4 509.8h.01M500.1 507.9h.01M500.8 513.3h.01M489.6 495.3h.01M489.9 518.9h.01M501.3 497.3h.01M490.6 497.2h.01M511.8 512.8h.01M505.5 495.1h.01M495.0 511.5h.01M491.4 483.4h.01M509.9 506.2h.01M502.8 490.0h.01M510.9 506.4h.01M513.8 488.8h.01M510.7 497.0h.01M490.0 488.1h.01M509.9 511.2h.01M493.1 508.2h.01M501.4 506.4h.01M492.5 505.6h.01M496.0 513.7h.01M513.5 491.0h.01M498.3 493.1h.01M513.0 501.3h.01M511.2 515.3h.01M512.4 518.7h.01M505.6 482.8h.01M506.7 491.0h.01M504.4 504.7h.01M511.3 500.6h.01M498.9 509.5h.01M506.2 503.3h.01M491.9 496.3h.01M511.9 508.4h.01M493.0 507.2h.01M489.8 489.5h.01M489.5 500.0h.01M500.8 517.4h.01M510.1 491.1h.01M506.3 508.9h.01M489.9 492.2h.01M497.1 482.6h.01M502.7 492.3h.01M509.1 506.5h.01M495.6 511.3h.01M491.4 501.2h.01M495.3 489.8h.01M506.8 503.5h.01M503.4 517.8h.01M496.3 507.5h.01M508.3 522.7h.01M503.3 502.5h.01M512.8 496.5h.01M491.1 491.8h.01M491.0 518.7h.01M499.4 506.1h.01M513.7 517.6h.01M489.0 500.7h.01M507.4 500.8h.01M487.8 505.5h.01M513.8 500.3h.01M497.9 490.4h.01M506.2 506.6h.01M508.6 513.2h.01M488.0 506.6h.01M508.6 508.7h.01M488.8 512.7h.01M490.5 494.9h.01M511.2 501.7h.01M506.7 518.3h.01M504.3 514.1h.01M490.8 518.6h.01M512.2 485.4h.01M489.3 513.5h.01M500.5 491.1h.01M498.0 485.2h.01M503.2 494.0h.01M492.1 491.1h.01M501.3 515.1h.01M513.9 496.3h.01M503.5 492.1h.01M498.8 501.2h.01M503.9 495.3h.01M488.9 513.9h.01M511.5 502.8h.01M506.7 516.0h.01M491.2 519.1h.01M494.6 503.6h.01M498.0 505.0h.01M501.4 516.9h.01M501.5 504.1h.01M498.5 487.1h.01M505.6 496.2h.01M506.4 511.7h.01M491.2 497.1h.01M502.3 472.4h.01M503.0 484.5h.01M499.3 484.0h.01M507.8 513.4h.01M490.1 511.8h.01M492.2 520.2h.01M491.4 511.6h.01M508.2 497.1h.01M489.5 519.9h.01M496.7 489.3h.01M497.6 518.6h.01M504.7 495.3h.01M505.8 484.0h.01M503.3 503.7h.01M513.9 484.0h.01M507.5 504.4h.01M495.2 483.3h.01M501.3 489.6h.01M493.2 520.3h.01M490.4 511.9h.01M500.7 489.4h.01M511.9 496.7h.01M488.9 509.6h.01M497.5 506.8h.01M511.2 510.6h.01M512.8 491.7h.01M509.3 528.4h.01M496.8 497.3h.01M496.8 524.9h.01M504.0 510.4h.01M489.8 488.1h.01M513.0 485.5h.01M490.9 510.2h.01M490.2 506.6h.01M506.3 506.3h.01M490.4 517.4h.01M511.6 494.4h.01M501.7 502.2h.01M489.6 498.3h.01M491.4 470.2h.01M495.7 487.1h.01M513.5 500.8h.01M509.5 489.9h.01M502.2 520.1h.01M489.0 507.8h.01M513.2 510.5h.01M503.8 485.3h.01M509.2 516.0h.01M497.7 509.6h.01M494.2 510.5h.01M507.5 507.6h.01M503.3 465.6h.01M489.9 501.4h.01M489.8 492.0h.01M510.4 494.3h.01M512.2 506.9h.01M507.8 507.6h.01M502.3 507.1h.01M496.1 493.4h.01M499.3 486.4h.01M508.2 489.3h.01M492.5 514.6h.01M489.5 476.9h.01M496.6 503.5h.01M509.2 500.0h.01M512.2 503.9h.01M497.8 520.9h.01M506.2 496.2h.01M510.0 495.6h.01M501.9 478.6h.01M508.4 483.8h.01M490.0 515.5h.01M495.2 486.8h.01M500.9 478.2h.01M494.6 529.1h.01M496.2 498.4h.01M510.6 478.5h.01M491.4 521.6h.01M503.9 486.5h.01M505.7 493.4h.01M506.7 480.3h.01M497.8 493.9h.01M490.7 508.8h.01M500.3 528.3h.01M508.9 526.6h.01M511.6 506.0h.01M511.9 507.6h.01M492.2 500.9h.01M490.2 491.7h.01M509.7 510.6h.01M502.8 510.8h.01M504.6 503.8h.01M513.7 484.5h.01M500.2 479.2h.01M513.7 500.8h.01M487.7 513.4h.01M513.5 503.0h.01M489.9 513.3h.01M512.8 487.5h.01M490.2 467.3h.01M508.7 503.2h.01M501.9 517.9h.01M513.4 506.7h.01M500.5 504.8h.01M508.6 511.6h.01M507.7 501.3h.01M487.9 497.9h.01M494.6 490.0h.01M490.5 467.0h.01M506.3 495.3h.01M508.0 522.3h.01M494.6 486.8h.01M494.2 506.2h.01M513.8 503.1h.01M496.4 509.4h.01M495.1 515.3h.01M503.8 511.1h.01M496.3 499.1h.01M502.8 512.3h.01M503.5 503.7h.01M489.7 507.5h.01M513.3 505.6h.01M509.4 503.4h.01M500.6 512.3h.01M506.4 501.2h.01M508.1 489.4h.01M497.8 505.1h.01M491.0 536.1h.01M506.0 487.5h.01M506.8 513.2h.01M502.2 506.7h.01M497.6 513.7h.01M496.4 490.4h.01M493.8 510.2h.01M489.0 511.8h.01M488.7 485.6h.01M488.6 513.0h.01M492.7 481.5h.01M488.2 510.3h.01M508.9 501.6h.01M509.5 507.7h.01M512.3 500.4h.01M504.6 502.3h.01M507.8 512.1h.01M511.6 509.2h.01M503.3 494.8h.01M509.5 514.8h.01M508.1 503.8h.01M490.2 522.8h.01M491.8 495.2h.01M506.2 492.5h.01M492.1 494.8h.01M507.0 490.8h.01M504.0 494.2h.01M495.1 518.4h.01M495.2 489.0h.01M490.7 497.0h.01M487.7 518.7h.01M492.8 509.4h.01M487.7 500.5h.01M498.3 517.1h.01M488.2 487.8h.01M490.7 468.7h.01M513.0 501.0h.01M495.1 505.4h.01M493.9 523.5h.01M506.9 506.2h.01M488.2 518.4h.01M500.5 510.1h.01M508.3 489.5h.01M497.8 486.4h.01M512.8 513.8h.01M501.3 507.8h.01M496.6 482.6h.01M513.2 493.7h.01M501.9 482.6h.01M507.1 499.3h.01M513.1 499.2h.01M493.5 514.7h.01M491.5 513.1h.01M488.6 499.2h.01M511.5 487.5h.01M513.0 514.5h.01M488.8 509.8h.01M497.3 510.3h.01M495.1 530.3h.01M506.8 507.7h.01M490.9 499.7h.01M513.6 524.8h.01M490.2 516.2h.01M495.4 511.8h.01M492.8 493.8h.01M501.7 507.2h.01M498.7 514.6h.01M503.7 525.0h.01M502.2 499.4h.01M511.5 498.2h.01M500.2 497.7h.01M489.7 513.5h.01M510.7 487.4h.01M505.2 507.0h.01M493.2 512.0h.01M512.9 492.8h.01M498.4 519.5h.01M508.4 485.6h.01M505.3 493.6h.01M490.8 481.5h.01M512.3 511.8h.01M513.7 510.2h.01M492.1 484.5h.01M500.1 468.5h.01M488.5 497.9h.01M490.5 500.1h.01M491.9 499.1h.01M513.6 517.9h.01M489.8 514.9h.01M496.2 516.6h.01M496.0 514.0h.01M505.3 495.7h.01M496.5 505.5h.01M491.7 498.3h.01M510.5 499.7h.01M496.1 525.6h.01M490.6 497.4h.01M494.8 507.0h.01M496.1 504.9h.01M510.3 508.4h.01M496.7 515.4h.01M498.0 505.7h.01M496.0 492.0h.01M505.2 509.1h.01M492.3 495.7h.01M490.6 506.8h.01M512.6 504.7h.01M496.1 508.7h.01M495.4 498.7h.01M496.9 480.9h.01M500.0 510.0h.01M501.9 481.2h.01M493.7 493.9h.01M502.9 467.1h.01M492.5 491.0h.01M500.9 512.1h.01M508.5 489.0h.01M494.4 511.2h.01M507.1 499.4h.01M494.5 487.4h.01M503.2 493.6h.01M499.0 528.1h.01M493.8 503.1h.01M496.5 503.1h.01M512.1 509.9h.01M513.7 492.4h.01M511.7 467.6h.01M513.4 509.2h.01M509.2 506.3h.01M510.3 495.5h.01M496.2 511.3h.01M511.9 521.3h.01M498.2 506.8h.01M503.1 511.0h.01M500.3 504.8h.01M513.8 505.0h.01M513.3 492.4h.01M508.8 502.1h.01M491.1 506.1h.01M489.1 506.7h.01M502.8 518.7h.01M508.4 508.4h.01M504.2 494.6h.01M496.9 495.7h.01M512.4 492.6h.01M508.7 517.1h.01M490.5 482.1h.01M498.6 486.5h.01M509.3 495.3h.01M504.4 503.1h.01M512.4 472.4h.01M513.1 478.6h.01M513.7 508.4h.01M498.6 500.1h.01M489.1 501.8h.01M488.3 490.0h.01M512.9 518.7h.01M502.3 510.2h.01M499.9 513.1h.01M511.4 504.9h.01M503.7 520.5h.01M501.3 469.3h.01M509.8 488.1h.01M512.6 512.6h.01M510.7 514.9h.01M513.3 491.6h.01M503.1 496.0h.01M501.6 497.1h.01M501.1 475.8h.01M502.1 489.3h.01M490.8 479.8h.01M504.5 491.4h.01M488.6 497.4h.01M491.2 508.3h.01M508.3 502.9h.01M501.7 506.0h.01M491.8 516.6h.01M487.8 510.4h.01M490.9 507.4h.01M508.3 519.8h.01M510.7 513.3h.01M505.4 497.9h.01M508.9 507.5h.01M494.2 517.4h.01M487.7 495.4h.01M507.2 505.2h.01M490.8 494.3h.01M489.3 512.1h.01M511.9 488.1h.01M490.8 507.9h.01M503.2 500.6h.01M500.8 423.5h.01M489.8 452.0h.01M505.8 452.0h.01M512.3 453.0h.01M492.8 456.0h.01M498.8 459.0h.01M506.8 458.0h.01M494.8 542.3h.01M509.8 541.5h.01M487.8 528.0h.01M489.8 536.0h.01M507.8 533.0h.01M512.8 534.0h.01M503.8 538.0h.01"/>
<g stroke="#e748e7" stroke-width="1" fill="none">
<rect x="542.60" y="496.70" width="56.00" height="22.30"/>
<path d="M556.60 472.40H584.60M556.60 536.50H584.60"/>
<path d="M570.60 472.40V496.70M570.60 519.00V536.50" stroke-dasharray="3 1.2"/>
</g>
<path d="M542.60 509.00H598.60" stroke="#e012e0" stroke-width="1.8"/>
<path stroke="#e012e0" stroke-width="3.8" stroke-linecap="round" fill="none" d="M560.4 503.3h.01M559.1 517.9h.01M572.0 515.4h.01M566.0 519.0h.01M568.9 500.4h.01M569.3 528.9h.01M562.4 508.9h.01M574.5 507.1h.01M563.6 492.9h.01M580.4 524.5h.01M562.4 487.2h.01M570.4 523.5h.01M562.6 512.5h.01M568.6 522.3h.01M570.2 500.3h.01M557.9 502.7h.01M565.5 487.1h.01M580.8 519.6h.01M571.8 528.0h.01M581.1 501.1h.01M560.9 478.3h.01M562.4 501.7h.01M582.5 517.6h.01M581.2 530.9h.01M567.5 492.3h.01M566.0 498.9h.01M579.8 482.7h.01M560.3 525.8h.01M564.1 503.8h.01M577.2 521.5h.01M568.5 514.7h.01M559.8 526.6h.01M567.7 534.0h.01M561.6 498.3h.01M583.2 518.1h.01M562.5 518.9h.01M572.3 497.3h.01M565.0 503.3h.01M581.1 518.7h.01M570.8 508.6h.01M558.4 511.8h.01M574.1 513.9h.01M567.3 511.0h.01M582.8 503.7h.01M570.0 509.8h.01M561.3 508.9h.01M565.4 508.9h.01M581.9 507.0h.01M571.9 512.4h.01M564.0 494.6h.01M578.1 472.3h.01M560.1 484.3h.01M576.6 483.0h.01M580.6 489.0h.01M557.6 536.7h.01M563.6 535.0h.01M571.6 533.0h.01M583.6 534.0h.01M578.6 527.0h.01M561.6 527.0h.01"/>
<g stroke="#606060" stroke-width="1.25" fill="none">
<path d="M688.50 411.50V547.20"/>
<path d="M688.50 547.20H897.30"/>
<path d="M682.10 425.50H688.50"/>
<path d="M682.10 440.70H688.50"/>
<path d="M682.10 455.90H688.50"/>
<path d="M682.10 471.10H688.50"/>
<path d="M682.10 486.30H688.50"/>
<path d="M682.10 501.50H688.50"/>
<path d="M682.10 516.70H688.50"/>
<path d="M682.10 531.90H688.50"/>
<path d="M682.10 547.10H688.50"/>
<path d="M722.90 547.20V553.20"/>
<path d="M792.70 547.20V553.20"/>
<path d="M862.40 547.20V553.20"/>
</g>
<g font-size="10.8" fill="#1a1a1a" text-anchor="end">
<text transform="translate(675.60 429.35) scale(.905 1)">10.2</text>
<text transform="translate(675.60 444.55) scale(.905 1)">9.2</text>
<text transform="translate(675.60 459.75) scale(.905 1)">8.2</text>
<text transform="translate(675.60 474.95) scale(.905 1)">7.2</text>
<text transform="translate(675.60 490.15) scale(.905 1)">6.2</text>
<text transform="translate(675.60 505.35) scale(.905 1)">5.2</text>
<text transform="translate(675.60 520.55) scale(.905 1)">4.2</text>
<text transform="translate(675.60 535.75) scale(.905 1)">3.2</text>
<text transform="translate(675.60 550.95) scale(.905 1)">2.2</text>
</g>
<g font-size="12.5" fill="#1a1a1a" text-anchor="middle">
<text transform="translate(722.90 568.65) scale(.96 1)">GG</text>
<text transform="translate(792.70 568.65) scale(.96 1)">GA</text>
<text transform="translate(862.40 568.65) scale(.96 1)">AA</text>
</g>
<text transform="translate(640.90 481.90) rotate(-90) scale(.94 1)" font-size="15.4" fill="#1a1a1a" text-anchor="middle">STAMBP</text>
<text x="795.50" y="401.80" font-size="11.55" fill="#1a1a1a" text-anchor="middle"><tspan font-style="italic">P</tspan> = 7 × 10<tspan dy="-3.8" font-size="6.8">−4</tspan></text>
<text x="792.30" y="589.80" font-size="14" fill="#1a1a1a" text-anchor="middle">MICB genotype</text>
<g stroke="#8fa9ee" stroke-width="1" fill="none">
<rect x="694.90" y="484.20" width="56.00" height="20.00"/>
<path d="M708.90 454.10H736.90M708.90 533.20H736.90"/>
<path d="M722.90 454.10V484.20M722.90 504.20V533.20" stroke-dasharray="3 1.2"/>
</g>
<path d="M694.90 495.30H750.90" stroke="#6b8fe8" stroke-width="1.8"/>
<path stroke="#6b8fe8" stroke-width="3.8" stroke-linecap="round" fill="none" d="M722.4 498.3h.01M731.1 472.6h.01M727.7 508.8h.01M721.7 490.7h.01M723.9 497.4h.01M735.0 496.8h.01M729.9 483.9h.01M714.7 492.5h.01M720.7 497.3h.01M711.4 503.5h.01M735.6 501.0h.01M712.4 506.9h.01M734.9 502.9h.01M720.4 493.3h.01M718.8 491.2h.01M714.1 490.8h.01M722.5 506.1h.01M716.4 484.0h.01M736.1 497.1h.01M732.5 484.0h.01M717.8 502.6h.01M734.3 472.7h.01M716.2 508.3h.01M718.5 488.0h.01M728.9 478.4h.01M718.3 501.3h.01M729.8 485.5h.01M711.6 482.7h.01M735.3 474.2h.01M726.1 500.9h.01M710.5 472.2h.01M723.3 489.2h.01M720.2 495.4h.01M733.7 505.7h.01M711.1 506.6h.01M733.9 479.9h.01M725.4 497.9h.01M727.8 487.8h.01M719.8 480.8h.01M730.5 481.6h.01M715.1 502.6h.01M725.1 491.4h.01M726.7 496.8h.01M718.1 495.5h.01M726.4 489.4h.01M710.1 508.1h.01M724.0 477.2h.01M735.1 498.0h.01M734.5 466.3h.01M712.6 487.0h.01M728.2 491.0h.01M735.2 500.9h.01M731.3 504.0h.01M731.5 498.0h.01M718.0 497.7h.01M727.9 498.8h.01M723.2 504.7h.01M711.4 496.6h.01M735.8 499.5h.01M712.5 503.6h.01M724.0 504.6h.01M734.4 496.7h.01M725.8 503.2h.01M714.2 464.5h.01M728.2 480.9h.01M723.7 513.8h.01M717.8 494.1h.01M733.6 490.0h.01M714.8 489.4h.01M721.4 490.1h.01M722.3 494.5h.01M710.9 493.8h.01M731.4 523.2h.01M724.6 501.2h.01M733.9 502.7h.01M724.8 497.2h.01M716.4 497.6h.01M714.8 495.3h.01M715.7 494.3h.01M726.0 490.8h.01M710.6 500.4h.01M730.4 482.6h.01M718.0 502.8h.01M711.7 478.7h.01M730.9 499.0h.01M713.4 507.4h.01M714.5 502.5h.01M721.4 479.2h.01M724.5 496.5h.01M723.6 488.5h.01M730.6 488.7h.01M711.9 475.6h.01M723.0 486.6h.01M734.6 498.7h.01M714.3 504.8h.01M710.0 495.6h.01M735.1 498.2h.01M713.9 492.5h.01M733.2 514.1h.01M720.0 493.8h.01M710.5 473.0h.01M729.3 506.6h.01M735.9 499.7h.01M734.5 476.5h.01M730.3 497.2h.01M729.3 511.6h.01M717.2 521.8h.01M733.0 481.4h.01M729.1 491.4h.01M717.7 512.6h.01M732.3 507.1h.01M713.4 500.2h.01M719.2 481.8h.01M728.3 502.9h.01M733.5 503.0h.01M717.4 513.4h.01M711.4 496.5h.01M711.0 476.7h.01M725.0 490.9h.01M731.8 467.0h.01M732.2 493.7h.01M710.7 499.0h.01M717.6 499.0h.01M717.5 495.9h.01M719.8 508.5h.01M724.0 491.6h.01M714.2 495.6h.01M719.7 520.7h.01M734.0 485.0h.01M718.9 475.6h.01M730.8 499.6h.01M712.2 501.4h.01M717.0 502.3h.01M715.1 475.1h.01M720.9 520.0h.01M717.4 498.7h.01M722.8 501.5h.01M734.0 502.4h.01M725.1 494.3h.01M732.7 484.8h.01M710.1 504.7h.01M723.5 471.1h.01M718.1 494.0h.01M719.3 491.9h.01M735.0 516.6h.01M712.9 498.3h.01M718.9 481.0h.01M719.0 485.4h.01M721.7 505.7h.01M717.8 484.1h.01M722.0 485.4h.01M722.1 503.1h.01M711.2 516.0h.01M732.0 496.5h.01M725.7 492.5h.01M719.0 483.2h.01M730.7 479.0h.01M723.6 504.6h.01M718.4 495.1h.01M719.9 506.8h.01M735.5 511.7h.01M712.3 480.0h.01M736.0 461.0h.01M736.0 498.9h.01M730.2 481.9h.01M727.1 466.2h.01M735.1 480.4h.01M712.9 508.1h.01M714.5 489.6h.01M730.2 483.4h.01M731.2 478.4h.01M712.4 526.6h.01M712.8 493.4h.01M712.9 493.3h.01M728.6 510.8h.01M735.6 496.6h.01M711.2 506.2h.01M723.8 475.8h.01M727.6 487.0h.01M733.6 511.2h.01M729.8 460.2h.01M730.5 492.6h.01M731.6 491.4h.01M714.5 502.8h.01M731.1 510.6h.01M712.2 492.6h.01M711.6 504.8h.01M729.5 470.9h.01M713.6 482.9h.01M730.9 511.6h.01M718.1 483.1h.01M710.7 508.2h.01M727.2 506.5h.01M713.8 488.8h.01M713.8 491.8h.01M710.4 492.5h.01M725.5 497.6h.01M720.9 492.0h.01M714.2 506.4h.01M731.2 509.7h.01M725.1 511.9h.01M725.6 479.3h.01M712.0 483.1h.01M720.2 482.4h.01M722.5 502.1h.01M725.9 482.1h.01M710.8 502.9h.01M719.0 501.3h.01M735.5 465.0h.01M729.0 477.8h.01M723.2 469.6h.01M735.7 497.5h.01M725.6 509.7h.01M712.1 494.4h.01M726.0 468.4h.01M726.7 508.0h.01M718.2 465.3h.01M733.2 480.7h.01M721.3 481.3h.01M726.0 501.8h.01M715.5 503.1h.01M726.7 477.9h.01M713.1 490.7h.01M733.0 492.3h.01M726.0 497.8h.01M720.0 506.0h.01M723.3 505.7h.01M733.2 491.7h.01M721.4 491.8h.01M715.0 497.4h.01M716.3 493.8h.01M727.7 500.8h.01M720.8 462.1h.01M713.4 507.9h.01M723.1 515.8h.01M724.5 500.5h.01M716.3 491.3h.01M713.5 493.5h.01M714.0 508.9h.01M722.6 493.6h.01M713.6 481.7h.01M731.0 505.8h.01M727.1 484.6h.01M735.1 492.1h.01M735.0 498.8h.01M731.0 510.2h.01M722.7 499.3h.01M728.3 491.2h.01M725.9 484.6h.01M721.5 493.4h.01M729.4 503.0h.01M735.8 488.7h.01M726.0 483.4h.01M720.7 475.6h.01M726.2 495.5h.01M724.2 490.2h.01M721.1 475.9h.01M726.1 503.4h.01M719.1 489.5h.01M718.9 501.1h.01M710.8 493.6h.01M728.7 497.2h.01M726.4 496.8h.01M733.3 460.1h.01M710.3 456.9h.01M726.0 494.4h.01M721.2 506.7h.01M723.5 495.2h.01M724.1 479.7h.01M724.3 503.5h.01M729.9 510.5h.01M721.6 516.1h.01M729.4 477.1h.01M727.5 491.9h.01M728.9 497.8h.01M722.2 496.7h.01M717.1 502.8h.01M710.2 508.2h.01M728.9 487.8h.01M730.7 498.1h.01M734.8 509.2h.01M716.4 494.6h.01M712.4 516.1h.01M729.2 469.9h.01M718.6 482.0h.01M718.0 496.7h.01M723.0 486.6h.01M711.0 487.7h.01M715.2 465.6h.01M734.7 485.3h.01M712.5 482.9h.01M729.8 490.3h.01M716.4 498.1h.01M713.5 505.5h.01M717.4 492.8h.01M720.5 504.1h.01M720.3 504.7h.01M719.7 480.8h.01M729.0 493.7h.01M709.9 488.8h.01M727.8 494.1h.01M712.6 490.2h.01M715.2 493.5h.01M718.1 477.1h.01M733.5 522.3h.01M726.5 491.6h.01M725.7 513.5h.01M733.0 482.7h.01M722.7 506.5h.01M713.9 496.7h.01M717.6 503.3h.01M713.1 491.0h.01M719.1 518.6h.01M732.0 482.2h.01M725.9 517.2h.01M711.3 509.0h.01M717.2 495.9h.01M714.8 514.4h.01M717.6 486.1h.01M720.6 503.0h.01M714.5 489.1h.01M727.0 486.6h.01M711.8 497.2h.01M712.3 501.4h.01M727.0 473.1h.01M727.3 495.7h.01M715.0 492.7h.01M716.6 490.9h.01M718.8 504.9h.01M729.6 485.8h.01M723.4 489.5h.01M722.3 489.4h.01M734.3 502.1h.01M710.3 476.1h.01M715.5 494.8h.01M721.4 485.7h.01M735.1 495.4h.01M724.6 499.3h.01M713.0 498.1h.01M721.4 506.8h.01M726.2 488.5h.01M728.0 504.0h.01M725.7 500.6h.01M717.9 476.0h.01M719.4 482.0h.01M731.7 494.6h.01M712.4 497.6h.01M717.5 507.7h.01M718.5 484.9h.01M723.0 511.6h.01M729.6 497.0h.01M713.6 468.3h.01M717.8 487.2h.01M713.9 505.5h.01M729.2 500.6h.01M731.3 497.7h.01M722.3 497.1h.01M734.8 471.0h.01M729.3 492.8h.01M733.2 470.3h.01M724.0 499.8h.01M717.2 509.0h.01M711.9 504.4h.01M717.9 493.7h.01M722.7 478.3h.01M721.2 492.6h.01M723.6 495.8h.01M719.6 465.6h.01M731.6 491.1h.01M715.4 499.4h.01M726.4 480.7h.01M721.5 491.2h.01M726.8 500.4h.01M729.8 470.3h.01M710.8 479.8h.01M727.6 494.3h.01M710.9 497.8h.01M714.8 518.3h.01M734.4 501.3h.01M718.2 500.0h.01M722.7 463.5h.01M712.3 483.9h.01M729.5 484.7h.01M732.5 512.2h.01M724.0 486.6h.01M728.3 513.4h.01M732.2 472.1h.01M710.2 484.9h.01M710.2 502.6h.01M727.3 497.6h.01M723.7 499.0h.01M733.8 484.7h.01M732.7 503.1h.01M723.2 498.4h.01M710.3 500.4h.01M735.3 490.1h.01M729.6 503.2h.01M713.2 488.8h.01M714.7 484.3h.01M715.1 483.7h.01M719.0 501.3h.01M715.6 498.1h.01M727.0 485.2h.01M732.1 490.8h.01M729.6 497.2h.01M725.1 507.7h.01M724.1 480.2h.01M712.2 498.4h.01M714.2 484.8h.01M723.2 483.6h.01M713.5 496.8h.01M712.4 502.2h.01M710.1 505.4h.01M734.0 485.4h.01M727.8 501.9h.01M726.8 506.6h.01M714.5 495.1h.01M714.5 492.3h.01M713.7 510.6h.01M725.7 483.6h.01M729.2 512.2h.01M723.6 498.5h.01M729.2 513.4h.01M718.9 505.1h.01M731.6 503.6h.01M720.7 505.7h.01M717.6 499.0h.01M719.0 492.1h.01M724.4 493.9h.01M714.3 470.3h.01M728.8 487.1h.01M724.0 494.1h.01M730.8 503.3h.01M719.3 489.1h.01M717.4 494.3h.01M720.6 504.6h.01M735.8 496.4h.01M732.9 512.7h.01M713.9 481.8h.01M731.4 507.4h.01M714.1 459.6h.01M711.2 506.3h.01M724.9 479.7h.01M725.4 496.9h.01M732.0 477.4h.01M722.2 484.0h.01M727.2 503.1h.01M715.7 480.9h.01M710.9 494.3h.01M718.2 477.6h.01M725.2 509.7h.01M713.3 500.9h.01M710.7 467.7h.01M733.6 504.0h.01M720.3 491.5h.01M722.5 491.3h.01M714.0 508.2h.01M729.3 476.0h.01M723.5 507.2h.01M713.4 487.7h.01M720.4 511.7h.01M712.9 496.4h.01M726.5 505.6h.01M718.2 487.6h.01M734.0 496.0h.01M734.6 485.7h.01M730.7 506.2h.01M710.7 494.6h.01M723.1 474.5h.01M709.8 487.5h.01M723.3 483.4h.01M722.0 466.3h.01M727.6 491.5h.01M733.7 510.4h.01M714.7 509.6h.01M717.3 500.5h.01M726.4 504.2h.01M731.6 489.3h.01M727.3 509.1h.01M725.6 483.9h.01M724.8 480.0h.01M721.4 468.8h.01M720.6 475.7h.01M728.4 492.8h.01M720.7 486.1h.01M715.2 510.0h.01M713.5 492.7h.01M716.8 498.6h.01M723.7 492.6h.01M720.2 507.4h.01M725.6 512.3h.01M725.1 524.3h.01M730.5 506.4h.01M713.8 503.2h.01M716.4 488.7h.01M735.2 486.6h.01M716.5 498.4h.01M717.9 480.6h.01M715.5 485.6h.01M731.6 486.9h.01M718.8 490.4h.01M725.8 483.2h.01M733.1 496.1h.01M723.4 488.5h.01M714.7 498.4h.01M719.6 484.8h.01M720.0 495.7h.01M715.9 516.1h.01M723.9 484.0h.01M728.6 492.1h.01M731.9 504.7h.01M720.5 459.2h.01M709.8 506.9h.01M729.3 512.2h.01M735.8 504.5h.01M733.7 485.0h.01M730.2 479.3h.01M729.4 512.4h.01M732.0 496.5h.01M725.3 493.1h.01M723.6 491.3h.01M729.6 498.3h.01M724.4 508.1h.01M721.1 499.8h.01M710.7 496.0h.01M729.8 499.6h.01M729.0 500.7h.01M732.2 495.6h.01M718.5 478.1h.01M733.8 485.1h.01M727.5 464.0h.01M715.0 510.3h.01M719.4 518.6h.01M720.7 476.0h.01M710.7 496.0h.01M718.5 476.4h.01M720.9 501.0h.01M731.1 484.6h.01M725.2 465.7h.01M728.5 500.7h.01M724.5 476.6h.01M725.1 495.9h.01M714.3 505.0h.01M719.8 493.9h.01M718.7 477.1h.01M728.0 489.9h.01M728.0 496.7h.01M729.3 499.1h.01M731.5 483.6h.01M727.2 489.3h.01M725.6 493.4h.01M728.9 493.9h.01M721.8 523.8h.01M726.5 511.0h.01M735.7 466.7h.01M726.1 478.0h.01M724.8 502.2h.01M721.1 500.8h.01M734.2 514.0h.01M719.9 483.7h.01M732.8 491.1h.01M721.6 479.2h.01M732.8 499.3h.01M715.2 508.5h.01M711.8 484.9h.01M724.4 503.7h.01M719.1 497.3h.01M717.6 490.8h.01M729.7 495.7h.01M710.1 492.6h.01M731.0 508.1h.01M731.4 484.9h.01M722.3 481.9h.01M720.9 511.6h.01M711.5 479.4h.01M716.2 484.7h.01M718.9 486.9h.01M728.6 488.2h.01M720.0 507.7h.01M726.1 494.6h.01M734.1 506.0h.01M725.8 488.0h.01M718.5 515.4h.01M717.8 513.5h.01M724.7 476.2h.01M728.8 488.7h.01M734.3 483.5h.01M733.9 500.5h.01M715.2 492.0h.01M710.8 497.9h.01M734.9 496.2h.01M732.9 495.5h.01M729.9 478.9h.01M728.2 475.8h.01M714.0 523.9h.01M717.9 503.4h.01M717.0 493.3h.01M718.2 488.3h.01M726.4 507.7h.01M727.2 511.8h.01M734.2 492.8h.01M729.3 501.9h.01M727.2 482.8h.01M723.1 486.6h.01M732.5 491.1h.01M735.0 498.5h.01M730.7 492.8h.01M715.7 501.4h.01M711.3 495.3h.01M720.8 514.7h.01M730.0 501.0h.01M710.4 495.9h.01M724.2 486.2h.01M733.9 504.0h.01M735.0 474.7h.01M723.7 499.7h.01M714.9 488.8h.01M725.6 490.2h.01M733.0 467.3h.01M731.6 498.4h.01M735.3 489.9h.01M710.1 495.2h.01M715.5 495.9h.01M725.1 475.0h.01M719.4 474.3h.01M732.9 499.5h.01M729.4 507.7h.01M729.0 491.7h.01M719.9 494.9h.01M723.3 487.3h.01M735.2 497.5h.01M726.8 499.2h.01M720.4 506.2h.01M729.1 493.3h.01M718.7 495.6h.01M724.1 496.2h.01M710.8 479.6h.01M720.4 498.7h.01M732.6 513.0h.01M712.2 486.5h.01M720.6 483.1h.01M710.4 471.9h.01M728.9 504.6h.01M729.8 485.8h.01M713.7 493.7h.01M712.5 508.6h.01M719.9 491.2h.01M728.9 513.1h.01M727.1 506.1h.01M733.7 487.0h.01M725.9 490.0h.01M710.9 496.4h.01M723.7 488.0h.01M713.1 492.4h.01M722.0 472.4h.01M733.5 486.6h.01M723.4 478.6h.01M726.5 487.9h.01M721.4 505.0h.01M726.8 492.2h.01M733.5 503.7h.01M718.9 468.0h.01M723.3 478.9h.01M730.2 486.8h.01M731.6 499.3h.01M720.9 495.6h.01M723.3 482.6h.01M715.9 490.1h.01M728.6 488.9h.01M724.9 500.3h.01M712.9 508.8h.01M734.5 495.5h.01M715.8 502.1h.01M716.6 498.1h.01M733.2 501.6h.01M726.8 500.2h.01M734.0 466.9h.01M734.3 494.1h.01M732.7 494.0h.01M721.8 506.4h.01M728.2 496.7h.01M728.8 460.3h.01M716.6 469.7h.01M722.0 502.4h.01M732.0 504.0h.01M729.5 512.5h.01M712.5 482.7h.01M724.1 496.5h.01M718.1 485.9h.01M711.6 494.2h.01M718.3 484.6h.01M735.0 496.2h.01M717.0 491.4h.01M722.7 506.1h.01M709.7 496.8h.01M731.0 509.8h.01M710.2 499.4h.01M730.3 502.8h.01M713.4 481.4h.01M724.5 477.2h.01M712.9 424.2h.01M710.9 435.5h.01M710.4 444.0h.01M710.9 448.5h.01M728.4 443.5h.01M731.9 444.0h.01M735.4 442.8h.01M711.9 453.0h.01M719.9 455.0h.01M713.9 530.0h.01M733.9 533.0h.01M718.9 526.0h.01M724.9 527.0h.01M709.9 522.0h.01M730.9 523.0h.01"/>
<g stroke="#ecb655" stroke-width="1" fill="none">
<rect x="764.70" y="489.20" width="56.00" height="19.00"/>
<path d="M778.70 462.30H806.70M778.70 534.30H806.70"/>
<path d="M792.70 462.30V489.20M792.70 508.20V534.30" stroke-dasharray="3 1.2"/>
</g>
<path d="M764.70 498.20H820.70" stroke="#e6a023" stroke-width="1.8"/>
<path stroke="#e6a023" stroke-width="3.8" stroke-linecap="round" fill="none" d="M804.3 499.2h.01M805.8 501.4h.01M784.8 480.7h.01M792.8 497.8h.01M801.8 511.4h.01M804.1 506.3h.01M798.7 505.7h.01M792.7 493.4h.01M802.6 508.4h.01M792.5 504.4h.01M797.3 495.8h.01M790.3 501.6h.01M793.6 508.3h.01M785.6 498.4h.01M804.2 495.2h.01M789.3 485.2h.01M805.5 502.1h.01M791.8 514.5h.01M797.7 485.2h.01M793.6 493.7h.01M795.4 492.3h.01M799.9 505.0h.01M785.2 506.5h.01M779.6 498.5h.01M796.7 501.8h.01M804.9 491.1h.01M780.5 507.4h.01M802.8 502.1h.01M789.9 505.0h.01M795.1 501.2h.01M797.8 503.8h.01M800.0 503.3h.01M797.9 527.3h.01M792.2 496.5h.01M788.8 489.2h.01M781.4 504.3h.01M797.6 492.0h.01M802.8 507.1h.01M804.2 501.5h.01M785.9 524.7h.01M784.8 487.2h.01M794.8 511.1h.01M786.8 496.0h.01M794.3 515.8h.01M786.9 500.8h.01M789.3 498.5h.01M801.1 480.5h.01M793.8 525.7h.01M790.7 494.3h.01M792.0 495.1h.01M789.4 483.9h.01M802.7 499.7h.01M805.0 509.5h.01M786.7 509.9h.01M793.3 483.4h.01M802.4 474.0h.01M789.3 501.8h.01M804.3 514.2h.01M784.9 498.4h.01M799.5 502.0h.01M793.1 506.4h.01M801.4 490.6h.01M804.8 509.8h.01M780.3 495.7h.01M788.9 518.4h.01M782.6 500.1h.01M792.8 493.8h.01M795.0 506.1h.01M783.8 492.3h.01M792.5 507.8h.01M800.9 496.5h.01M794.6 494.5h.01M788.7 516.7h.01M799.7 475.7h.01M794.2 503.3h.01M791.5 493.8h.01M796.7 500.4h.01M784.1 531.7h.01M803.6 485.4h.01M803.7 509.6h.01M782.8 497.3h.01M789.9 504.7h.01M789.5 495.7h.01M805.1 507.5h.01M794.4 519.3h.01M783.4 501.6h.01M789.6 498.4h.01M792.4 497.7h.01M791.4 481.5h.01M796.1 479.8h.01M783.4 485.1h.01M783.5 492.8h.01M795.4 514.9h.01M791.3 516.8h.01M804.6 491.4h.01M785.5 498.0h.01M802.8 504.9h.01M793.7 502.5h.01M793.8 481.9h.01M796.9 500.0h.01M804.5 505.2h.01M805.7 482.1h.01M799.6 498.4h.01M792.1 476.9h.01M797.7 496.5h.01M783.0 480.0h.01M803.6 507.2h.01M790.5 501.1h.01M782.9 504.8h.01M796.6 518.4h.01M796.2 466.0h.01M785.6 491.0h.01M793.2 506.4h.01M782.6 490.0h.01M780.6 490.9h.01M803.1 506.0h.01M799.7 496.7h.01M789.5 517.6h.01M791.3 489.9h.01M795.5 481.9h.01M795.2 488.2h.01M781.5 510.5h.01M780.0 507.8h.01M796.8 494.9h.01M803.1 516.4h.01M793.6 482.5h.01M803.7 493.9h.01M800.1 506.3h.01M794.8 503.3h.01M798.1 525.0h.01M796.3 524.1h.01M792.7 491.7h.01M780.2 489.1h.01M802.2 501.9h.01M801.9 495.3h.01M785.5 493.6h.01M781.9 507.4h.01M789.2 513.1h.01M795.8 517.3h.01M788.6 510.8h.01M800.0 504.6h.01M780.9 499.4h.01M805.7 499.5h.01M800.1 506.8h.01M800.6 493.1h.01M787.8 506.5h.01M800.1 506.0h.01M784.0 506.0h.01M805.5 509.9h.01M795.2 517.6h.01M805.5 481.4h.01M795.9 514.0h.01M783.8 480.4h.01M780.8 499.4h.01M801.7 473.2h.01M785.0 501.8h.01M779.8 495.3h.01M786.7 464.1h.01M779.8 509.5h.01M787.8 506.0h.01M786.7 489.6h.01M803.9 495.5h.01M780.7 518.9h.01M800.0 513.9h.01M797.3 500.5h.01M790.4 492.7h.01M784.5 505.0h.01M793.4 510.4h.01M786.9 483.0h.01M798.6 491.6h.01M788.3 516.3h.01M805.6 501.4h.01M788.8 500.0h.01M804.0 494.5h.01M805.9 506.9h.01M785.6 512.9h.01M794.1 500.0h.01M799.7 516.0h.01M783.1 502.1h.01M789.0 482.8h.01M803.1 491.4h.01M799.6 514.4h.01M783.5 486.4h.01M797.8 510.3h.01M798.4 479.7h.01M794.4 489.7h.01M786.4 516.1h.01M795.3 498.8h.01M789.8 488.3h.01M802.1 507.2h.01M779.8 515.3h.01M780.1 505.5h.01M789.5 509.6h.01M801.3 506.4h.01M789.4 511.2h.01M793.7 504.5h.01M784.8 494.8h.01M798.4 494.8h.01M798.6 500.9h.01M797.4 485.2h.01M803.0 478.4h.01M788.8 495.5h.01M801.8 488.8h.01M783.5 492.6h.01M789.9 498.1h.01M780.8 497.1h.01M779.9 496.4h.01M788.5 497.4h.01M792.7 479.6h.01M800.8 505.6h.01M786.3 497.4h.01M790.3 501.2h.01M792.8 485.1h.01M785.9 488.1h.01M787.9 483.3h.01M790.3 518.6h.01M790.5 495.7h.01M799.7 490.4h.01M801.7 504.2h.01M797.6 505.3h.01M805.9 491.7h.01M786.0 512.8h.01M796.3 506.0h.01M780.3 476.7h.01M798.4 487.8h.01M790.1 492.7h.01M793.8 479.6h.01M784.5 496.1h.01M786.5 523.4h.01M802.9 503.2h.01M785.3 493.0h.01M803.8 501.8h.01M793.3 497.0h.01M800.4 493.8h.01M785.9 495.2h.01M783.2 509.9h.01M783.2 516.6h.01M801.9 512.2h.01M793.3 490.4h.01M787.6 487.1h.01M799.5 485.7h.01M803.3 493.6h.01M797.3 481.3h.01M783.7 493.5h.01M805.0 498.6h.01M800.5 479.5h.01M782.7 506.3h.01M786.5 489.7h.01M788.9 490.5h.01M793.8 500.9h.01M796.2 487.9h.01M797.1 505.8h.01M788.0 491.3h.01M785.4 486.7h.01M796.9 497.8h.01M780.9 522.9h.01M784.5 487.6h.01M780.8 501.8h.01M781.1 502.0h.01M794.1 511.7h.01M805.1 487.1h.01M781.0 517.0h.01M791.5 495.4h.01M787.1 515.3h.01M789.4 512.2h.01M782.0 498.6h.01M797.6 509.0h.01M799.7 507.4h.01M780.9 508.9h.01M805.3 486.7h.01M782.4 485.2h.01M804.0 512.0h.01M788.5 504.1h.01M793.3 503.1h.01M783.8 508.0h.01M791.3 487.4h.01M786.3 486.2h.01M783.2 507.9h.01M780.1 492.8h.01M788.1 514.6h.01M798.0 500.8h.01M801.3 494.5h.01M782.2 487.4h.01M785.8 479.1h.01M790.5 509.1h.01M790.4 506.8h.01M791.2 497.1h.01M805.6 484.2h.01M792.9 489.6h.01M780.2 498.6h.01M794.3 499.5h.01M785.0 500.6h.01M787.9 494.5h.01M796.3 510.6h.01M800.5 515.4h.01M805.8 484.7h.01M804.9 513.8h.01M804.9 500.8h.01M790.4 502.6h.01M798.0 494.7h.01M805.8 501.2h.01M797.7 511.0h.01M797.5 480.3h.01M794.3 494.5h.01M783.7 508.9h.01M784.4 507.9h.01M783.9 503.9h.01M801.2 487.2h.01M779.5 498.5h.01M783.0 500.8h.01M786.4 504.9h.01M785.0 498.2h.01M787.2 487.7h.01M791.8 487.5h.01M779.5 482.5h.01M788.3 490.8h.01M793.5 519.2h.01M798.5 505.4h.01M783.7 476.6h.01M790.6 475.4h.01M785.1 472.2h.01M786.3 496.3h.01M782.0 499.7h.01M793.9 513.7h.01M804.5 485.9h.01M803.7 489.8h.01M800.3 491.0h.01M785.3 496.7h.01M790.8 502.4h.01M794.3 514.6h.01M800.6 490.8h.01M786.7 507.3h.01M802.3 489.9h.01M780.9 504.1h.01M794.3 496.9h.01M804.9 495.6h.01M797.2 490.8h.01M800.3 495.4h.01M793.7 502.3h.01M788.0 506.5h.01M786.1 512.2h.01M785.1 506.2h.01M783.3 498.3h.01M795.1 504.1h.01M802.7 513.3h.01M801.4 492.1h.01M804.7 513.5h.01M805.6 494.9h.01M803.2 488.0h.01M799.2 476.5h.01M800.5 509.7h.01M800.4 517.8h.01M804.1 495.3h.01M791.6 502.7h.01M784.9 495.7h.01M805.1 511.1h.01M803.0 488.1h.01M795.1 500.6h.01M781.0 466.6h.01M781.0 502.2h.01M795.9 498.7h.01M790.5 512.9h.01M803.7 493.8h.01M800.7 511.4h.01M804.8 517.3h.01M787.1 489.3h.01M803.1 506.4h.01M788.6 500.0h.01M795.2 516.9h.01M791.0 495.6h.01M794.6 493.5h.01M800.9 496.2h.01M797.8 475.8h.01M800.4 493.6h.01M784.7 494.0h.01M802.0 494.9h.01M793.1 512.6h.01M782.1 491.2h.01M795.5 519.4h.01M793.3 519.1h.01M785.3 515.0h.01M797.0 491.1h.01M805.2 503.3h.01M789.2 519.0h.01M789.6 499.1h.01M783.6 484.3h.01M787.4 489.5h.01M795.4 473.3h.01M792.3 492.7h.01M792.6 503.0h.01M805.7 490.5h.01M785.4 494.0h.01M785.8 501.9h.01M788.0 497.7h.01M792.7 469.4h.01M801.2 512.0h.01M790.2 486.8h.01M805.1 500.4h.01M781.9 494.4h.01M780.2 489.0h.01M790.0 494.1h.01M801.1 511.1h.01M784.0 489.7h.01M799.9 502.1h.01M801.9 486.7h.01M802.3 493.7h.01M781.4 499.9h.01M794.2 500.7h.01M791.6 511.7h.01M779.7 484.8h.01M799.9 504.2h.01M789.3 500.5h.01M785.1 510.5h.01M804.7 504.0h.01M796.8 505.5h.01M789.4 504.8h.01M804.4 497.2h.01M789.4 501.6h.01M781.5 503.4h.01M793.4 492.8h.01M799.9 506.6h.01M793.4 512.2h.01M800.6 499.9h.01M791.3 489.4h.01M784.4 503.9h.01M794.9 493.9h.01M798.7 496.5h.01M788.2 496.5h.01M800.6 481.0h.01M803.0 493.6h.01M784.8 486.9h.01M794.0 497.1h.01M783.4 506.1h.01M803.6 486.0h.01M779.7 505.9h.01M801.7 491.0h.01M780.6 507.5h.01M801.0 489.6h.01M779.8 508.0h.01M796.6 524.6h.01M788.8 497.2h.01M805.5 487.8h.01M801.3 489.7h.01M796.0 515.7h.01M782.6 518.1h.01M784.9 496.5h.01M792.1 526.5h.01M781.9 484.7h.01M794.8 498.3h.01M793.8 498.5h.01M794.9 501.0h.01M782.6 496.8h.01M784.4 495.7h.01M790.0 514.3h.01M796.4 489.7h.01M803.2 497.0h.01M789.3 502.5h.01M793.9 469.7h.01M801.2 494.5h.01M803.8 516.8h.01M805.3 473.4h.01M787.6 529.3h.01M784.4 500.5h.01M788.2 498.0h.01M796.3 508.8h.01M800.2 495.3h.01M804.8 492.2h.01M802.0 505.7h.01M801.3 492.1h.01M780.1 508.8h.01M792.1 492.0h.01M791.4 493.7h.01M785.5 484.1h.01M784.3 480.6h.01M789.4 501.2h.01M788.1 494.5h.01M781.7 517.7h.01M785.3 519.8h.01M785.6 504.2h.01M782.4 512.3h.01M800.2 508.8h.01M787.5 501.2h.01M785.7 495.6h.01M784.1 504.9h.01M802.6 491.9h.01M787.4 479.8h.01M783.8 492.7h.01M796.3 508.3h.01M791.1 490.6h.01M780.1 478.8h.01M804.7 493.5h.01M794.5 481.9h.01M790.8 505.5h.01M805.8 499.0h.01M795.4 487.1h.01M780.1 518.1h.01M804.3 480.7h.01M801.7 497.1h.01M789.6 507.5h.01M792.5 497.2h.01M788.2 430.5h.01M790.7 434.5h.01M793.2 441.0h.01M780.7 447.5h.01M789.7 446.5h.01M795.7 446.0h.01M798.7 444.5h.01M782.7 457.0h.01M791.7 456.0h.01M797.7 458.0h.01M800.7 534.5h.01M783.7 530.0h.01M790.7 531.0h.01M795.7 528.0h.01M780.7 524.0h.01M802.7 526.0h.01"/>
<g stroke="#e748e7" stroke-width="1" fill="none">
<rect x="834.40" y="489.90" width="56.00" height="19.40"/>
<path d="M848.40 463.80H876.40M848.40 532.90H876.40"/>
<path d="M862.40 463.80V489.90M862.40 509.30V532.90" stroke-dasharray="3 1.2"/>
</g>
<path d="M834.40 499.60H890.40" stroke="#e012e0" stroke-width="1.8"/>
<path stroke="#e012e0" stroke-width="3.8" stroke-linecap="round" fill="none" d="M863.3 490.5h.01M869.1 499.7h.01M870.9 484.4h.01M852.3 490.3h.01M870.4 513.2h.01M854.5 503.3h.01M865.7 492.9h.01M872.2 480.6h.01M858.0 507.8h.01M851.7 516.3h.01M861.7 505.1h.01M861.7 493.6h.01M871.4 522.6h.01M866.3 492.1h.01M863.3 497.9h.01M873.2 493.3h.01M871.1 517.5h.01M860.4 481.9h.01M864.7 493.1h.01M855.5 492.3h.01M860.0 498.5h.01M859.3 509.2h.01M858.4 492.1h.01M863.8 515.6h.01M864.7 487.5h.01M856.9 517.2h.01M855.5 502.5h.01M866.0 482.6h.01M864.3 492.0h.01M853.0 496.2h.01M866.6 482.6h.01M872.1 490.4h.01M852.8 514.0h.01M852.3 526.3h.01M851.7 491.7h.01M858.5 486.8h.01M873.5 502.8h.01M865.3 520.6h.01M856.1 505.0h.01M864.7 501.8h.01M864.2 505.5h.01M873.6 525.9h.01M853.7 512.4h.01M861.1 502.6h.01M859.3 485.1h.01M864.6 493.1h.01M862.7 520.6h.01M863.2 504.9h.01M865.9 460.2h.01M849.4 464.0h.01M860.4 464.8h.01M873.4 474.0h.01M853.4 472.0h.01M856.4 478.0h.01M862.4 532.8h.01M851.4 522.0h.01M857.4 519.0h.01"/>
</svg></body></html>
